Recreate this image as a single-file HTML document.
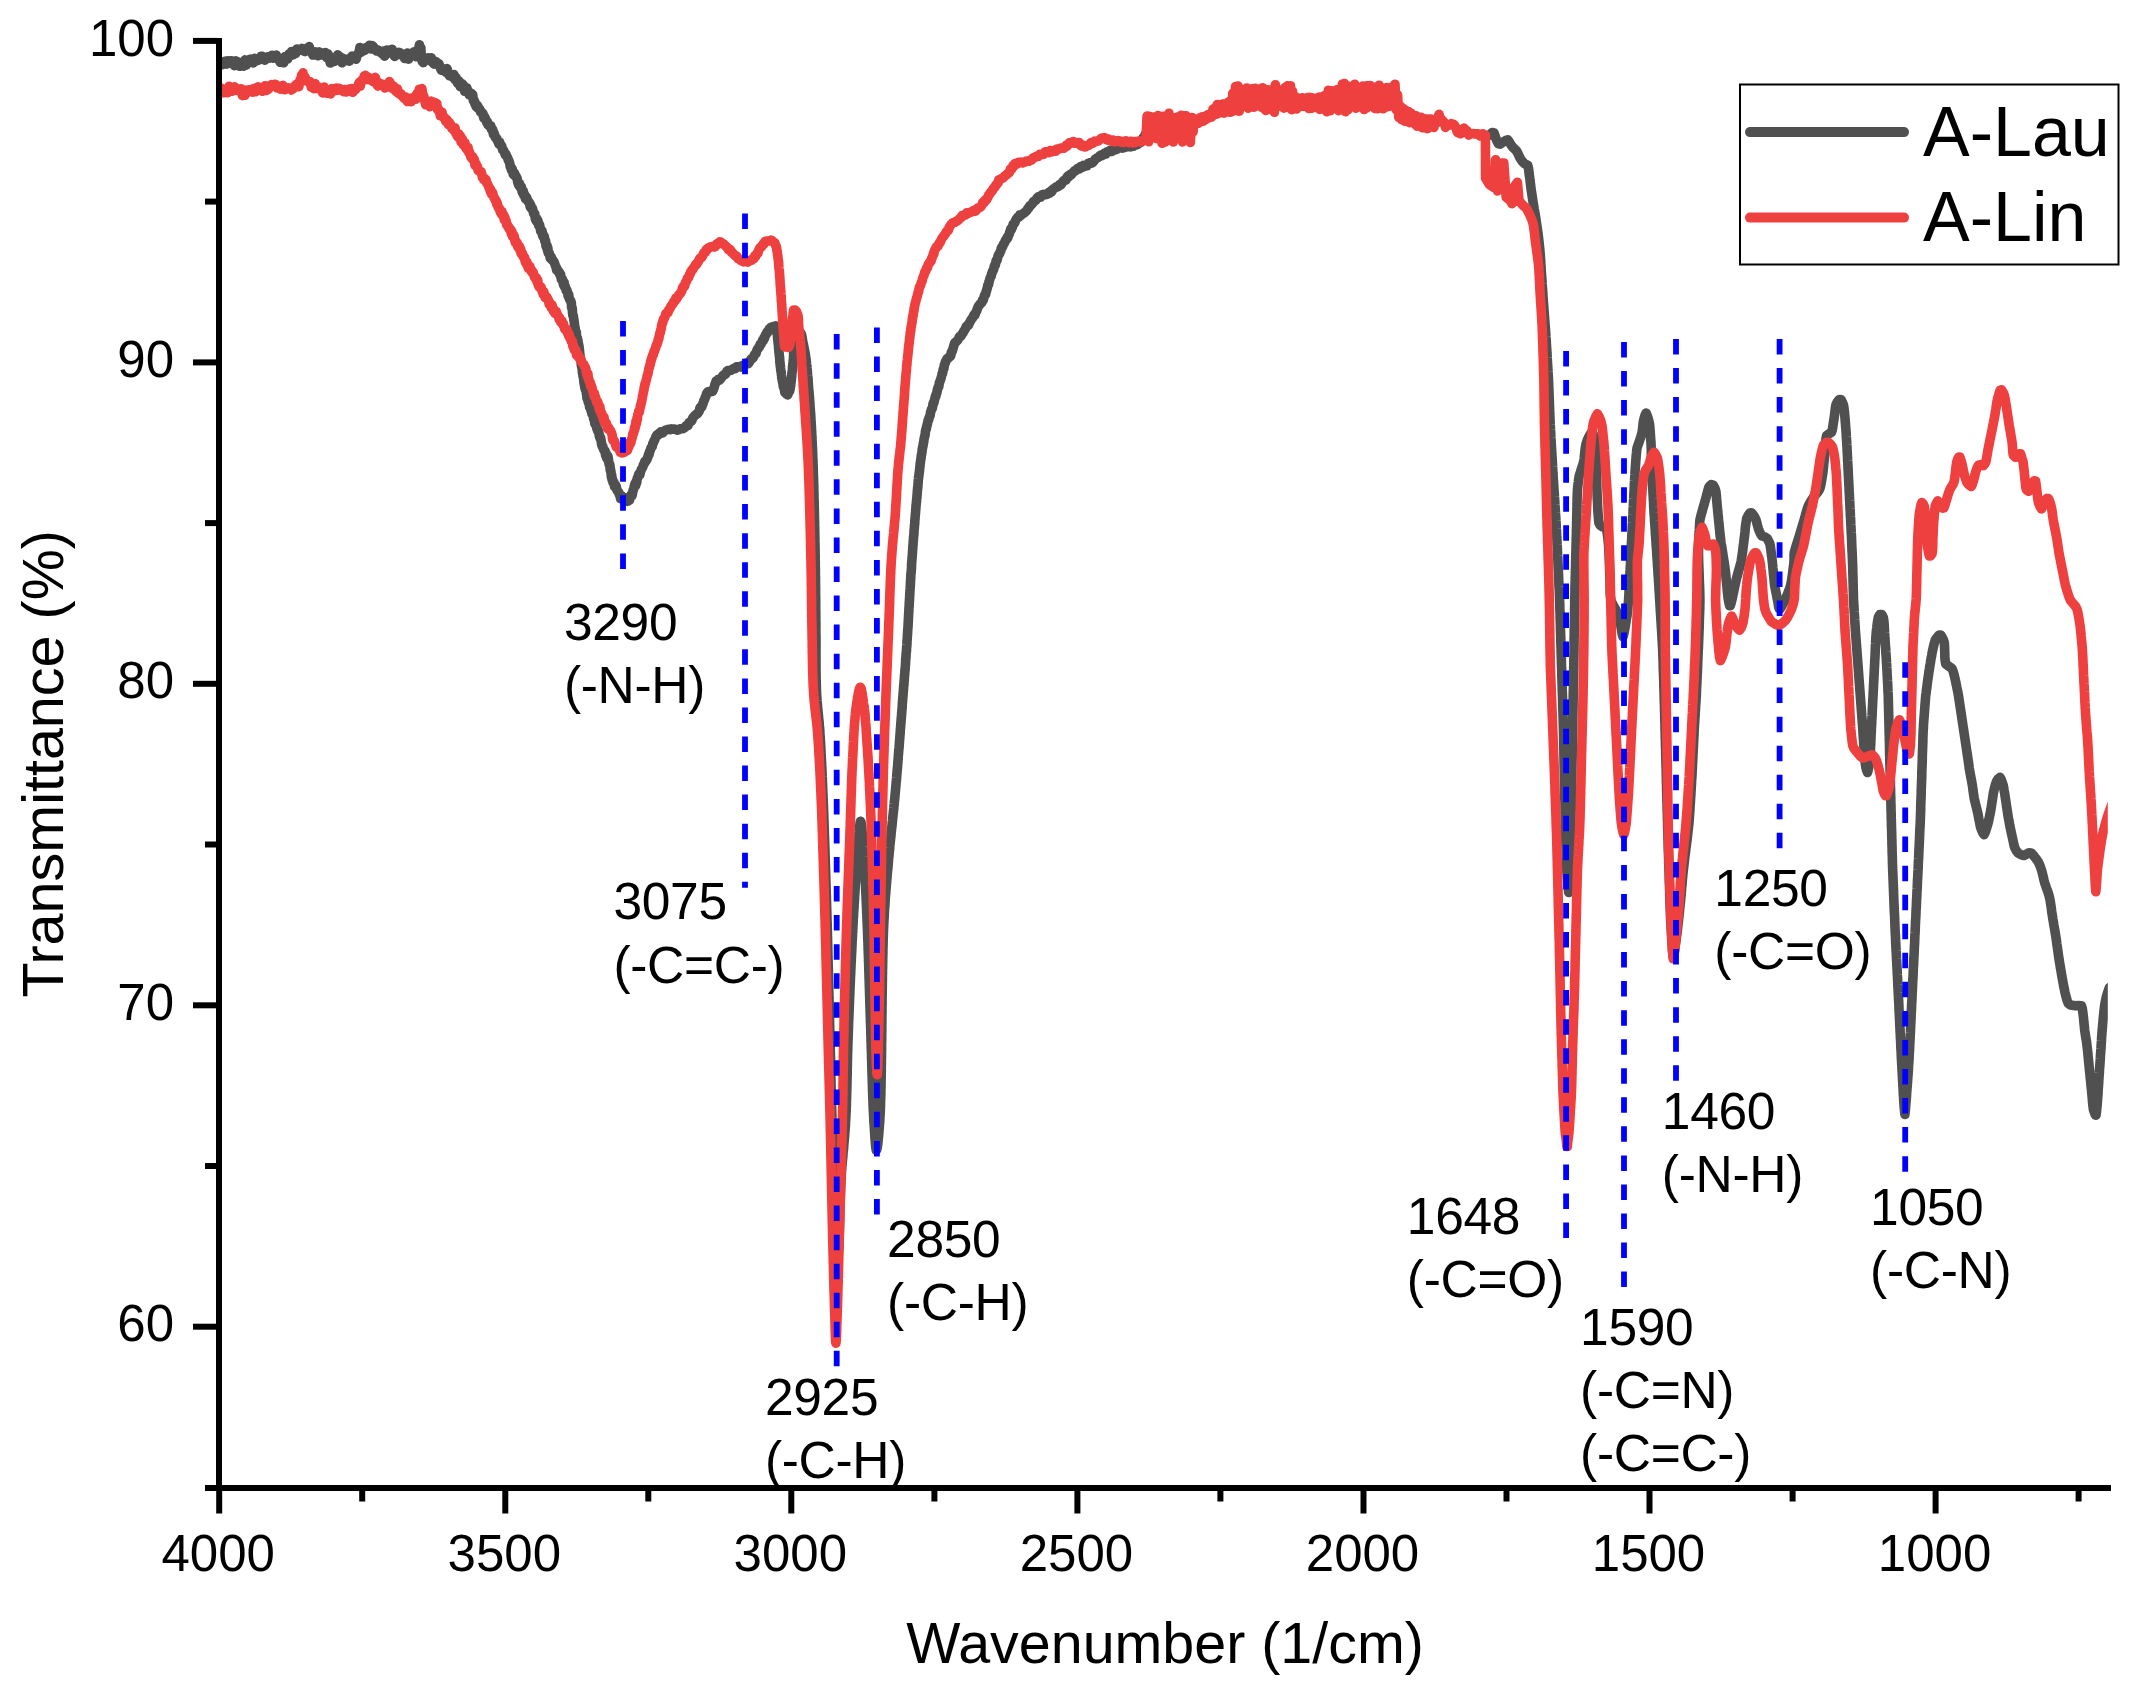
<!DOCTYPE html>
<html lang="en"><head><meta charset="utf-8"><title>FTIR spectra A-Lau / A-Lin</title>
<style>html,body{margin:0;padding:0;background:#fff}svg{display:block}text{font-family:"Liberation Sans",sans-serif;fill:#000}</style></head><body>
<svg width="2134" height="1691" viewBox="0 0 2134 1691">
<rect width="2134" height="1691" fill="#fff"/>
<defs><clipPath id="plot"><rect x="219.0" y="0" width="1888.8" height="1488.0"/></clipPath></defs>
<g clip-path="url(#plot)" fill="none" stroke-linejoin="round" stroke-linecap="round">
<path d="M216.9 63.7L218.2 62.5L219.6 65.6L221.0 61.7L222.3 64.6L223.7 63.4L225.1 61.2L226.4 64.1L227.8 60.8L229.1 63.3L230.5 60.8L231.8 60.9L233.1 63.0L234.5 65.6L235.8 60.9L237.1 61.6L238.5 64.2L239.8 66.3L241.1 63.8L242.4 62.5L243.7 66.2L245.0 59.9L246.4 65.0L247.8 61.0L249.2 59.7L250.6 59.1L251.9 60.0L253.3 62.9L254.6 58.4L255.9 60.7L257.1 60.7L258.3 58.8L259.7 59.7L261.0 56.4L262.3 56.3L263.5 57.2L264.9 60.1L266.2 58.1L267.7 56.9L269.2 58.1L270.6 56.7L272.1 55.2L273.5 58.2L274.8 57.6L276.3 55.1L277.5 58.3L278.8 59.1L280.1 62.3L281.5 61.8L282.6 58.7L283.8 62.8L285.1 56.5L286.4 57.6L287.7 59.0L289.0 54.0L290.2 55.4L291.4 51.6L292.6 54.9L293.6 54.6L294.7 52.4L295.7 53.5L296.8 49.0L298.0 51.0L299.3 49.9L300.7 49.5L302.1 48.4L303.6 50.9L305.1 51.6L306.5 48.6L307.9 50.1L309.2 46.5L310.5 51.4L311.7 51.8L312.9 54.9L314.1 54.7L315.4 51.9L316.6 53.3L317.9 55.7L319.3 51.9L320.9 55.0L322.4 53.1L324.0 52.9L325.4 52.6L326.7 57.6L327.8 53.8L328.9 55.8L329.6 58.4L330.2 63.0L331.1 58.5L332.1 60.7L333.1 60.4L334.3 61.4L335.4 59.8L336.6 59.1L337.7 54.8L338.8 56.1L339.9 56.6L340.9 61.2L342.0 62.8L343.1 58.4L344.4 59.1L345.5 59.6L346.7 59.4L348.1 60.8L349.4 61.1L350.7 58.4L352.0 56.1L353.2 58.1L354.3 57.1L355.3 57.5L356.1 59.1L356.9 56.2L357.6 53.8L358.3 53.3L359.1 52.5L359.9 47.5L360.9 52.3L362.2 50.9L363.5 51.0L365.0 50.1L366.5 47.2L368.0 47.1L369.5 45.2L370.9 48.9L372.0 45.5L373.1 46.2L374.2 48.0L375.3 48.7L376.4 50.9L377.5 49.9L378.6 50.4L379.7 52.0L380.8 52.0L382.0 53.7L383.3 51.1L384.6 56.2L385.9 53.8L387.1 50.1L388.4 50.2L389.6 50.4L390.7 50.4L392.1 49.2L393.4 54.6L394.7 56.4L395.9 53.8L397.4 54.5L398.6 52.3L400.0 52.8L401.5 54.7L402.9 54.5L404.4 58.4L405.9 54.1L407.3 53.1L408.6 59.1L410.0 56.1L411.3 53.3L412.7 55.6L414.0 51.7L415.3 54.5L416.3 56.8L417.2 55.4L418.1 53.0L418.6 48.4L419.1 47.3L419.4 44.7L419.9 48.2L420.2 46.9L420.4 49.2L420.7 47.4L420.9 48.1L421.1 53.7L421.3 56.6L421.6 57.6L421.8 59.1L422.1 60.9L422.5 61.9L422.9 59.8L423.3 62.6L423.8 62.0L424.8 59.6L425.8 58.7L427.0 59.1L428.2 57.7L429.3 59.6L430.5 61.0L431.4 57.9L432.3 61.8L433.2 63.2L434.1 64.1L435.1 61.5L436.0 61.7L437.1 62.8L438.1 63.3L439.1 64.1L440.2 67.6L441.3 70.1L442.5 70.5L443.6 68.8L444.8 70.7L445.9 72.4L447.0 68.5L448.2 73.1L449.3 75.6L450.5 75.7L451.6 76.4L452.7 75.5L453.9 74.5L454.9 79.5L456.0 77.4L457.0 81.5L457.9 83.6L458.7 80.9L459.6 82.0L460.3 86.7L461.1 86.3L461.9 83.7L462.7 84.4L463.6 85.4L464.7 91.3L465.8 91.4L466.9 87.8L468.1 93.0L469.2 94.8L470.2 93.4L470.9 92.9L471.5 94.9L472.1 94.1L472.7 94.7L473.3 100.4L473.8 100.2L474.4 100.9L474.9 104.1L475.5 103.1L476.1 106.4L476.8 107.5L477.5 105.8L478.2 107.1L478.9 108.4L479.7 109.3L480.5 112.0L481.3 111.6L482.1 113.5L482.9 113.3L483.7 118.0L484.5 116.6L485.2 118.3L486.0 120.0L486.8 122.7L487.4 121.6L488.1 125.1L488.8 124.4L489.5 125.7L490.1 126.9L490.8 125.8L491.4 129.0L492.1 129.1L492.7 129.5L493.4 134.4L494.0 132.7L494.7 135.3L495.4 137.7L496.0 138.1L496.7 138.3L497.4 140.4L498.1 141.7L498.9 144.0L499.6 142.0L500.3 145.3L501.1 145.0L501.8 146.3L502.6 149.8L503.3 149.7L504.0 151.2L504.7 153.2L505.4 155.1L506.0 154.2L506.6 156.1L507.2 156.9L507.8 158.2L508.3 160.3L508.8 160.4L509.3 162.1L509.7 163.1L510.2 166.5L510.7 166.6L511.1 168.7L511.6 170.3L512.1 168.5L512.7 171.1L513.2 174.2L513.8 174.9L514.3 172.8L514.8 173.9L515.4 176.5L516.0 176.0L516.6 177.9L517.1 178.3L517.7 182.2L518.3 183.9L519.0 185.6L519.6 183.4L520.2 187.2L520.8 188.1L521.4 186.9L522.0 191.5L522.6 193.0L523.2 190.8L523.8 195.3L524.4 193.9L524.9 195.5L525.5 198.9L526.1 199.4L526.7 197.4L527.3 199.8L527.9 201.4L528.5 201.7L529.1 202.2L529.7 203.9L530.2 207.0L530.8 204.9L531.4 208.6L532.0 209.2L532.5 208.5L533.1 211.1L533.7 213.7L534.2 214.3L534.7 213.5L535.3 218.9L535.8 219.2L536.4 221.3L536.9 218.6L537.5 220.5L538.0 220.7L538.6 225.4L539.1 224.3L539.6 224.9L540.1 227.5L540.6 230.9L541.1 231.7L541.6 230.4L542.1 231.1L542.6 235.8L543.0 235.4L543.5 237.3L544.0 235.8L544.4 236.9L544.8 241.0L545.2 241.1L545.6 240.7L545.9 245.9L546.3 245.8L546.7 247.8L547.1 245.7L547.5 250.5L547.9 248.1L548.3 253.0L548.7 252.3L549.2 253.0L549.7 255.2L550.2 258.1L550.7 256.3L551.2 256.8L551.8 259.8L552.4 259.6L553.0 260.2L553.6 261.5L554.2 262.2L554.8 264.0L555.4 265.7L556.0 266.8L556.6 270.1L557.2 269.1L557.8 271.2L558.4 270.9L559.0 272.9L559.6 272.6L560.1 274.9L560.7 274.9L561.3 279.4L561.8 279.7L562.4 279.2L562.9 281.7L563.5 285.0L564.1 282.4L564.6 286.9L565.2 286.3L565.7 287.8L566.2 290.6L566.8 289.8L567.3 291.6L567.8 293.7L568.2 296.3L568.7 294.6L569.1 298.2L569.5 299.0L569.9 299.8L570.2 300.0L570.5 300.9L570.8 300.8L571.1 302.5L571.4 303.5L571.6 307.9L571.9 307.0L572.1 307.9L572.3 308.9L572.6 313.8L572.8 315.2L573.0 315.7L573.2 315.2L573.4 316.4L573.6 318.0L573.8 320.1L574.0 320.0L574.2 322.6L574.4 323.0L574.6 327.5L574.8 328.7L575.0 328.0L575.2 327.7L575.4 332.1L575.7 330.7L576.0 332.3L576.3 332.1L576.5 335.2L576.8 337.0L577.1 338.4L577.4 338.3L577.6 341.0L577.9 340.0L578.1 342.5L578.4 343.0L578.7 345.8L578.9 345.6L579.1 346.8L579.3 349.3L579.5 350.3L579.7 353.2L579.9 354.2L580.1 356.5L580.3 357.4L580.5 359.0L580.7 361.1L580.9 360.2L581.1 361.2L581.3 365.6L581.5 363.1L581.7 367.1L581.9 368.1L582.1 366.7L582.3 371.6L582.5 373.2L582.7 373.3L582.9 375.1L583.1 376.8L583.3 375.1L583.5 378.2L583.7 379.4L583.9 382.3L584.2 383.5L584.4 385.0L584.6 385.2L584.8 387.9L585.1 388.3L585.3 389.6L585.5 388.8L585.8 389.2L586.1 390.9L586.3 393.2L586.6 393.2L586.9 397.9L587.3 398.0L587.6 399.6L588.0 400.9L588.4 402.4L588.8 402.8L589.1 401.8L589.5 406.7L589.9 407.7L590.3 407.8L590.7 409.2L591.1 411.0L591.5 409.5L591.9 413.9L592.3 412.9L592.8 413.4L593.2 415.5L593.6 418.9L594.0 417.8L594.5 421.5L594.9 423.9L595.3 422.9L595.8 423.7L596.2 425.4L596.6 427.6L597.0 429.2L597.4 429.8L597.8 431.2L598.2 429.9L598.6 431.5L599.0 433.3L599.4 436.8L599.7 436.1L600.1 438.6L600.5 437.4L600.8 438.9L601.2 441.2L601.6 444.3L602.0 445.6L602.4 446.8L602.8 446.2L603.2 448.3L603.7 449.5L604.3 450.9L605.0 450.6L605.6 455.4L606.2 453.4L606.8 458.2L607.4 459.3L608.0 456.5L608.5 459.9L608.9 462.8L609.2 464.8L609.5 463.8L609.7 464.3L610.0 465.5L610.2 470.3L610.4 468.4L610.6 471.5L610.9 470.9L611.1 474.0L611.4 477.4L611.7 474.9L612.0 479.3L612.5 479.3L613.0 482.5L613.5 483.0L614.0 482.2L614.5 486.6L615.1 485.9L615.6 485.1L616.2 486.2L616.8 489.6L617.4 490.8L618.0 491.5L618.6 492.1L619.2 494.3L619.9 495.3L620.6 498.7L621.5 495.7L622.8 499.8L624.3 500.7L625.9 497.7L627.4 501.4L628.6 500.1L629.5 500.3L630.3 496.4L630.9 495.5L631.5 494.1L632.1 495.5L632.7 492.4L633.2 490.1L633.7 489.0L634.2 486.9L634.7 484.5L635.2 483.3L635.7 485.3L636.2 481.4L636.7 483.0L637.2 478.5L637.7 477.2L638.2 477.0L638.7 474.2L639.2 473.7L639.8 475.0L640.4 472.3L640.9 470.8L641.5 469.0L642.1 468.3L642.8 467.0L643.4 464.9L644.1 464.1L644.8 461.5L645.5 461.8L646.2 460.1L646.9 459.5L647.5 458.1L648.1 456.0L648.6 454.1L649.1 454.6L649.6 451.5L650.1 450.9L650.6 449.3L651.1 447.8L651.6 447.4L652.2 446.5L652.8 443.5L653.4 443.0L654.0 440.8L654.6 440.1L655.3 438.4L655.9 436.6L656.6 435.4L657.3 434.4L658.2 435.0L659.2 433.3L660.4 432.1L661.6 433.1L662.9 432.8L664.2 431.2L665.6 430.1L667.1 429.8L668.5 429.3L670.0 429.6L671.4 428.9L672.8 429.1L674.3 429.0L675.7 429.6L677.1 430.2L678.5 429.8L680.0 428.9L681.5 428.8L682.9 428.7L684.2 427.9L685.3 427.1L686.2 425.6L687.1 425.1L688.0 425.5L688.9 422.6L689.9 422.3L690.8 421.4L691.8 420.7L692.7 418.1L693.6 417.0L694.6 415.8L695.6 415.0L696.5 414.0L697.5 413.9L698.4 412.4L699.1 411.3L699.8 408.3L700.5 407.2L701.2 407.5L701.9 406.7L702.5 404.5L703.1 403.5L703.7 400.9L704.1 400.3L704.5 400.0L704.9 398.3L705.4 397.0L706.0 396.0L706.7 393.3L707.7 392.1L709.0 391.6L710.3 391.9L711.5 391.6L712.6 391.3L713.3 389.7L713.9 388.1L714.4 386.8L714.8 384.6L715.4 383.4L716.1 381.0L717.1 381.6L718.3 379.4L719.6 380.1L720.8 378.6L722.0 376.9L723.0 375.5L724.0 374.7L725.0 374.5L725.9 373.6L726.9 371.3L727.9 370.5L729.4 370.7L730.8 370.3L732.3 369.4L733.9 368.4L735.2 368.7L736.5 366.8L738.0 366.9L739.4 366.6L740.8 367.1L742.1 365.8L743.4 365.8L744.6 364.4L745.9 363.3L747.1 362.8L748.2 363.7L749.2 362.4L750.3 360.5L751.3 358.8L752.2 358.7L753.1 357.8L754.0 355.8L754.6 354.4L755.3 354.2L756.0 353.6L756.7 350.8L757.4 349.2L758.1 348.6L758.7 347.5L759.4 346.9L760.0 344.7L760.7 344.8L761.3 343.5L762.0 341.9L762.6 340.1L763.3 340.6L763.9 338.1L764.6 338.0L765.2 335.6L765.9 334.3L766.5 334.2L767.1 332.0L767.8 332.3L768.6 330.2L769.4 328.7L770.7 327.5L772.3 326.8L773.7 326.6L774.9 327.1L775.6 325.9L776.0 327.5L776.4 328.4L776.6 331.7L776.9 331.6L777.1 333.1L777.3 334.8L777.5 336.7L777.7 339.0L777.9 340.3L778.0 341.3L778.1 343.2L778.2 344.4L778.4 344.5L778.5 345.5L778.6 348.6L778.7 349.5L778.8 349.3L778.9 352.1L779.1 352.8L779.2 354.1L779.3 355.3L779.4 356.3L779.6 357.3L779.7 359.2L779.8 360.7L779.9 363.4L780.1 362.9L780.2 366.0L780.4 365.7L780.5 367.4L780.7 369.7L780.9 371.1L781.1 371.6L781.2 372.2L781.4 374.5L781.6 375.7L781.8 378.3L782.0 378.0L782.2 379.7L782.5 382.1L782.7 381.5L782.9 383.5L783.2 385.8L783.5 387.2L783.8 387.0L784.1 388.3L784.4 389.6L784.8 392.5L785.3 391.9L786.5 394.2L787.7 394.9L788.4 393.0L789.1 391.5L789.6 391.2L790.1 388.7L790.4 386.7L790.6 386.5L790.8 384.2L791.0 382.7L791.1 380.6L791.3 380.8L791.4 379.6L791.6 377.5L791.7 376.6L791.9 373.3L792.0 372.5L792.1 371.7L792.3 371.5L792.4 370.1L792.5 367.5L792.7 365.9L792.8 364.9L792.9 363.7L793.1 363.3L793.2 360.3L793.3 360.4L793.4 358.9L793.5 357.7L793.6 356.3L793.6 354.5L793.7 352.6L793.8 351.2L793.8 349.9L793.9 349.5L794.0 346.7L794.1 345.6L794.3 345.5L794.4 343.2L794.6 341.3L794.8 339.7L795.0 339.2L795.2 337.1L795.5 337.0L795.8 335.3L796.1 334.3L796.4 331.6L796.8 330.5L797.3 330.1L798.9 331.2L800.5 332.8L801.0 333.4L801.4 334.3L801.8 335.8L802.1 337.5L802.4 339.1L802.6 340.8L802.9 342.5L803.2 343.9L803.5 344.6L803.7 346.5L804.0 347.2L804.2 348.7L804.5 349.8L804.7 351.4L805.0 352.2L805.2 353.6L805.4 355.0L805.6 356.3L805.9 358.5L806.1 359.8L806.2 360.6L806.4 361.9L806.5 363.6L806.6 364.4L806.8 365.4L806.9 367.2L807.0 368.3L807.2 370.0L807.3 370.5L807.4 372.2L807.5 373.9L807.6 375.3L807.8 376.8L807.9 377.3L808.0 379.0L808.1 380.2L808.2 381.7L808.3 383.9L808.4 384.9L808.5 386.6L808.6 387.4L808.7 389.3L808.8 390.2L809.0 391.4L809.1 393.2L809.2 394.7L809.3 395.2L809.4 397.0L809.5 398.3L809.6 399.2L809.7 400.6L809.8 401.7L809.9 403.0L810.0 404.4L810.0 406.0L810.1 407.4L810.2 408.2L810.3 409.3L810.4 411.0L810.5 412.7L810.6 413.5L810.7 415.0L810.8 416.2L810.9 418.2L810.9 419.3L811.0 420.3L811.1 421.7L811.2 423.5L811.3 424.8L811.3 426.1L811.4 426.8L811.5 428.1L811.5 429.8L811.6 430.7L811.7 431.8L811.7 433.1L811.8 435.0L811.8 435.6L811.9 437.1L812.0 438.1L812.0 439.4L812.1 441.2L812.2 442.6L812.2 443.2L812.3 444.4L812.3 446.2L812.4 447.0L812.5 448.1L812.5 450.3L812.6 451.2L812.6 453.0L812.7 453.9L812.7 455.8L812.8 456.8L812.8 457.9L812.9 459.1L813.0 461.1L813.0 462.7L813.1 464.4L813.1 465.1L813.2 467.1L813.2 468.4L813.3 470.0L813.3 470.8L813.3 472.0L813.4 473.4L813.4 474.9L813.4 475.3L813.5 476.8L813.5 478.3L813.6 479.7L813.6 480.1L813.6 481.3L813.7 483.3L813.7 484.6L813.7 485.3L813.8 486.2L813.8 488.3L813.8 489.1L813.9 490.9L813.9 491.9L813.9 493.4L814.0 494.0L814.0 496.0L814.0 496.7L814.0 498.3L814.1 500.0L814.1 501.4L814.1 502.1L814.2 503.5L814.2 505.0L814.2 506.5L814.3 507.7L814.3 508.8L814.3 510.3L814.4 512.2L814.4 513.7L814.4 514.3L814.4 516.2L814.5 517.8L814.5 518.4L814.5 520.6L814.6 521.3L814.6 523.1L814.6 524.5L814.6 525.9L814.7 527.0L814.7 528.5L814.7 530.0L814.7 531.2L814.8 532.8L814.8 534.0L814.8 535.4L814.8 536.3L814.9 538.2L814.9 539.5L814.9 540.5L814.9 542.4L815.0 543.8L815.0 544.8L815.0 545.8L815.0 547.4L815.0 548.3L815.1 549.6L815.1 551.2L815.1 552.2L815.1 553.8L815.2 555.1L815.2 555.9L815.2 557.7L815.2 558.4L815.2 560.2L815.3 561.7L815.3 562.8L815.3 563.8L815.3 565.6L815.3 566.9L815.4 568.9L815.4 569.4L815.4 571.5L815.4 573.0L815.4 574.1L815.4 575.6L815.5 576.3L815.5 578.4L815.5 579.3L815.5 581.1L815.5 582.4L815.5 582.9L815.5 584.9L815.6 586.3L815.6 586.8L815.6 588.4L815.6 590.1L815.6 590.8L815.6 592.8L815.6 593.5L815.6 595.4L815.6 596.0L815.7 597.6L815.7 599.3L815.7 599.9L815.7 601.3L815.7 602.8L815.7 603.9L815.7 604.9L815.7 606.4L815.7 607.6L815.7 609.7L815.8 610.7L815.8 612.2L815.8 612.8L815.8 614.7L815.8 615.4L815.8 617.1L815.8 618.5L815.8 619.5L815.8 621.3L815.9 622.3L815.9 623.7L815.9 625.3L815.9 625.8L815.9 628.0L815.9 629.0L815.9 630.1L815.9 631.9L815.9 632.7L815.9 634.8L816.0 635.7L816.0 636.9L816.0 638.6L816.0 639.7L816.0 640.8L816.0 642.7L816.0 643.4L816.0 645.6L816.0 646.4L816.0 648.1L816.0 649.9L816.0 650.9L816.0 652.3L816.0 653.3L816.0 654.4L816.0 655.8L816.0 657.3L816.0 659.1L816.0 660.3L816.0 661.8L816.0 663.5L816.0 664.1L816.0 665.6L816.0 667.3L816.0 668.0L816.0 669.4L816.0 671.0L816.0 672.1L816.1 673.7L816.1 674.9L816.1 676.5L816.1 677.8L816.1 678.7L816.2 680.4L816.2 681.5L816.2 682.4L816.3 684.5L816.3 685.0L816.3 686.2L816.4 687.3L816.4 689.1L816.5 690.5L816.5 691.6L816.6 692.4L816.6 693.7L816.7 694.9L816.8 696.9L816.9 698.3L817.0 699.4L817.1 701.1L817.2 702.2L817.3 704.0L817.4 705.1L817.5 705.9L817.6 707.8L817.7 708.2L817.9 710.0L818.0 711.1L818.1 712.2L818.2 713.3L818.4 715.2L818.5 715.7L818.6 717.5L818.7 719.2L818.9 719.6L819.0 721.0L819.1 722.7L819.2 723.9L819.3 725.4L819.4 726.9L819.6 727.6L819.7 729.1L819.8 730.5L819.9 731.7L819.9 733.8L820.0 734.9L820.1 736.0L820.2 736.5L820.3 738.6L820.3 739.7L820.4 740.7L820.5 742.3L820.6 743.2L820.6 744.3L820.7 745.4L820.8 746.9L820.8 748.0L820.9 749.6L821.0 751.3L821.0 752.6L821.1 754.0L821.2 755.2L821.2 756.1L821.3 757.7L821.4 758.9L821.4 760.6L821.5 761.7L821.6 762.8L821.6 764.6L821.7 766.2L821.8 766.9L821.8 768.9L821.9 769.4L822.0 771.0L822.0 772.3L822.1 774.2L822.1 775.8L822.2 777.0L822.3 777.9L822.3 779.9L822.4 780.7L822.4 782.0L822.5 784.0L822.6 785.1L822.6 786.5L822.7 787.9L822.7 789.5L822.8 790.4L822.8 792.1L822.9 793.3L823.0 794.7L823.0 795.6L823.1 797.2L823.1 798.3L823.2 799.4L823.2 800.6L823.3 802.3L823.3 803.1L823.4 805.2L823.4 805.8L823.5 807.0L823.5 808.4L823.6 810.5L823.6 811.2L823.7 812.4L823.7 813.6L823.8 814.9L823.8 816.9L823.9 818.2L823.9 819.6L823.9 820.9L824.0 821.6L824.0 823.4L824.1 824.5L824.1 826.3L824.2 827.7L824.2 829.1L824.3 829.6L824.3 831.7L824.3 833.1L824.4 834.5L824.4 835.0L824.5 836.4L824.5 837.6L824.6 838.9L824.6 841.1L824.7 842.4L824.7 843.5L824.7 845.0L824.8 846.2L824.8 847.2L824.9 848.3L824.9 849.6L825.0 851.6L825.0 852.4L825.0 853.9L825.1 855.3L825.1 856.2L825.2 857.8L825.2 859.1L825.3 860.9L825.3 861.9L825.3 863.1L825.4 865.1L825.4 866.0L825.5 867.6L825.5 868.7L825.5 869.5L825.6 871.2L825.6 872.5L825.7 874.2L825.7 875.1L825.8 876.8L825.8 877.9L825.8 878.9L825.9 880.9L825.9 881.4L826.0 883.5L826.0 884.2L826.0 885.3L826.1 886.9L826.1 888.7L826.2 890.3L826.2 890.6L826.2 892.4L826.3 893.8L826.3 895.4L826.4 896.1L826.4 897.7L826.4 898.9L826.5 900.7L826.5 901.5L826.6 903.5L826.6 904.2L826.6 905.4L826.7 907.2L826.7 908.3L826.7 909.3L826.8 911.1L826.8 911.9L826.9 913.9L826.9 915.2L826.9 916.6L827.0 917.7L827.0 918.8L827.0 920.2L827.1 921.5L827.1 923.3L827.2 923.8L827.2 926.0L827.2 926.4L827.3 927.9L827.3 929.3L827.3 931.3L827.4 932.2L827.4 933.4L827.4 935.2L827.5 935.9L827.5 937.4L827.5 938.8L827.6 940.4L827.6 941.7L827.6 942.9L827.7 944.0L827.7 945.3L827.7 946.4L827.8 948.4L827.8 949.6L827.8 951.0L827.9 951.7L827.9 953.3L827.9 955.0L828.0 956.1L828.0 957.0L828.0 958.6L828.1 960.4L828.1 961.1L828.1 962.3L828.2 963.8L828.2 965.5L828.2 967.0L828.3 967.6L828.3 968.9L828.3 970.3L828.4 971.7L828.4 973.3L828.4 974.2L828.4 975.7L828.5 976.9L828.5 979.0L828.5 980.1L828.6 980.8L828.6 983.0L828.6 983.4L828.7 985.0L828.7 987.0L828.7 988.1L828.8 989.4L828.8 990.4L828.8 991.5L828.9 993.3L828.9 994.0L828.9 995.5L829.0 997.0L829.0 998.0L829.0 999.6L829.1 1001.4L829.1 1002.6L829.1 1003.7L829.2 1005.2L829.2 1006.4L829.2 1007.4L829.3 1009.2L829.3 1010.3L829.3 1011.9L829.4 1013.4L829.4 1014.3L829.4 1015.8L829.5 1017.3L829.5 1018.3L829.5 1019.4L829.6 1021.2L829.6 1022.7L829.6 1023.9L829.7 1025.2L829.7 1026.7L829.7 1027.8L829.8 1029.1L829.8 1030.3L829.8 1031.4L829.9 1033.1L829.9 1033.9L829.9 1035.5L830.0 1037.2L830.0 1038.5L830.0 1039.7L830.1 1040.7L830.1 1042.1L830.1 1043.5L830.2 1045.0L830.2 1046.1L830.2 1047.7L830.3 1049.2L830.3 1049.8L830.3 1051.6L830.4 1053.0L830.4 1054.0L830.4 1055.4L830.5 1057.2L830.5 1057.6L830.5 1059.4L830.6 1060.3L830.6 1062.3L830.6 1063.8L830.6 1064.7L830.7 1065.6L830.7 1067.4L830.7 1068.7L830.8 1070.2L830.8 1071.3L830.8 1072.8L830.8 1074.3L830.9 1075.3L830.9 1076.5L830.9 1078.4L830.9 1079.0L831.0 1080.8L831.0 1081.8L831.0 1083.5L831.0 1084.2L831.1 1086.4L831.1 1087.0L831.1 1088.1L831.1 1089.6L831.2 1091.0L831.2 1092.0L831.2 1093.7L831.3 1095.0L831.3 1096.6L831.3 1097.6L831.4 1098.8L831.4 1100.1L831.4 1101.9L831.5 1103.4L831.5 1104.3L831.5 1105.3L831.6 1107.2L831.6 1108.1L831.7 1109.2L831.7 1110.4L831.8 1112.4L831.8 1113.7L831.9 1114.9L831.9 1116.0L832.0 1117.4L832.1 1118.4L832.1 1120.4L832.2 1121.1L832.3 1122.7L832.3 1124.2L832.4 1125.5L832.5 1126.5L832.6 1127.6L832.7 1129.2L832.7 1130.0L832.8 1132.1L832.9 1132.9L833.0 1134.7L833.1 1135.4L833.2 1136.8L833.3 1137.9L833.4 1139.4L833.5 1140.4L833.6 1141.6L833.7 1143.6L833.9 1144.4L834.0 1145.7L834.1 1147.0L834.2 1148.5L834.3 1149.7L834.4 1151.2L834.5 1152.5L834.6 1153.5L834.7 1155.4L834.8 1156.6L834.9 1157.1L835.0 1159.2L835.2 1160.5L835.3 1161.7L835.4 1162.4L835.5 1164.4L835.6 1165.5L835.7 1166.2L835.8 1167.5L835.8 1169.7L835.9 1170.8L836.0 1171.7L836.1 1172.9L836.2 1174.3L836.3 1175.7L836.4 1177.6L836.4 1178.5L836.5 1179.7L836.6 1181.7L836.6 1182.9L836.7 1183.7L836.7 1185.9L836.8 1187.1L836.8 1188.8L836.9 1190.2L837.0 1192.0L837.0 1193.5L837.0 1195.2L837.1 1196.3L837.1 1198.4L837.2 1200.0L837.2 1201.9L837.3 1203.4L837.3 1205.6L837.3 1207.0L837.4 1208.5L837.4 1210.2L837.4 1211.9L837.5 1214.0L837.5 1215.3L837.5 1217.4L837.6 1218.8L837.6 1220.9L837.6 1222.6L837.7 1224.3L837.7 1226.2L837.7 1227.0L837.7 1229.4L837.8 1230.6L837.8 1232.2L837.8 1233.7L837.9 1235.3L837.9 1236.3L837.9 1237.6L837.9 1239.5L838.0 1239.8L838.0 1241.5L838.0 1242.6L838.1 1243.1L838.1 1244.6L838.1 1245.6L838.2 1246.7L838.2 1246.8L838.2 1248.2L838.3 1248.3L838.3 1248.8L838.3 1249.6L838.4 1249.1L838.4 1250.0L838.5 1250.1L838.5 1249.8L838.5 1250.3L838.6 1249.7L838.6 1249.5L838.7 1249.2L838.7 1249.1L838.7 1248.0L838.8 1247.6L838.8 1246.9L838.9 1246.3L838.9 1245.7L838.9 1244.3L839.0 1243.9L839.0 1242.4L839.1 1241.4L839.1 1240.0L839.1 1239.0L839.2 1238.2L839.2 1236.5L839.2 1235.3L839.3 1233.4L839.3 1231.9L839.4 1230.4L839.4 1229.2L839.4 1227.6L839.5 1226.2L839.5 1223.8L839.6 1222.8L839.6 1221.3L839.7 1219.2L839.7 1217.0L839.7 1215.5L839.8 1213.5L839.8 1211.9L839.9 1210.9L839.9 1208.8L840.0 1207.1L840.0 1205.5L840.1 1203.8L840.1 1201.8L840.2 1200.1L840.2 1198.4L840.3 1196.8L840.4 1195.0L840.4 1193.4L840.5 1191.3L840.5 1190.2L840.6 1188.4L840.7 1187.2L840.7 1185.1L840.8 1183.7L840.9 1182.2L840.9 1181.6L841.0 1180.4L841.1 1178.8L841.2 1177.2L841.2 1176.3L841.3 1174.9L841.4 1173.4L841.5 1171.8L841.6 1170.5L841.7 1169.3L841.8 1167.9L841.9 1166.7L842.0 1165.6L842.1 1164.6L842.2 1162.5L842.3 1161.7L842.5 1159.9L842.6 1158.7L842.7 1158.1L842.8 1156.6L842.9 1155.7L843.0 1154.0L843.1 1152.3L843.2 1151.4L843.4 1150.3L843.5 1149.4L843.6 1148.2L843.7 1146.4L843.8 1145.0L843.9 1143.4L844.0 1142.7L844.2 1141.0L844.3 1139.6L844.4 1138.2L844.5 1136.9L844.6 1136.3L844.7 1134.4L844.8 1133.9L844.9 1131.7L845.0 1131.2L845.1 1129.1L845.2 1127.7L845.3 1127.0L845.4 1125.2L845.5 1124.3L845.5 1122.4L845.6 1120.9L845.7 1120.2L845.8 1118.9L845.8 1117.8L845.9 1116.5L845.9 1114.6L846.0 1113.9L846.1 1112.7L846.1 1111.2L846.2 1110.4L846.2 1108.5L846.3 1107.9L846.3 1106.4L846.4 1104.4L846.4 1103.1L846.4 1102.4L846.5 1101.3L846.5 1099.2L846.6 1098.1L846.6 1097.2L846.6 1095.3L846.7 1094.7L846.7 1093.0L846.7 1091.2L846.8 1090.2L846.8 1089.1L846.9 1087.6L846.9 1086.5L846.9 1084.6L846.9 1083.9L847.0 1082.2L847.0 1081.1L847.0 1079.7L847.1 1078.2L847.1 1076.8L847.1 1075.9L847.2 1074.7L847.2 1073.2L847.2 1071.6L847.2 1070.0L847.3 1068.4L847.3 1068.0L847.3 1066.4L847.4 1065.1L847.4 1063.3L847.4 1062.3L847.4 1061.3L847.5 1059.8L847.5 1058.3L847.5 1056.7L847.6 1055.5L847.6 1054.6L847.6 1052.8L847.7 1051.8L847.7 1050.4L847.7 1049.4L847.8 1048.0L847.8 1046.2L847.9 1044.7L847.9 1043.7L847.9 1042.6L848.0 1041.5L848.0 1040.4L848.1 1039.1L848.1 1036.9L848.2 1036.3L848.2 1034.9L848.3 1033.6L848.3 1032.0L848.4 1030.3L848.4 1029.5L848.5 1028.1L848.5 1026.7L848.5 1025.6L848.6 1023.7L848.6 1022.1L848.7 1021.2L848.7 1020.1L848.8 1018.2L848.9 1017.4L848.9 1016.3L849.0 1014.2L849.0 1013.3L849.1 1012.1L849.1 1010.5L849.2 1009.0L849.2 1007.7L849.3 1006.9L849.3 1005.6L849.4 1004.0L849.4 1002.3L849.5 1001.7L849.5 1000.4L849.6 998.5L849.6 997.6L849.7 996.6L849.7 995.3L849.8 993.6L849.9 992.3L849.9 991.1L850.0 989.4L850.0 988.1L850.1 986.7L850.1 985.9L850.2 984.3L850.3 983.2L850.3 981.7L850.4 980.5L850.4 978.8L850.5 977.4L850.5 977.0L850.6 975.1L850.7 973.5L850.7 972.7L850.8 971.6L850.8 969.7L850.9 968.8L851.0 967.2L851.0 966.1L851.1 964.3L851.1 963.0L851.2 962.6L851.3 961.1L851.3 959.4L851.4 958.2L851.4 956.6L851.5 955.7L851.6 954.1L851.6 953.3L851.7 951.7L851.8 950.5L851.8 949.3L851.9 947.2L852.0 945.7L852.0 944.5L852.1 943.2L852.1 941.8L852.2 940.4L852.3 939.6L852.3 938.6L852.4 936.9L852.5 936.0L852.5 934.7L852.6 932.5L852.7 931.8L852.7 930.2L852.8 928.7L852.9 928.2L852.9 926.2L853.0 925.2L853.1 924.0L853.1 923.1L853.2 921.5L853.3 920.0L853.3 918.7L853.4 917.2L853.5 916.8L853.6 915.5L853.6 913.5L853.7 912.1L853.8 911.1L853.8 910.0L853.9 909.3L854.0 908.1L854.1 906.6L854.1 904.4L854.2 903.8L854.3 902.3L854.4 900.9L854.5 899.8L854.6 897.5L854.6 896.3L854.7 895.5L854.8 894.3L854.9 892.7L855.0 891.0L855.1 890.0L855.1 888.8L855.2 886.8L855.3 885.7L855.4 884.3L855.5 882.9L855.6 881.9L855.7 880.3L855.7 879.0L855.8 877.7L855.9 876.9L856.0 875.0L856.1 874.4L856.2 872.6L856.3 871.1L856.4 870.8L856.5 868.8L856.5 868.3L856.6 867.0L856.7 865.7L856.8 863.8L856.9 862.8L857.0 861.3L857.1 860.9L857.2 859.6L857.3 858.1L857.4 856.5L857.5 854.9L857.6 853.8L857.7 851.9L857.8 850.3L858.0 848.2L858.1 846.5L858.2 844.6L858.3 843.5L858.4 841.7L858.6 839.5L858.7 838.6L858.8 836.3L858.9 834.8L859.0 833.0L859.2 831.6L859.3 830.7L859.4 828.8L859.5 827.4L859.6 826.5L859.8 825.3L859.9 824.9L860.0 823.2L860.1 823.4L860.2 821.9L860.4 822.3L860.5 821.8L860.6 821.3L860.7 821.7L860.8 821.7L861.0 822.1L861.1 822.6L861.2 823.4L861.3 824.9L861.4 825.8L861.6 826.8L861.7 827.1L861.8 828.6L861.9 830.5L862.1 831.1L862.2 833.2L862.3 834.4L862.4 836.6L862.5 837.3L862.7 839.8L862.8 841.1L862.9 842.6L863.0 844.2L863.1 846.8L863.2 848.2L863.4 849.6L863.5 851.5L863.6 853.7L863.7 854.6L863.8 856.6L863.9 857.7L864.0 858.8L864.1 860.5L864.1 861.6L864.2 862.2L864.3 863.2L864.4 864.4L864.4 866.1L864.5 867.2L864.6 868.1L864.6 869.2L864.7 870.9L864.8 872.2L864.9 873.5L864.9 874.5L865.0 875.3L865.1 876.4L865.1 878.4L865.2 879.3L865.3 880.9L865.3 881.5L865.4 883.5L865.5 884.3L865.5 886.1L865.6 887.5L865.6 888.4L865.7 889.2L865.8 891.4L865.8 892.3L865.9 894.1L866.0 894.8L866.0 896.1L866.1 898.1L866.1 898.9L866.2 900.1L866.3 901.7L866.3 903.3L866.4 904.1L866.4 906.0L866.5 907.3L866.6 908.7L866.6 909.7L866.7 911.7L866.7 913.2L866.8 914.7L866.9 915.5L866.9 917.3L867.0 918.4L867.0 920.2L867.1 920.9L867.2 923.2L867.2 924.7L867.3 925.4L867.3 926.6L867.4 927.8L867.4 929.0L867.5 929.7L867.5 931.9L867.6 932.4L867.6 933.5L867.6 934.7L867.7 936.1L867.7 937.9L867.8 938.3L867.8 939.7L867.9 941.5L867.9 942.3L868.0 943.4L868.0 945.2L868.1 946.5L868.1 947.7L868.1 949.2L868.2 949.9L868.2 951.9L868.3 953.1L868.3 953.7L868.4 955.1L868.4 956.8L868.5 958.1L868.5 959.2L868.5 960.4L868.6 962.0L868.6 963.0L868.7 964.8L868.7 966.4L868.8 967.0L868.8 968.8L868.8 970.3L868.9 971.1L868.9 973.1L869.0 974.5L869.0 975.3L869.0 976.7L869.1 978.5L869.1 979.5L869.2 980.7L869.2 982.6L869.3 983.8L869.3 984.7L869.3 986.0L869.4 987.4L869.4 988.9L869.5 990.8L869.5 991.9L869.6 993.4L869.6 994.6L869.6 996.0L869.7 996.6L869.7 998.4L869.8 1000.2L869.8 1001.5L869.8 1002.2L869.9 1003.7L869.9 1005.2L870.0 1006.3L870.0 1007.8L870.1 1008.7L870.1 1010.4L870.1 1011.8L870.2 1012.6L870.2 1014.0L870.3 1016.2L870.3 1017.3L870.4 1018.8L870.4 1019.8L870.4 1021.3L870.5 1022.7L870.5 1024.0L870.6 1024.4L870.6 1026.4L870.7 1027.3L870.7 1029.1L870.7 1030.0L870.8 1031.6L870.8 1033.4L870.9 1034.5L870.9 1035.5L871.0 1037.1L871.0 1038.4L871.0 1040.3L871.1 1041.1L871.1 1042.5L871.2 1044.2L871.2 1045.1L871.2 1047.0L871.3 1048.8L871.3 1049.8L871.4 1050.9L871.4 1052.6L871.5 1054.1L871.5 1055.1L871.5 1056.5L871.6 1057.9L871.6 1059.5L871.7 1061.1L871.7 1062.4L871.7 1063.7L871.8 1065.0L871.8 1066.9L871.9 1068.6L871.9 1069.8L871.9 1071.1L872.0 1072.6L872.0 1073.6L872.1 1075.5L872.1 1076.6L872.2 1078.1L872.2 1079.5L872.2 1080.8L872.3 1082.0L872.3 1083.3L872.4 1084.6L872.4 1086.2L872.5 1087.4L872.5 1088.9L872.5 1089.7L872.6 1091.3L872.6 1093.1L872.7 1093.8L872.7 1095.4L872.8 1096.6L872.8 1097.6L872.9 1099.6L872.9 1100.1L873.0 1101.8L873.0 1102.4L873.0 1103.5L873.1 1105.5L873.1 1106.2L873.2 1107.0L873.2 1108.5L873.3 1109.6L873.4 1111.0L873.4 1111.5L873.5 1112.7L873.5 1114.5L873.6 1115.3L873.6 1115.7L873.7 1116.9L873.7 1117.9L873.8 1119.2L873.8 1120.1L873.9 1122.0L874.0 1123.7L874.2 1125.2L874.3 1127.2L874.4 1129.0L874.5 1130.8L874.6 1132.3L874.7 1134.3L874.8 1135.9L874.9 1137.8L875.0 1138.6L875.2 1140.9L875.3 1141.5L875.4 1143.7L875.5 1144.7L875.6 1145.8L875.7 1147.3L875.9 1147.9L876.0 1148.5L876.1 1149.5L876.2 1150.0L876.4 1150.0L876.5 1149.9L876.6 1149.9L876.8 1149.6L876.9 1149.5L877.0 1148.5L877.2 1147.9L877.3 1147.2L877.5 1146.0L877.6 1144.9L877.8 1144.1L877.9 1142.9L878.1 1141.1L878.2 1139.6L878.4 1137.7L878.6 1136.2L878.7 1134.4L878.8 1133.0L879.0 1131.3L879.1 1128.9L879.3 1127.9L879.4 1125.4L879.5 1124.1L879.7 1122.2L879.8 1120.4L879.8 1118.9L879.9 1118.4L879.9 1118.1L880.0 1116.4L880.0 1115.6L880.1 1115.2L880.1 1114.3L880.2 1113.9L880.2 1112.8L880.2 1111.7L880.3 1111.2L880.3 1109.8L880.4 1108.8L880.4 1108.0L880.4 1106.7L880.5 1105.7L880.5 1104.9L880.5 1103.6L880.6 1103.1L880.6 1101.8L880.6 1100.5L880.7 1099.0L880.7 1098.2L880.7 1097.1L880.8 1096.1L880.8 1094.9L880.8 1094.1L880.9 1093.0L880.9 1091.3L880.9 1090.0L880.9 1089.0L881.0 1088.1L881.0 1086.2L881.0 1085.1L881.0 1084.2L881.1 1082.2L881.1 1081.1L881.1 1080.4L881.1 1079.0L881.2 1077.3L881.2 1075.6L881.2 1075.0L881.2 1073.5L881.3 1072.2L881.3 1071.0L881.3 1069.5L881.3 1067.7L881.3 1066.0L881.4 1064.7L881.4 1063.6L881.4 1062.1L881.4 1060.4L881.4 1058.9L881.5 1057.9L881.5 1056.5L881.5 1054.7L881.5 1053.9L881.5 1052.1L881.6 1050.0L881.6 1048.9L881.6 1047.8L881.6 1045.8L881.6 1044.7L881.6 1042.5L881.7 1041.3L881.7 1040.4L881.7 1038.6L881.7 1037.2L881.7 1035.2L881.7 1033.9L881.8 1032.5L881.8 1030.7L881.8 1029.5L881.8 1027.9L881.8 1026.8L881.8 1024.8L881.9 1023.1L881.9 1021.3L881.9 1019.8L881.9 1018.9L881.9 1016.7L881.9 1015.1L882.0 1013.7L882.0 1012.5L882.0 1011.3L882.0 1009.5L882.0 1008.2L882.0 1005.9L882.1 1004.3L882.1 1003.5L882.1 1001.6L882.1 1000.4L882.1 998.5L882.1 996.8L882.2 995.4L882.2 993.7L882.2 993.0L882.2 991.2L882.2 989.5L882.3 988.1L882.3 986.5L882.3 984.7L882.3 984.1L882.3 982.3L882.4 981.2L882.4 979.2L882.4 977.9L882.4 976.1L882.4 974.4L882.5 973.9L882.5 972.4L882.5 970.4L882.5 969.6L882.6 968.1L882.6 966.2L882.6 965.1L882.6 964.0L882.7 962.2L882.7 961.3L882.7 959.2L882.7 958.0L882.8 957.0L882.8 955.2L882.8 954.0L882.9 953.2L882.9 951.5L882.9 950.5L882.9 948.7L883.0 947.4L883.0 946.3L883.0 944.9L883.1 944.5L883.1 942.6L883.1 941.6L883.2 940.0L883.2 939.2L883.2 937.9L883.3 936.8L883.3 935.3L883.4 934.3L883.4 933.8L883.4 932.3L883.5 931.1L883.5 930.0L883.6 929.0L883.6 927.9L883.6 926.7L883.7 926.4L883.7 925.0L883.8 923.9L883.9 922.8L883.9 920.6L884.0 919.2L884.1 918.2L884.2 916.0L884.3 914.8L884.3 913.7L884.4 912.2L884.5 910.1L884.6 908.9L884.7 907.8L884.8 906.1L884.9 905.3L885.0 903.2L885.0 902.6L885.1 900.9L885.2 899.3L885.3 898.2L885.4 896.6L885.5 895.9L885.6 894.2L885.7 893.6L885.8 892.1L885.9 890.6L886.0 889.3L886.1 888.4L886.2 886.8L886.3 886.3L886.4 884.3L886.5 883.5L886.6 882.4L886.7 880.9L886.8 880.2L886.9 878.7L887.0 877.8L887.1 876.5L887.2 875.0L887.3 873.9L887.4 872.4L887.5 871.3L887.6 870.8L887.7 869.1L887.9 868.2L888.0 866.4L888.1 865.6L888.2 864.2L888.3 863.1L888.4 861.6L888.5 860.1L888.6 859.1L888.7 857.7L888.9 856.3L889.0 855.6L889.1 853.9L889.2 852.7L889.3 852.0L889.4 850.5L889.6 849.4L889.7 848.1L889.8 846.0L889.9 844.9L890.1 843.4L890.2 842.8L890.3 841.5L890.5 839.9L890.6 838.7L890.7 837.6L890.9 836.4L891.0 834.7L891.1 834.0L891.2 832.2L891.4 831.2L891.5 829.5L891.7 828.2L891.8 827.7L891.9 826.2L892.1 824.9L892.2 823.0L892.3 821.7L892.5 820.5L892.6 819.3L892.7 818.1L892.9 816.9L893.0 815.2L893.1 814.2L893.3 813.3L893.4 811.5L893.5 810.8L893.7 809.3L893.8 808.1L893.9 806.3L894.1 805.2L894.2 804.1L894.3 802.4L894.5 800.8L894.6 800.3L894.7 798.9L894.9 797.0L895.0 795.4L895.1 794.9L895.2 793.3L895.4 791.3L895.5 790.3L895.6 788.9L895.7 788.3L895.8 786.5L895.9 785.9L896.0 784.5L896.1 782.5L896.3 781.9L896.4 780.3L896.5 779.3L896.6 778.1L896.7 776.2L896.8 774.7L896.9 774.3L897.0 772.4L897.1 771.6L897.2 770.1L897.3 768.8L897.5 767.5L897.6 766.0L897.7 764.5L897.8 762.8L897.9 762.1L898.0 760.4L898.1 759.2L898.2 758.3L898.3 756.1L898.4 755.4L898.5 753.3L898.6 752.6L898.7 751.4L898.8 749.5L899.0 748.4L899.1 747.5L899.2 745.8L899.3 744.4L899.4 742.7L899.5 741.2L899.6 740.1L899.7 738.9L899.8 737.3L899.9 736.1L900.0 734.6L900.1 734.0L900.2 732.6L900.3 730.4L900.4 729.0L900.5 728.3L900.6 726.8L900.7 726.6L900.8 724.0L900.9 722.6L901.0 722.6L901.1 719.6L901.2 719.3L901.3 717.5L901.4 717.3L901.5 715.4L901.6 714.6L901.7 712.0L901.8 711.9L901.9 710.5L902.0 708.9L902.1 708.2L902.2 707.0L902.3 704.1L902.4 703.1L902.5 701.9L902.6 700.3L902.7 698.6L902.8 697.8L902.9 696.3L903.0 696.1L903.1 694.3L903.2 692.2L903.3 691.4L903.4 690.4L903.5 688.9L903.6 687.2L903.7 685.7L903.8 684.3L903.9 685.2L904.0 683.4L904.1 680.7L904.2 680.8L904.3 680.1L904.4 677.9L904.5 675.7L904.6 675.2L904.7 673.9L904.8 672.1L904.9 671.6L905.0 669.1L905.1 669.9L905.2 668.0L905.3 666.7L905.4 666.1L905.5 664.2L905.6 662.0L905.7 660.7L905.7 659.2L905.8 657.7L905.9 658.0L906.0 656.9L906.1 654.4L906.2 652.8L906.3 652.5L906.4 651.6L906.5 650.5L906.6 647.5L906.7 647.5L906.8 646.2L906.9 644.7L907.0 642.4L907.0 640.8L907.1 641.0L907.2 638.6L907.3 637.5L907.4 636.6L907.4 635.0L907.5 634.7L907.6 632.2L907.7 630.5L907.8 630.3L907.8 629.2L907.9 628.3L908.0 626.8L908.1 626.0L908.1 624.8L908.2 622.5L908.3 621.2L908.4 619.1L908.4 618.2L908.5 617.5L908.6 615.1L908.6 615.1L908.7 612.6L908.8 611.9L908.9 611.8L908.9 608.5L909.0 607.1L909.1 606.7L909.2 604.8L909.2 604.7L909.3 601.7L909.4 602.3L909.4 601.0L909.5 599.5L909.6 597.4L909.7 595.7L909.7 595.2L909.8 593.6L909.9 592.0L910.0 590.5L910.0 589.4L910.1 588.6L910.2 587.6L910.3 586.4L910.4 583.4L910.4 582.4L910.5 581.4L910.6 580.3L910.7 578.5L910.8 576.8L910.8 575.2L910.9 574.4L911.0 573.3L911.1 573.1L911.2 571.6L911.3 570.2L911.4 569.1L911.5 567.7L911.5 565.6L911.6 564.7L911.7 561.7L911.8 561.7L911.9 560.2L912.0 558.3L912.1 557.6L912.2 557.1L912.3 554.7L912.4 553.8L912.5 551.7L912.6 550.4L912.7 550.2L912.8 547.0L912.9 545.9L913.0 545.6L913.1 543.7L913.2 541.5L913.3 541.4L913.4 539.3L913.5 538.3L913.6 536.5L913.8 535.3L913.9 534.0L914.0 532.2L914.1 530.1L914.2 528.8L914.3 528.9L914.4 526.7L914.5 524.3L914.7 524.5L914.8 521.7L914.9 519.9L915.0 519.4L915.1 517.4L915.2 516.5L915.3 515.2L915.5 513.0L915.6 512.4L915.7 509.9L915.8 509.4L915.9 508.2L916.0 505.6L916.2 505.0L916.3 502.9L916.4 502.3L916.5 501.9L916.6 499.8L916.7 498.8L916.9 497.6L917.0 494.9L917.1 495.5L917.2 493.6L917.3 491.0L917.4 491.3L917.5 489.1L917.7 487.4L917.8 487.9L917.9 485.8L918.0 485.1L918.1 482.5L918.2 482.8L918.3 480.1L918.4 479.4L918.5 478.6L918.6 476.7L918.8 476.9L918.9 475.1L919.0 474.3L919.1 474.2L919.2 472.6L919.3 472.7L919.4 471.2L919.5 470.9L919.7 468.5L919.8 467.6L920.0 466.0L920.2 463.0L920.4 462.9L920.6 460.7L920.7 460.3L920.9 458.9L921.1 458.0L921.3 455.3L921.4 454.6L921.6 454.3L921.8 453.5L922.0 451.8L922.2 449.1L922.4 449.1L922.7 446.6L922.9 446.3L923.1 445.5L923.4 442.7L923.6 443.1L923.8 441.2L924.1 438.9L924.4 437.3L924.6 436.5L924.9 436.0L925.2 434.1L925.4 431.7L925.7 430.1L926.0 429.0L926.3 429.2L926.6 426.6L926.9 426.1L927.2 424.3L927.4 424.0L927.8 421.9L928.2 419.9L928.6 420.2L929.0 418.1L929.4 417.1L929.8 416.0L930.2 415.1L930.6 411.7L931.0 411.2L931.4 409.5L931.8 408.9L932.2 408.4L932.6 406.9L933.0 403.9L933.4 402.9L933.8 403.0L934.2 401.3L934.6 399.4L935.0 398.2L935.4 396.2L935.8 396.4L936.2 394.1L936.6 393.8L937.0 391.9L937.4 389.4L937.8 388.6L938.2 387.0L938.6 387.2L939.0 385.2L939.4 382.6L939.8 381.6L940.2 380.7L940.6 379.6L941.0 378.5L941.4 376.7L941.8 375.3L942.2 373.3L942.6 373.2L942.9 371.3L943.2 369.2L943.6 368.8L943.9 368.6L944.3 365.2L944.6 364.1L945.0 364.0L945.4 362.0L945.8 360.9L946.3 360.5L947.2 358.5L948.3 358.1L949.3 356.9L950.3 356.5L950.8 355.6L951.3 352.3L951.7 352.2L952.1 351.3L952.6 350.1L953.0 348.5L953.5 346.8L953.9 345.4L954.5 343.6L955.1 342.3L955.9 342.1L956.7 341.1L957.7 340.1L958.6 338.5L959.6 336.6L960.5 336.5L961.4 335.3L962.3 333.6L963.1 332.7L963.9 330.9L964.7 330.1L965.5 328.6L966.2 326.6L967.0 326.0L967.8 324.8L968.6 325.0L969.5 322.7L970.3 321.3L971.1 319.8L971.9 318.6L972.7 317.7L973.5 316.0L974.2 314.5L974.9 315.2L975.5 313.1L976.1 311.9L976.7 310.9L977.2 309.1L977.8 307.6L978.4 306.2L979.0 305.6L979.7 304.4L980.4 304.2L981.1 302.8L981.8 302.6L982.5 300.1L983.2 300.2L983.8 298.2L984.3 296.0L984.8 295.0L985.2 294.6L985.7 294.2L986.1 291.5L986.5 291.0L986.9 288.9L987.3 288.5L987.7 285.4L988.2 284.9L988.6 284.5L989.0 281.8L989.5 280.5L989.9 278.7L990.3 277.6L990.8 276.6L991.2 276.2L991.6 273.8L992.1 272.9L992.5 271.2L992.9 270.8L993.4 270.1L993.9 268.3L994.3 266.0L994.8 265.9L995.3 265.1L995.7 263.0L996.2 260.6L996.7 260.9L997.2 259.8L997.7 257.4L998.2 255.7L998.7 254.5L999.2 254.0L999.7 253.5L1000.2 251.7L1000.8 251.0L1001.3 248.2L1001.8 247.3L1002.4 247.0L1003.0 245.6L1003.6 243.9L1004.3 243.4L1005.0 241.5L1005.7 239.8L1006.4 239.5L1007.1 237.6L1007.8 237.6L1008.3 235.8L1008.8 235.0L1009.3 233.9L1009.8 231.9L1010.3 231.1L1010.8 228.8L1011.4 229.5L1011.9 227.5L1012.5 227.2L1013.3 223.9L1014.0 223.8L1014.8 222.8L1015.5 220.7L1016.4 218.9L1017.2 217.9L1018.1 216.8L1018.9 217.2L1019.9 214.7L1021.0 215.5L1022.1 214.0L1023.2 213.5L1024.3 212.9L1025.3 211.9L1026.3 211.1L1027.2 209.9L1028.1 208.1L1029.0 207.8L1029.9 205.5L1030.8 205.4L1031.7 204.4L1032.7 203.2L1033.7 201.1L1034.8 200.9L1035.8 200.3L1036.9 198.2L1038.1 196.9L1039.3 196.8L1040.6 197.1L1042.0 194.9L1043.4 194.2L1044.7 194.7L1046.1 194.6L1047.2 194.2L1048.4 192.7L1049.5 193.4L1050.7 191.1L1051.8 191.5L1052.9 189.3L1054.1 188.4L1055.2 187.8L1056.4 186.8L1057.5 186.9L1058.7 186.1L1059.8 184.3L1060.9 185.0L1062.1 182.7L1063.1 181.3L1064.1 180.4L1065.1 180.6L1066.0 180.0L1067.0 177.3L1068.0 176.0L1069.0 176.6L1070.0 174.5L1071.1 175.1L1072.3 173.1L1073.4 172.4L1074.5 170.8L1075.7 170.9L1076.8 169.3L1078.0 168.3L1079.3 168.9L1080.6 166.6L1082.0 167.5L1083.3 165.6L1084.7 166.4L1086.0 165.3L1087.2 165.7L1088.3 163.3L1089.5 163.7L1090.6 162.7L1091.7 163.1L1092.9 162.4L1094.0 161.0L1095.1 159.3L1096.3 158.5L1097.4 157.7L1098.5 157.3L1099.7 156.0L1100.8 155.2L1102.0 155.7L1103.3 154.7L1104.6 153.2L1105.9 154.0L1107.2 151.7L1108.6 151.8L1110.0 150.3L1111.3 151.4L1112.6 150.9L1114.0 149.1L1115.4 149.7L1116.8 149.4L1118.2 147.8L1119.5 147.5L1120.9 147.6L1122.3 148.2L1123.6 146.5L1125.0 147.4L1126.4 147.0L1127.8 146.5L1129.1 146.5L1130.5 146.8L1132.0 144.9L1133.5 146.0L1134.9 144.4L1136.3 144.9L1137.6 144.5L1138.7 142.4L1140.0 143.0L1141.1 142.3L1142.0 139.7L1143.0 138.0L1143.7 137.1L1144.4 137.9L1145.1 134.6L1145.7 135.3L1146.3 133.2L1147.0 132.0" stroke="#505050" stroke-width="9.6"/>
<path d="M1489.4 135.1L1492.2 132.6L1494.0 132.8L1494.9 135.4L1495.8 138.2L1497.0 141.1L1498.3 143.7L1500.1 144.1L1502.6 142.3L1505.2 140.8L1507.8 139.8L1509.4 142.1L1511.0 144.9L1512.7 147.2L1514.7 149.1L1516.6 151.0L1518.0 153.6L1519.2 156.4L1520.6 159.0L1522.5 161.6L1524.6 163.8L1527.8 165.4L1528.4 167.8L1528.8 170.6L1529.1 173.5L1529.5 176.4L1529.9 179.1L1530.2 182.0L1530.6 184.9L1530.9 187.8L1531.3 190.4L1531.7 193.0L1532.1 195.7L1532.5 198.4L1532.9 201.1L1533.3 203.7L1533.8 206.4L1534.2 209.0L1534.7 211.7L1535.1 214.4L1535.6 217.0L1536.0 219.7L1536.4 222.4L1536.8 225.0L1537.2 227.7L1537.6 230.4L1537.9 233.0L1538.3 235.7L1538.6 238.3L1538.9 240.9L1539.2 243.5L1539.5 246.2L1539.7 248.9L1540.0 251.6L1540.2 254.2L1540.4 256.8L1540.6 259.4L1540.7 262.1L1540.9 264.8L1541.1 267.5L1541.2 270.2L1541.4 272.9L1541.6 275.6L1541.8 278.2L1542.0 280.9L1542.1 283.5L1542.3 286.1L1542.5 288.8L1542.7 291.4L1542.8 294.1L1543.0 296.8L1543.2 299.5L1543.4 302.1L1543.6 304.7L1543.8 307.4L1544.0 310.0L1544.2 312.7L1544.4 315.4L1544.6 318.1L1544.8 320.8L1545.0 323.5L1545.2 326.1L1545.4 328.7L1545.6 331.4L1545.8 334.1L1545.9 336.8L1546.1 339.4L1546.3 342.1L1546.4 344.7L1546.6 347.4L1546.8 350.0L1546.9 352.7L1547.1 355.4L1547.2 358.0L1547.4 360.7L1547.5 363.4L1547.7 366.0L1547.9 368.7L1548.0 371.5L1548.2 374.3L1548.3 377.1L1548.5 379.8L1548.6 382.3L1548.7 384.8L1548.8 387.3L1548.9 389.9L1549.0 392.5L1549.1 395.1L1549.2 397.7L1549.3 400.4L1549.4 403.1L1549.5 405.7L1549.6 408.4L1549.7 411.1L1549.8 413.8L1549.9 416.5L1550.0 419.2L1550.1 421.8L1550.2 424.5L1550.4 427.1L1550.5 429.8L1550.7 432.4L1550.8 435.1L1550.9 437.8L1551.1 440.4L1551.2 443.1L1551.4 445.7L1551.5 448.4L1551.7 451.1L1551.8 453.7L1552.0 456.4L1552.2 459.1L1552.3 461.7L1552.5 464.4L1552.6 467.0L1552.8 469.7L1552.9 472.4L1553.1 475.0L1553.2 477.7L1553.4 480.4L1553.6 483.0L1553.7 485.7L1553.9 488.3L1554.1 491.0L1554.3 493.7L1554.4 496.3L1554.6 499.0L1554.8 501.6L1554.9 504.3L1555.1 507.0L1555.3 509.6L1555.4 512.3L1555.6 514.9L1555.8 517.6L1555.9 520.3L1556.1 522.9L1556.2 525.6L1556.3 528.3L1556.5 531.0L1556.6 533.7L1556.7 536.4L1556.9 539.1L1557.0 541.8L1557.1 544.5L1557.3 547.2L1557.4 549.9L1557.5 552.6L1557.6 555.3L1557.8 557.9L1557.9 560.5L1558.0 563.1L1558.1 565.7L1558.2 568.2L1558.4 570.9L1558.5 573.6L1558.6 576.3L1558.7 578.9L1558.8 581.4L1558.9 584.0L1559.0 586.5L1559.2 589.1L1559.3 591.7L1559.4 594.4L1559.5 597.2L1559.6 600.0L1559.7 602.4L1559.8 604.8L1559.8 607.3L1559.9 609.8L1560.0 612.3L1560.1 614.8L1560.1 617.4L1560.2 620.0L1560.3 622.6L1560.4 625.2L1560.4 627.9L1560.5 630.5L1560.6 633.2L1560.7 635.9L1560.8 638.6L1560.8 641.3L1560.9 643.9L1561.0 646.6L1561.1 649.3L1561.1 652.0L1561.2 654.6L1561.3 657.3L1561.4 659.9L1561.4 662.6L1561.5 665.2L1561.6 667.8L1561.7 670.4L1561.8 673.0L1561.8 675.6L1561.9 678.2L1562.0 680.8L1562.1 683.4L1562.2 686.0L1562.2 688.6L1562.3 691.3L1562.4 693.9L1562.5 696.5L1562.6 699.1L1562.6 701.7L1562.7 704.3L1562.8 706.9L1562.9 709.5L1563.0 712.1L1563.0 714.7L1563.1 717.3L1563.2 719.9L1563.3 722.5L1563.3 725.1L1563.4 727.8L1563.5 730.4L1563.5 733.0L1563.6 735.6L1563.6 738.2L1563.7 740.9L1563.7 743.5L1563.8 746.1L1563.8 748.8L1563.9 751.4L1563.9 754.1L1564.0 756.7L1564.0 759.3L1564.1 762.0L1564.1 764.6L1564.2 767.2L1564.2 769.8L1564.3 772.4L1564.3 775.0L1564.4 777.6L1564.4 780.2L1564.5 782.7L1564.5 785.3L1564.6 787.8L1564.6 790.4L1564.7 793.0L1564.8 795.8L1564.8 798.5L1564.9 801.2L1565.0 804.0L1565.0 806.7L1565.1 809.4L1565.1 812.1L1565.2 814.8L1565.3 817.5L1565.3 820.1L1565.4 822.8L1565.4 825.4L1565.5 828.0L1565.6 830.6L1565.6 833.2L1565.7 835.7L1565.8 838.3L1565.8 840.9L1565.9 843.7L1566.0 846.6L1566.1 849.3L1566.2 852.1L1566.2 854.8L1566.3 857.5L1566.4 860.2L1566.5 862.8L1566.6 865.3L1566.7 867.7L1566.8 870.0L1567.0 873.1L1567.2 875.8L1567.5 878.6L1567.7 881.4L1568.0 884.5L1568.2 887.7L1568.5 890.5L1568.7 892.4L1569.0 890.5L1569.2 887.7L1569.5 884.5L1569.7 881.4L1569.8 878.6L1569.9 875.8L1569.9 873.1L1569.9 870.0L1570.0 867.7L1570.0 865.3L1570.1 862.8L1570.1 860.2L1570.2 857.5L1570.3 854.8L1570.3 852.1L1570.4 849.3L1570.4 846.6L1570.5 843.7L1570.6 840.9L1570.6 838.3L1570.7 835.7L1570.7 833.2L1570.8 830.6L1570.8 828.0L1570.9 825.4L1570.9 822.8L1571.0 820.1L1571.0 817.5L1571.1 814.8L1571.1 812.1L1571.2 809.4L1571.2 806.7L1571.3 804.0L1571.4 801.2L1571.4 798.5L1571.5 795.8L1571.5 793.0L1571.6 790.4L1571.6 787.8L1571.7 785.3L1571.7 782.7L1571.7 780.2L1571.8 777.6L1571.8 775.0L1571.9 772.4L1571.9 769.8L1572.0 767.2L1572.0 764.6L1572.1 762.0L1572.1 759.3L1572.2 756.7L1572.2 754.1L1572.2 751.4L1572.3 748.8L1572.3 746.1L1572.4 743.5L1572.4 740.9L1572.5 738.2L1572.5 735.6L1572.6 733.0L1572.6 730.4L1572.7 727.8L1572.7 725.1L1572.8 722.5L1572.8 719.9L1572.8 717.3L1572.9 714.7L1572.9 712.1L1573.0 709.5L1573.0 706.9L1573.1 704.3L1573.1 701.7L1573.2 699.1L1573.2 696.5L1573.3 693.9L1573.3 691.3L1573.4 688.6L1573.4 686.0L1573.4 683.4L1573.5 680.8L1573.5 678.2L1573.6 675.6L1573.6 673.0L1573.7 670.4L1573.7 667.8L1573.8 665.2L1573.8 662.6L1573.8 660.0L1573.9 657.3L1573.9 654.7L1574.0 652.1L1574.0 649.4L1574.0 646.8L1574.1 644.2L1574.1 641.5L1574.1 638.9L1574.2 636.2L1574.2 633.6L1574.3 631.0L1574.3 628.3L1574.3 625.7L1574.4 623.1L1574.4 620.5L1574.5 617.9L1574.5 615.3L1574.5 612.7L1574.6 610.1L1574.6 607.6L1574.7 605.0L1574.7 602.5L1574.7 600.0L1574.8 597.2L1574.9 594.5L1574.9 591.8L1575.0 589.0L1575.0 586.3L1575.1 583.6L1575.2 581.0L1575.2 578.3L1575.3 575.6L1575.4 573.0L1575.4 570.3L1575.5 567.7L1575.6 565.1L1575.6 562.5L1575.7 559.9L1575.8 557.4L1575.8 554.8L1575.9 552.2L1576.0 549.4L1576.0 546.7L1576.1 544.0L1576.2 541.4L1576.2 538.7L1576.3 536.1L1576.4 533.5L1576.4 530.9L1576.5 528.2L1576.6 525.6L1576.6 523.0L1576.7 520.3L1576.7 517.6L1576.8 514.9L1576.9 512.1L1576.9 509.3L1577.0 506.6L1577.0 503.8L1577.1 501.1L1577.1 498.5L1577.2 495.9L1577.3 493.3L1577.4 490.9L1577.6 488.1L1577.9 485.2L1578.3 482.3L1578.6 479.6L1579.0 476.9L1579.8 474.2L1580.6 471.6L1581.4 468.9L1582.3 466.3L1583.1 463.7L1583.8 460.9L1584.2 458.4L1584.4 455.8L1584.7 453.1L1585.0 450.4L1585.3 447.8L1585.8 445.2L1586.5 442.5L1587.4 439.9L1588.6 437.2L1590.2 434.3L1591.8 432.2L1593.2 434.2L1594.4 437.1L1595.2 439.8L1595.4 442.3L1595.6 444.9L1595.7 447.7L1595.9 450.5L1596.0 453.4L1596.1 456.3L1596.2 459.0L1596.3 461.6L1596.3 464.2L1596.4 466.8L1596.4 469.5L1596.5 472.3L1596.6 475.0L1596.6 477.7L1596.7 480.4L1596.8 483.1L1596.8 485.8L1596.9 488.4L1597.0 491.1L1597.1 493.8L1597.2 496.6L1597.3 499.4L1597.5 502.1L1597.6 504.8L1597.7 507.4L1597.8 510.0L1598.0 512.4L1598.2 515.1L1598.4 517.9L1598.6 520.5L1598.9 522.9L1600.1 525.1L1602.2 526.7L1604.8 527.2L1606.4 528.7L1606.9 531.0L1607.3 533.7L1607.7 536.5L1608.0 539.5L1608.3 542.6L1608.6 545.6L1608.7 548.1L1608.9 550.7L1609.0 553.3L1609.1 556.0L1609.2 558.7L1609.3 561.4L1609.4 564.2L1609.5 566.9L1609.6 569.6L1609.7 572.3L1609.8 574.9L1609.9 577.5L1610.0 580.3L1610.0 583.0L1610.0 585.7L1610.1 588.4L1610.1 591.0L1610.2 593.7L1610.4 596.2L1610.7 598.8L1611.3 601.3L1612.5 603.8L1613.8 606.2L1615.2 608.6L1616.5 611.0L1617.8 613.5L1619.0 616.0L1619.6 618.6L1620.1 621.5L1620.7 624.5L1621.1 627.5L1621.6 630.4L1622.0 633.0L1622.5 635.1L1623.0 636.7L1623.5 635.1L1624.0 633.0L1624.5 630.4L1625.0 627.6L1625.5 624.6L1626.0 621.6L1626.5 618.6L1627.0 616.0L1627.3 613.3L1627.6 610.7L1627.8 608.1L1628.1 605.5L1628.3 602.8L1628.6 600.0L1628.7 597.5L1628.9 595.0L1629.0 592.4L1629.1 589.8L1629.3 587.1L1629.4 584.4L1629.5 581.7L1629.7 579.0L1629.8 576.3L1629.9 573.6L1630.1 570.9L1630.2 568.2L1630.4 565.6L1630.5 562.9L1630.6 560.3L1630.8 557.6L1630.9 554.9L1631.0 552.3L1631.1 549.6L1631.3 546.9L1631.4 544.3L1631.5 541.6L1631.7 538.9L1631.8 536.3L1631.9 533.6L1632.1 530.9L1632.2 528.3L1632.3 525.6L1632.5 523.0L1632.6 520.3L1632.7 517.6L1632.9 515.0L1633.0 512.3L1633.1 509.7L1633.3 507.0L1633.4 504.3L1633.5 501.7L1633.7 499.0L1633.8 496.3L1633.9 493.6L1634.1 490.9L1634.2 488.2L1634.3 485.6L1634.4 482.9L1634.6 480.3L1634.7 477.6L1634.9 475.0L1635.0 472.3L1635.2 469.5L1635.4 466.7L1635.6 463.9L1635.8 461.1L1636.0 458.3L1636.2 455.6L1636.5 453.0L1636.7 450.5L1637.0 448.2L1637.9 445.3L1638.8 442.8L1639.7 440.2L1640.6 437.6L1641.4 434.9L1642.1 432.2L1642.5 429.4L1642.8 426.5L1643.1 423.6L1643.5 420.8L1644.2 418.0L1645.1 415.1L1646.1 413.0L1647.0 415.0L1648.0 417.9L1648.9 421.1L1649.5 423.9L1649.8 426.5L1650.0 429.2L1650.2 431.9L1650.4 434.7L1650.6 437.5L1650.8 440.4L1651.0 443.1L1651.1 445.7L1651.2 448.3L1651.3 451.0L1651.3 453.7L1651.4 456.4L1651.5 459.0L1651.6 461.7L1651.7 464.4L1651.8 467.1L1651.9 469.7L1652.0 472.4L1652.1 475.1L1652.3 477.7L1652.4 480.4L1652.5 483.0L1652.6 485.7L1652.8 488.4L1652.9 491.0L1653.0 493.7L1653.2 496.3L1653.3 499.0L1653.5 501.7L1653.6 504.3L1653.7 507.0L1653.9 509.7L1654.0 512.3L1654.2 515.0L1654.4 517.6L1654.5 520.3L1654.7 523.0L1654.9 525.6L1655.1 528.3L1655.3 530.9L1655.4 533.6L1655.6 536.3L1655.8 538.9L1656.0 541.6L1656.1 544.2L1656.3 546.8L1656.5 549.4L1656.7 552.0L1656.8 554.7L1657.0 557.4L1657.2 560.2L1657.4 562.8L1657.5 565.3L1657.7 567.9L1657.9 570.5L1658.0 573.1L1658.2 575.7L1658.4 578.4L1658.5 581.1L1658.7 583.7L1658.9 586.4L1659.0 589.1L1659.2 591.9L1659.4 594.6L1659.5 597.3L1659.7 600.0L1659.9 602.6L1660.0 605.2L1660.2 607.9L1660.3 610.5L1660.5 613.1L1660.7 615.8L1660.8 618.5L1661.0 621.1L1661.2 623.8L1661.3 626.5L1661.5 629.2L1661.7 631.9L1661.8 634.5L1662.0 637.2L1662.1 639.9L1662.3 642.6L1662.4 645.2L1662.6 647.9L1662.7 650.6L1662.8 653.2L1662.9 655.9L1663.0 658.6L1663.1 661.2L1663.2 663.9L1663.2 666.5L1663.3 669.2L1663.4 671.9L1663.5 674.5L1663.6 677.2L1663.7 679.8L1663.8 682.5L1663.8 685.2L1663.9 687.8L1664.0 690.5L1664.1 693.2L1664.2 695.8L1664.2 698.5L1664.3 701.1L1664.4 703.8L1664.5 706.5L1664.5 709.1L1664.6 711.8L1664.7 714.4L1664.7 717.1L1664.8 719.8L1664.9 722.4L1665.0 725.1L1665.0 727.8L1665.1 730.4L1665.2 733.1L1665.2 735.7L1665.3 738.4L1665.4 741.1L1665.4 743.7L1665.5 746.4L1665.6 749.0L1665.7 751.7L1665.7 754.4L1665.8 757.0L1665.9 759.7L1665.9 762.4L1666.0 765.0L1666.1 767.7L1666.2 770.3L1666.2 773.0L1666.3 775.7L1666.4 778.3L1666.4 781.0L1666.5 783.6L1666.6 786.3L1666.6 789.0L1666.7 791.6L1666.8 794.3L1666.9 797.0L1666.9 799.7L1667.0 802.4L1667.1 805.1L1667.1 807.8L1667.2 810.5L1667.3 813.2L1667.4 815.9L1667.4 818.6L1667.5 821.3L1667.6 824.0L1667.6 826.6L1667.7 829.3L1667.8 831.9L1667.9 834.5L1667.9 837.0L1668.0 839.5L1668.1 842.3L1668.2 845.0L1668.2 847.7L1668.3 850.3L1668.4 852.9L1668.5 855.4L1668.6 858.0L1668.7 860.6L1668.7 863.2L1668.8 865.9L1668.9 868.7L1669.0 871.3L1669.1 873.9L1669.2 876.4L1669.2 879.0L1669.3 881.7L1669.4 884.4L1669.5 887.0L1669.6 889.7L1669.7 892.4L1669.7 895.1L1669.8 897.9L1669.9 900.6L1670.0 903.3L1670.1 906.0L1670.2 908.7L1670.3 911.3L1670.4 914.0L1670.5 916.6L1670.6 919.3L1670.8 922.1L1671.0 925.0L1671.1 928.0L1671.3 931.0L1671.5 934.1L1671.6 937.1L1671.8 940.0L1672.0 942.9L1672.2 945.6L1672.3 948.2L1672.5 950.6L1672.7 952.8L1672.9 954.7L1673.2 956.3L1673.5 956.3L1673.8 954.5L1674.2 952.3L1674.7 949.8L1675.1 947.0L1675.5 944.1L1675.9 941.1L1676.3 938.1L1676.7 935.2L1677.1 932.6L1677.4 930.0L1677.7 927.4L1678.0 924.8L1678.3 922.1L1678.6 919.4L1678.9 916.7L1679.2 914.0L1679.5 911.3L1679.7 908.6L1680.0 905.9L1680.3 903.3L1680.6 900.6L1680.8 898.0L1681.1 895.3L1681.3 892.7L1681.5 890.1L1681.7 887.5L1682.0 884.8L1682.2 882.2L1682.4 879.5L1682.7 876.8L1682.9 874.1L1683.2 871.4L1683.5 868.7L1683.8 866.2L1684.1 863.6L1684.4 861.0L1684.7 858.4L1685.0 855.7L1685.4 853.1L1685.7 850.4L1686.0 847.8L1686.4 845.1L1686.7 842.4L1687.1 839.7L1687.4 837.0L1687.7 834.3L1688.0 831.6L1688.3 828.9L1688.6 826.2L1688.9 823.6L1689.1 820.9L1689.3 818.3L1689.5 815.6L1689.7 813.0L1689.9 810.3L1690.0 807.6L1690.2 805.0L1690.4 802.3L1690.5 799.6L1690.7 797.0L1690.9 794.3L1691.0 791.6L1691.2 789.0L1691.3 786.3L1691.5 783.7L1691.6 781.0L1691.8 778.3L1692.0 775.7L1692.1 773.0L1692.2 770.3L1692.4 767.6L1692.5 764.9L1692.6 762.2L1692.8 759.5L1692.9 756.8L1693.0 754.1L1693.2 751.4L1693.3 748.7L1693.4 746.0L1693.6 743.4L1693.7 740.7L1693.8 738.1L1694.0 735.5L1694.1 732.9L1694.2 730.3L1694.3 727.8L1694.5 725.0L1694.7 722.2L1694.8 719.5L1695.0 716.9L1695.2 714.2L1695.3 711.6L1695.5 709.0L1695.6 706.3L1695.8 703.7L1696.0 701.1L1696.1 698.5L1696.3 695.8L1696.4 693.2L1696.5 690.5L1696.6 687.8L1696.8 685.2L1696.9 682.5L1697.0 679.8L1697.1 677.2L1697.2 674.5L1697.4 671.9L1697.5 669.2L1697.6 666.5L1697.7 663.9L1697.8 661.2L1697.9 658.6L1698.0 655.9L1698.1 653.2L1698.2 650.6L1698.4 647.9L1698.5 645.2L1698.6 642.6L1698.7 639.9L1698.8 637.3L1698.9 634.6L1699.0 631.9L1699.1 629.3L1699.2 626.7L1699.3 624.0L1699.3 621.4L1699.4 618.8L1699.5 616.2L1699.6 613.5L1699.7 610.9L1699.8 608.2L1699.8 605.5L1699.9 602.8L1699.9 600.0L1699.9 597.5L1699.8 594.9L1699.8 592.2L1699.7 589.6L1699.6 586.9L1699.5 584.3L1699.4 581.6L1699.3 578.9L1699.2 576.1L1699.1 573.4L1699.0 570.7L1698.9 568.0L1698.8 565.3L1698.7 562.7L1698.6 560.0L1698.6 557.4L1698.5 554.8L1698.5 552.2L1698.6 549.4L1698.7 546.5L1698.8 543.7L1698.8 540.9L1698.9 538.1L1699.0 535.4L1699.1 532.7L1699.3 530.0L1699.4 527.4L1699.6 524.9L1699.7 522.4L1699.9 520.0L1700.6 517.0L1701.3 514.2L1702.1 511.6L1702.8 508.9L1703.6 506.1L1704.4 503.3L1705.2 500.5L1706.0 497.7L1706.8 494.8L1707.5 491.8L1708.3 489.0L1709.2 486.5L1711.3 484.6L1713.2 485.1L1714.9 488.1L1715.8 490.9L1716.1 493.4L1716.4 496.0L1716.6 498.8L1716.8 501.6L1717.1 504.3L1717.3 507.0L1717.6 509.7L1717.8 512.3L1718.1 515.0L1718.4 517.6L1718.6 520.3L1718.9 523.0L1719.2 525.6L1719.4 528.3L1719.7 530.9L1719.9 533.6L1720.2 536.3L1720.6 538.9L1720.9 541.6L1721.3 544.3L1721.8 546.9L1722.2 549.6L1722.6 552.2L1723.0 554.9L1723.4 557.5L1723.8 560.1L1724.2 562.7L1724.6 565.4L1725.0 568.1L1725.3 570.8L1725.6 573.4L1725.9 576.1L1726.1 578.8L1726.4 581.7L1726.7 584.5L1727.0 587.3L1727.2 590.1L1727.5 592.8L1727.8 595.4L1728.1 597.8L1728.4 600.0L1729.0 603.1L1729.6 605.6L1730.3 605.6L1731.1 603.0L1731.9 600.0L1732.4 597.7L1732.9 595.2L1733.5 592.6L1734.0 589.9L1734.6 587.2L1735.2 584.4L1735.8 581.7L1736.3 579.1L1737.0 576.6L1737.7 574.1L1738.4 571.6L1739.1 569.1L1739.8 566.7L1740.5 564.1L1741.1 561.6L1741.5 559.0L1741.9 556.3L1742.3 553.7L1742.7 551.0L1743.0 548.3L1743.3 545.6L1743.7 542.9L1744.0 540.2L1744.3 537.6L1744.7 534.8L1745.0 531.9L1745.2 529.0L1745.5 526.2L1745.9 523.5L1746.3 520.9L1746.7 518.4L1748.2 515.4L1749.9 512.9L1751.5 512.7L1753.2 514.8L1754.8 517.2L1756.0 519.8L1756.8 522.6L1757.5 525.5L1758.3 528.3L1759.3 531.0L1760.5 533.7L1761.9 536.0L1765.1 537.0L1767.4 538.7L1768.7 541.2L1769.9 544.0L1770.3 546.4L1770.7 549.0L1771.1 551.7L1771.4 554.5L1771.8 557.3L1772.1 560.1L1772.4 562.8L1772.7 565.5L1772.9 568.2L1773.2 570.9L1773.4 573.6L1773.7 576.3L1774.0 579.0L1774.2 581.7L1774.5 584.3L1774.9 586.9L1775.4 589.6L1776.0 592.3L1776.5 594.9L1777.0 597.5L1777.5 600.0L1778.1 603.1L1778.5 606.2L1779.1 608.7L1780.1 608.9L1781.4 606.8L1782.9 604.2L1784.4 601.4L1785.6 598.8L1786.7 596.3L1787.7 593.7L1788.7 591.0L1789.7 588.3L1790.6 585.5L1791.1 582.9L1791.6 580.2L1792.0 577.4L1792.4 574.6L1792.8 571.7L1793.1 568.9L1793.5 566.2L1793.8 563.6L1794.0 561.1L1794.1 558.2L1794.0 555.2L1794.3 552.4L1795.0 549.8L1795.8 547.2L1796.6 544.4L1797.5 541.7L1798.4 538.9L1799.2 536.3L1800.0 533.6L1800.8 530.9L1801.6 528.3L1802.4 525.6L1803.2 523.0L1804.0 520.3L1804.8 517.6L1805.5 514.8L1806.3 512.1L1807.1 509.4L1807.9 506.9L1809.0 504.4L1810.4 502.1L1811.7 499.9L1813.2 497.7L1815.0 495.4L1816.9 493.2L1818.7 490.9L1819.9 488.5L1820.6 486.0L1821.1 483.4L1821.6 480.7L1822.0 477.9L1822.5 475.1L1822.9 472.5L1823.2 469.8L1823.5 467.2L1823.7 464.4L1824.0 461.7L1824.3 459.0L1824.5 456.3L1824.8 453.6L1825.0 451.0L1825.3 448.4L1825.5 445.6L1825.7 442.8L1825.9 440.1L1826.2 437.6L1826.7 435.4L1829.1 433.8L1831.5 432.2L1832.3 429.7L1832.8 426.9L1833.2 423.9L1833.7 420.9L1834.1 418.1L1834.5 415.4L1834.8 412.6L1835.2 409.8L1835.5 407.1L1836.0 404.6L1837.3 402.0L1839.3 399.5L1841.0 399.5L1842.3 402.1L1843.5 405.1L1843.9 407.5L1844.2 410.0L1844.5 412.6L1844.7 415.3L1845.0 418.1L1845.2 420.7L1845.4 423.2L1845.6 425.8L1845.8 428.4L1846.0 431.0L1846.2 433.6L1846.3 436.3L1846.5 439.0L1846.7 441.8L1846.8 444.3L1847.0 446.9L1847.1 449.6L1847.2 452.2L1847.4 454.9L1847.5 457.6L1847.6 460.3L1847.8 463.0L1847.9 465.7L1848.0 468.4L1848.2 471.1L1848.3 473.7L1848.4 476.4L1848.6 479.0L1848.7 481.7L1848.8 484.4L1849.0 487.0L1849.1 489.7L1849.2 492.4L1849.4 495.0L1849.5 497.7L1849.6 500.3L1849.8 503.0L1849.9 505.7L1850.0 508.3L1850.2 511.0L1850.3 513.6L1850.4 516.3L1850.6 519.0L1850.7 521.6L1850.8 524.3L1851.0 527.0L1851.1 529.6L1851.2 532.3L1851.4 534.9L1851.5 537.6L1851.6 540.3L1851.7 542.9L1851.8 545.6L1851.9 548.3L1852.0 550.9L1852.2 553.6L1852.3 556.3L1852.4 558.9L1852.5 561.6L1852.6 564.2L1852.7 566.9L1852.8 569.5L1852.8 572.2L1852.9 574.9L1853.0 577.5L1853.0 580.2L1853.1 582.8L1853.2 585.5L1853.2 588.1L1853.3 590.7L1853.4 593.4L1853.4 596.0L1853.5 598.7L1853.6 601.4L1853.8 604.0L1853.9 606.7L1854.1 609.3L1854.2 612.0L1854.4 614.6L1854.6 617.3L1854.7 620.0L1854.9 622.6L1855.1 625.3L1855.2 627.9L1855.4 630.6L1855.6 633.3L1855.8 635.9L1856.0 638.6L1856.2 641.3L1856.4 643.9L1856.6 646.6L1856.8 649.2L1857.0 651.9L1857.2 654.6L1857.4 657.2L1857.6 659.9L1857.8 662.5L1858.0 665.2L1858.2 667.9L1858.4 670.5L1858.6 673.2L1858.8 675.9L1859.0 678.5L1859.2 681.2L1859.4 683.8L1859.6 686.5L1859.8 689.2L1860.0 691.8L1860.2 694.5L1860.4 697.1L1860.6 699.8L1860.8 702.5L1861.0 705.2L1861.2 707.9L1861.4 710.6L1861.6 713.3L1861.8 715.9L1862.0 718.6L1862.2 721.3L1862.4 723.9L1862.6 726.5L1862.8 729.1L1862.9 731.9L1863.1 734.6L1863.3 737.3L1863.5 740.0L1863.6 742.6L1863.8 745.3L1864.0 747.9L1864.2 750.4L1864.4 753.1L1864.6 755.9L1864.9 758.7L1865.1 761.4L1865.4 764.1L1865.7 766.5L1866.4 769.6L1867.5 772.5L1868.0 770.5L1868.6 767.8L1869.1 764.6L1869.6 761.3L1869.9 758.5L1870.1 756.0L1870.3 753.5L1870.4 750.9L1870.5 748.2L1870.7 745.5L1870.8 742.8L1870.9 740.1L1871.0 737.3L1871.1 734.5L1871.3 731.8L1871.4 729.1L1871.5 726.4L1871.7 723.8L1871.8 721.1L1871.9 718.4L1872.1 715.8L1872.2 713.1L1872.3 710.5L1872.4 707.8L1872.6 705.1L1872.7 702.5L1872.8 699.8L1873.0 697.1L1873.1 694.5L1873.2 691.8L1873.4 689.2L1873.5 686.5L1873.6 683.8L1873.8 681.2L1873.9 678.5L1874.0 675.9L1874.2 673.2L1874.3 670.5L1874.4 667.9L1874.6 665.2L1874.7 662.5L1874.8 659.8L1875.0 657.1L1875.1 654.4L1875.2 651.7L1875.3 648.9L1875.4 646.2L1875.6 643.5L1875.7 640.8L1875.8 638.2L1876.0 635.7L1876.2 633.2L1876.4 630.5L1876.8 627.6L1877.1 624.7L1877.5 622.0L1877.9 619.4L1878.4 617.0L1879.8 614.5L1881.9 614.6L1883.4 617.6L1883.7 619.8L1884.0 622.2L1884.2 624.8L1884.3 627.4L1884.5 630.2L1884.6 633.0L1884.8 635.8L1884.9 638.6L1885.1 641.2L1885.3 643.9L1885.5 646.5L1885.7 649.1L1885.8 651.8L1886.0 654.4L1886.2 657.1L1886.4 659.8L1886.5 662.5L1886.7 665.2L1886.8 667.8L1887.0 670.4L1887.1 673.0L1887.2 675.7L1887.4 678.4L1887.5 681.0L1887.7 683.7L1887.8 686.4L1887.9 689.1L1888.0 691.8L1888.2 694.5L1888.3 697.1L1888.3 699.8L1888.4 702.5L1888.5 705.1L1888.5 707.8L1888.6 710.5L1888.7 713.1L1888.7 715.8L1888.8 718.4L1888.9 721.1L1888.9 723.8L1889.0 726.4L1889.1 729.1L1889.1 731.7L1889.2 734.4L1889.3 737.1L1889.3 739.7L1889.4 742.4L1889.5 745.1L1889.5 747.7L1889.6 750.4L1889.6 753.0L1889.7 755.7L1889.8 758.4L1889.8 761.0L1889.9 763.7L1890.0 766.3L1890.0 769.0L1890.1 771.7L1890.2 774.3L1890.2 777.0L1890.3 779.7L1890.4 782.3L1890.4 785.0L1890.5 787.6L1890.6 790.3L1890.6 793.0L1890.7 795.6L1890.8 798.2L1890.8 800.9L1890.9 803.5L1891.0 806.1L1891.0 808.7L1891.1 811.4L1891.2 814.0L1891.2 816.7L1891.3 819.4L1891.4 822.2L1891.4 824.8L1891.5 827.4L1891.6 829.9L1891.7 832.5L1891.7 835.1L1891.8 837.7L1891.9 840.4L1891.9 843.0L1892.0 845.6L1892.1 848.3L1892.1 851.0L1892.2 853.7L1892.3 856.4L1892.4 859.1L1892.4 861.8L1892.5 864.5L1892.6 867.3L1892.7 870.0L1892.8 872.6L1892.9 875.1L1893.0 877.6L1893.1 880.2L1893.2 882.8L1893.3 885.3L1893.4 887.9L1893.5 890.5L1893.6 893.2L1893.7 895.8L1893.8 898.4L1893.9 901.0L1894.0 903.7L1894.1 906.3L1894.2 909.0L1894.3 911.6L1894.5 914.3L1894.6 916.9L1894.7 919.5L1894.8 922.2L1894.9 924.8L1895.0 927.4L1895.1 930.1L1895.2 932.7L1895.4 935.3L1895.5 937.9L1895.6 940.5L1895.7 943.1L1895.9 945.8L1896.0 948.4L1896.1 951.0L1896.3 953.6L1896.4 956.2L1896.5 958.8L1896.7 961.5L1896.8 964.1L1896.9 966.7L1897.1 969.3L1897.2 971.9L1897.3 974.5L1897.5 977.1L1897.6 979.8L1897.7 982.4L1897.8 985.0L1898.0 987.6L1898.1 990.2L1898.2 992.8L1898.4 995.4L1898.5 998.0L1898.6 1000.7L1898.8 1003.3L1898.9 1006.0L1899.0 1008.7L1899.1 1011.3L1899.3 1014.0L1899.4 1016.7L1899.5 1019.4L1899.7 1022.1L1899.8 1024.8L1899.9 1027.4L1900.0 1030.1L1900.2 1032.8L1900.3 1035.4L1900.4 1038.1L1900.6 1040.7L1900.7 1043.4L1900.8 1046.0L1900.9 1048.6L1901.1 1051.1L1901.2 1053.7L1901.3 1056.2L1901.4 1058.7L1901.6 1061.4L1901.7 1064.2L1901.9 1067.0L1902.0 1069.8L1902.2 1072.6L1902.3 1075.4L1902.5 1078.2L1902.6 1080.9L1902.8 1083.6L1902.9 1086.3L1903.1 1088.9L1903.2 1091.4L1903.3 1094.0L1903.5 1096.4L1903.6 1098.8L1903.8 1101.5L1904.0 1104.6L1904.2 1107.7L1904.5 1110.4L1904.7 1112.8L1904.9 1114.5L1905.1 1112.8L1905.4 1110.4L1905.6 1107.7L1905.8 1104.6L1906.1 1101.5L1906.3 1098.8L1906.5 1096.4L1906.6 1094.0L1906.8 1091.4L1907.0 1088.9L1907.2 1086.3L1907.4 1083.6L1907.6 1080.9L1907.8 1078.2L1908.0 1075.4L1908.2 1072.6L1908.4 1069.8L1908.5 1067.0L1908.7 1064.2L1908.9 1061.4L1909.1 1058.8L1909.2 1056.2L1909.3 1053.7L1909.5 1051.1L1909.6 1048.6L1909.7 1046.0L1909.8 1043.4L1910.0 1040.7L1910.1 1038.1L1910.2 1035.4L1910.4 1032.8L1910.5 1030.1L1910.6 1027.4L1910.7 1024.8L1910.9 1022.1L1911.0 1019.4L1911.1 1016.7L1911.2 1014.0L1911.4 1011.3L1911.5 1008.7L1911.6 1006.0L1911.7 1003.3L1911.9 1000.7L1912.0 998.0L1912.1 995.4L1912.2 992.8L1912.4 990.2L1912.5 987.7L1912.6 985.1L1912.7 982.6L1912.8 980.0L1913.0 977.5L1913.1 974.9L1913.2 972.3L1913.3 969.8L1913.4 967.2L1913.6 964.6L1913.7 962.1L1913.8 959.5L1913.9 956.9L1914.1 954.2L1914.2 951.6L1914.3 949.0L1914.4 946.3L1914.6 943.6L1914.7 940.9L1914.8 938.2L1914.9 935.4L1915.1 932.8L1915.2 930.3L1915.3 927.9L1915.4 925.4L1915.5 922.8L1915.6 920.3L1915.8 917.7L1915.9 915.1L1916.0 912.5L1916.1 909.9L1916.3 907.2L1916.4 904.6L1916.5 901.9L1916.6 899.2L1916.8 896.6L1916.9 893.9L1917.0 891.2L1917.2 888.5L1917.3 885.8L1917.4 883.0L1917.5 880.3L1917.7 877.6L1917.8 874.9L1917.9 872.2L1918.1 869.5L1918.2 866.8L1918.3 864.1L1918.4 861.5L1918.6 858.8L1918.7 856.2L1918.8 853.5L1918.9 850.9L1919.0 848.3L1919.2 845.7L1919.3 843.2L1919.4 840.6L1919.5 838.1L1919.6 835.6L1919.7 833.1L1919.8 830.7L1919.9 828.3L1920.1 825.9L1920.2 823.6L1920.3 820.7L1920.4 817.8L1920.5 815.0L1920.6 812.3L1920.7 809.5L1920.7 806.9L1920.8 804.2L1920.9 801.6L1921.0 799.0L1921.1 796.4L1921.2 793.8L1921.2 791.3L1921.3 788.7L1921.4 786.1L1921.5 783.5L1921.6 780.9L1921.7 778.3L1921.8 775.7L1921.8 773.0L1921.9 770.3L1922.0 767.6L1922.1 764.9L1922.2 762.2L1922.3 759.5L1922.3 756.8L1922.4 754.1L1922.5 751.4L1922.6 748.7L1922.7 746.0L1922.8 743.4L1922.9 740.7L1922.9 738.1L1923.0 735.5L1923.1 732.9L1923.2 730.3L1923.4 727.8L1923.5 725.0L1923.7 722.2L1923.9 719.5L1924.1 716.8L1924.3 714.1L1924.5 711.4L1924.7 708.8L1924.9 706.2L1925.1 703.6L1925.3 701.0L1925.5 698.4L1925.7 695.8L1926.1 693.1L1926.4 690.3L1926.8 687.7L1927.1 685.0L1927.5 682.3L1927.8 679.7L1928.2 677.1L1928.6 674.5L1928.9 671.9L1929.4 669.0L1929.8 666.2L1930.3 663.5L1930.7 660.7L1931.2 658.0L1931.7 655.3L1932.1 652.7L1932.7 650.0L1933.3 647.3L1933.9 644.8L1934.6 642.3L1935.3 639.9L1937.2 637.3L1939.2 635.0L1940.8 635.1L1942.2 637.4L1943.5 640.1L1944.3 642.7L1944.5 645.2L1944.6 647.9L1944.7 650.7L1944.8 653.6L1944.8 656.4L1945.0 659.1L1945.3 661.6L1945.7 663.9L1947.8 665.6L1950.0 667.0L1952.1 668.7L1953.1 671.2L1953.9 674.0L1954.6 676.9L1955.3 679.8L1955.8 682.4L1956.4 685.1L1956.9 687.7L1957.5 690.4L1958.0 693.1L1958.5 695.8L1958.9 698.5L1959.3 701.1L1959.7 703.8L1960.1 706.5L1960.5 709.1L1960.9 711.8L1961.3 714.4L1961.7 717.1L1962.1 719.8L1962.5 722.4L1962.9 725.1L1963.3 727.8L1963.7 730.4L1964.1 733.1L1964.5 735.7L1964.9 738.4L1965.3 741.1L1965.7 743.7L1966.1 746.4L1966.5 749.1L1966.9 751.8L1967.3 754.5L1967.7 757.1L1968.1 759.7L1968.5 762.5L1968.9 765.3L1969.2 768.1L1969.7 770.9L1970.2 773.7L1970.7 776.5L1971.3 779.3L1971.8 782.2L1972.3 784.9L1972.7 787.6L1973.0 790.3L1973.4 793.0L1973.8 795.7L1974.2 798.3L1974.8 800.9L1975.4 803.5L1976.0 806.0L1976.7 808.5L1977.3 811.1L1977.9 813.7L1978.4 816.4L1978.9 819.2L1979.5 821.9L1980.0 824.6L1980.5 827.2L1981.5 829.9L1982.7 832.7L1984.0 834.7L1984.9 833.0L1985.8 830.6L1986.7 827.8L1987.6 824.9L1988.3 822.3L1988.9 819.7L1989.4 817.0L1990.0 814.3L1990.5 811.6L1991.0 808.9L1991.4 806.3L1991.8 803.6L1992.2 800.9L1992.6 798.2L1993.0 795.5L1993.4 792.9L1994.0 790.2L1994.7 787.2L1995.5 784.3L1996.4 781.7L1997.9 779.1L2000.0 777.3L2001.1 779.3L2002.2 782.2L2003.2 785.2L2003.7 787.7L2004.1 790.3L2004.6 792.9L2005.0 795.6L2005.4 798.3L2005.8 800.9L2006.2 803.6L2006.6 806.3L2007.0 809.0L2007.4 811.6L2007.8 814.3L2008.2 817.0L2008.8 819.9L2009.3 822.8L2009.8 825.6L2010.4 828.4L2011.0 831.2L2011.6 834.0L2012.2 836.8L2012.8 839.5L2013.4 842.4L2014.0 845.2L2014.8 847.9L2016.1 850.4L2018.1 852.9L2020.7 854.6L2024.0 855.5L2026.5 854.2L2029.1 852.7L2031.5 853.2L2033.5 855.5L2035.1 857.5L2036.8 859.7L2038.3 861.9L2039.5 864.5L2040.5 867.2L2041.5 870.0L2042.2 872.5L2042.8 875.0L2043.4 877.6L2044.0 880.2L2044.7 882.8L2045.6 885.3L2046.4 887.9L2047.4 890.5L2048.3 893.1L2049.1 895.8L2049.7 898.4L2050.2 900.9L2050.6 903.5L2051.0 906.1L2051.4 908.7L2051.7 911.4L2052.1 914.0L2052.5 916.6L2052.9 919.3L2053.4 922.0L2053.8 924.8L2054.3 927.5L2054.8 930.2L2055.2 932.9L2055.7 935.7L2056.1 938.4L2056.5 941.0L2056.8 943.6L2057.2 946.3L2057.6 948.9L2058.0 951.6L2058.3 954.2L2058.7 956.8L2059.1 959.4L2059.5 962.2L2060.0 965.0L2060.4 967.7L2060.9 970.5L2061.4 973.2L2061.8 975.9L2062.3 978.6L2062.8 981.3L2063.3 984.0L2063.8 986.8L2064.4 989.4L2064.9 992.0L2065.5 994.6L2066.3 997.5L2067.1 1000.4L2068.1 1003.0L2069.8 1004.7L2072.4 1005.3L2075.1 1005.7L2078.4 1005.6L2081.4 1005.7L2082.2 1008.0L2082.6 1010.8L2083.0 1013.7L2083.3 1016.2L2083.6 1018.8L2083.8 1021.5L2084.1 1024.3L2084.4 1027.0L2084.6 1029.7L2085.0 1032.4L2085.4 1035.0L2085.8 1037.7L2086.3 1040.3L2086.7 1043.0L2087.0 1045.7L2087.3 1048.3L2087.6 1051.0L2087.9 1053.6L2088.1 1056.3L2088.4 1059.0L2088.6 1061.6L2088.9 1064.3L2089.2 1067.0L2089.4 1069.6L2089.7 1072.3L2090.0 1074.9L2090.2 1077.6L2090.5 1080.3L2090.8 1082.9L2091.0 1085.6L2091.3 1088.2L2091.6 1090.9L2091.8 1093.6L2092.1 1096.3L2092.3 1099.0L2092.5 1101.8L2092.8 1104.5L2093.1 1107.1L2093.4 1109.5L2094.4 1112.5L2095.4 1115.1L2096.0 1115.2L2096.3 1113.1L2096.6 1110.4L2096.9 1107.5L2097.2 1104.5L2097.4 1101.6L2097.6 1099.0L2097.8 1096.4L2098.0 1093.8L2098.1 1091.1L2098.3 1088.4L2098.5 1085.7L2098.7 1083.0L2098.8 1080.3L2099.0 1077.6L2099.2 1074.9L2099.4 1072.3L2099.5 1069.6L2099.7 1067.0L2099.9 1064.3L2100.1 1061.6L2100.3 1059.0L2100.4 1056.3L2100.6 1053.6L2100.8 1051.0L2101.0 1048.3L2101.1 1045.7L2101.3 1043.0L2101.5 1040.3L2101.6 1037.7L2101.8 1035.0L2102.0 1032.4L2102.2 1029.7L2102.5 1027.0L2102.7 1024.3L2103.0 1021.5L2103.2 1018.7L2103.5 1016.0L2103.8 1013.3L2104.0 1010.7L2104.3 1008.2L2104.6 1005.7L2105.1 1002.8L2105.7 1000.1L2106.2 997.5L2106.9 994.9L2107.7 992.4L2108.6 989.9L2109.4 987.4" stroke="#505050" stroke-width="9.6"/>
<path d="M216.9 88.7L218.2 89.0L219.6 92.2L221.0 88.0L222.3 89.4L223.7 92.9L225.1 91.4L226.4 92.2L227.8 92.7L229.1 86.3L230.5 87.6L231.8 91.3L233.2 90.8L234.5 86.8L235.8 90.3L237.2 88.9L238.5 90.7L239.8 89.0L241.1 88.9L242.4 95.6L243.7 91.4L245.0 95.2L246.4 90.1L247.7 92.4L249.0 89.8L250.3 91.4L251.7 89.3L253.0 92.2L254.3 88.2L255.6 91.7L257.0 89.7L258.3 86.8L259.6 88.1L261.0 88.7L262.3 91.2L263.7 87.1L265.0 85.8L266.4 90.5L267.7 89.7L269.0 88.5L270.3 85.3L271.5 84.6L273.0 85.3L274.5 84.3L275.9 84.5L277.3 88.0L278.7 87.7L280.1 89.0L281.5 87.8L282.9 85.4L284.4 89.7L285.8 89.2L287.3 88.2L288.7 87.8L290.1 88.4L291.4 89.9L292.8 88.9L294.3 87.5L295.6 85.0L296.9 84.0L298.0 83.9L298.9 86.6L299.6 81.3L300.3 79.7L301.0 78.3L301.6 75.2L302.3 79.8L303.0 72.9L303.7 77.2L304.5 80.2L305.2 77.1L306.0 81.0L306.9 80.8L307.9 81.1L309.0 81.6L310.1 81.7L311.3 87.2L312.6 87.4L313.9 88.8L315.3 83.7L316.6 88.5L317.9 86.6L319.1 89.2L320.3 89.1L321.6 88.1L322.8 93.0L324.1 87.0L325.3 92.3L326.6 93.3L327.8 91.1L329.2 91.6L330.6 93.9L332.1 88.5L333.5 90.6L334.9 90.8L336.3 88.1L337.7 90.1L339.2 88.2L340.6 89.4L342.0 90.5L343.4 91.4L344.9 89.6L346.3 91.9L347.7 91.3L349.0 89.1L350.3 91.3L351.6 88.6L352.9 92.3L354.2 88.8L355.4 89.8L356.5 87.7L357.6 86.6L358.6 83.9L359.4 82.2L360.2 86.1L360.9 82.1L361.6 80.7L362.4 79.6L363.2 80.5L364.2 76.1L365.5 75.3L366.9 79.5L368.4 77.3L370.0 78.8L371.5 80.5L372.9 81.4L374.2 81.9L375.3 77.3L376.2 80.6L377.1 84.9L377.9 86.1L378.8 82.7L379.7 83.9L380.8 85.1L382.1 84.2L383.5 85.6L385.0 88.0L386.5 85.4L388.0 84.4L389.4 81.6L390.7 83.7L391.8 88.2L392.8 86.9L393.7 86.3L394.6 87.5L395.4 90.8L396.4 91.7L397.4 88.7L398.3 93.2L399.2 92.3L400.1 94.5L401.1 93.9L402.1 96.1L403.1 97.1L404.1 98.4L405.2 96.8L406.2 98.7L407.3 101.5L408.5 98.1L409.8 98.6L411.2 101.7L412.6 98.1L413.9 97.6L415.2 96.1L416.3 99.1L417.2 93.3L418.1 95.5L418.8 95.3L419.3 89.2L419.9 89.4L420.5 91.3L421.0 90.5L421.5 89.6L421.9 88.5L422.4 92.6L422.9 93.7L423.4 97.7L424.0 96.8L424.5 99.2L425.1 102.4L425.8 104.8L426.4 102.7L427.2 103.5L428.4 104.9L429.7 106.7L431.1 101.1L432.5 105.7L433.8 104.0L434.6 102.3L435.4 105.1L436.1 104.0L436.8 103.5L437.4 109.5L438.1 108.4L438.8 110.8L439.6 112.0L440.4 115.9L441.2 115.9L442.0 112.1L442.9 116.8L443.8 116.9L444.8 117.9L445.7 121.3L446.7 119.5L447.6 120.9L448.5 124.6L449.4 122.7L450.3 124.1L451.1 125.3L451.9 128.4L452.7 128.5L453.5 130.0L454.2 128.9L455.0 127.7L455.7 133.0L456.5 133.4L457.2 135.9L458.0 137.1L458.8 133.9L459.5 135.8L460.3 136.0L461.0 142.0L461.8 138.4L462.6 139.5L463.4 145.0L464.2 144.9L465.0 142.7L465.8 148.0L466.6 149.3L467.3 149.0L468.1 147.3L468.8 152.6L469.5 152.0L470.2 154.0L470.9 157.1L471.5 157.5L472.1 158.9L472.7 156.7L473.3 158.7L473.8 160.7L474.4 159.5L474.9 165.2L475.5 163.1L476.2 164.2L476.8 165.7L477.5 166.6L478.1 170.5L478.8 170.2L479.5 171.2L480.2 171.9L480.9 171.4L481.7 173.7L482.4 177.5L483.2 178.4L483.9 179.8L484.6 178.3L485.3 179.3L486.1 179.8L486.8 183.3L487.4 183.6L488.0 185.2L488.6 186.4L489.1 188.0L489.7 188.2L490.3 191.4L490.9 189.8L491.5 194.2L492.1 193.8L492.6 192.6L493.2 195.0L493.8 197.2L494.4 197.8L494.9 199.7L495.5 199.8L496.1 200.8L496.7 204.3L497.3 203.2L497.9 206.3L498.4 207.9L499.0 208.1L499.6 208.6L500.2 212.0L500.8 210.9L501.4 214.1L501.9 211.5L502.5 214.4L503.1 216.5L503.7 214.9L504.3 219.8L504.9 217.4L505.5 221.0L506.0 220.2L506.6 224.8L507.2 224.3L507.8 226.6L508.4 226.3L509.0 228.3L509.5 229.5L510.1 228.9L510.7 229.7L511.3 233.8L511.9 231.7L512.5 236.5L513.1 234.4L513.6 235.0L514.2 236.2L514.8 240.5L515.4 242.5L516.0 241.2L516.6 243.4L517.1 242.8L517.7 246.9L518.3 247.1L518.9 245.8L519.5 246.6L520.0 250.7L520.6 248.9L521.2 253.7L521.8 252.4L522.4 253.3L522.9 256.1L523.5 256.0L524.1 258.3L524.7 257.6L525.3 262.2L525.9 260.7L526.5 264.2L527.1 262.2L527.8 266.3L528.4 268.3L529.1 266.7L529.8 266.2L530.4 268.9L531.1 271.2L531.8 270.4L532.4 272.9L533.1 272.0L533.8 274.8L534.4 277.1L535.1 276.9L535.8 279.1L536.4 277.7L537.1 282.1L537.7 280.0L538.3 284.9L538.9 286.4L539.5 287.3L540.1 286.6L540.8 286.7L541.4 288.1L542.0 291.1L542.6 291.1L543.2 294.3L543.8 291.6L544.5 294.6L545.1 297.5L545.7 297.4L546.4 298.2L547.0 297.3L547.7 298.7L548.5 300.4L549.2 304.4L549.9 305.3L550.6 303.5L551.3 307.8L552.0 304.8L552.8 308.5L553.5 311.3L554.2 309.5L554.9 313.4L555.6 313.2L556.3 311.5L557.0 314.0L557.7 315.7L558.4 315.9L559.2 319.4L559.9 318.0L560.6 322.0L561.3 321.0L562.0 321.1L562.7 324.6L563.4 323.6L564.0 326.9L564.7 329.1L565.3 329.3L565.9 329.8L566.6 329.1L567.2 332.5L567.9 331.8L568.5 335.5L569.1 334.3L569.6 337.5L570.2 337.6L570.7 338.9L571.3 341.4L571.8 340.3L572.4 341.6L572.9 346.5L573.4 345.0L573.9 348.7L574.4 350.1L574.9 349.6L575.4 349.4L575.9 350.5L576.6 355.4L577.2 353.1L577.9 356.0L578.6 357.4L579.3 356.6L580.1 359.4L580.9 359.2L581.6 362.1L582.3 363.1L583.0 363.7L583.7 364.1L584.3 366.3L584.9 366.7L585.4 367.7L586.0 369.5L586.5 373.7L587.0 373.3L587.4 376.5L587.9 373.8L588.4 379.3L588.8 378.6L589.2 381.3L589.6 381.6L590.0 383.4L590.3 382.6L590.7 386.4L591.1 384.9L591.5 386.7L591.9 387.0L592.4 390.0L592.9 391.9L593.4 392.1L594.0 396.2L594.5 393.8L595.0 397.4L595.6 397.1L596.1 400.1L596.7 402.3L597.2 403.2L597.7 401.6L598.2 403.7L598.8 406.7L599.3 409.8L599.8 406.7L600.3 410.7L600.9 412.4L601.4 414.2L601.9 413.4L602.4 416.9L602.9 416.6L603.5 420.1L604.0 417.3L604.5 422.9L605.0 421.7L605.6 423.0L606.1 422.7L606.8 424.7L607.4 428.2L608.1 429.0L608.8 427.8L609.5 429.8L610.2 430.0L610.9 431.5L611.5 432.9L612.1 434.7L612.6 439.1L613.2 440.6L613.8 441.0L614.4 440.9L615.0 442.3L615.6 444.8L616.3 446.8L617.1 447.4L617.9 448.2L618.7 447.4L619.5 450.4L620.3 452.2L621.8 452.9L623.3 449.9L624.3 452.4L625.4 449.9L626.5 447.9L627.4 450.4L628.1 447.9L628.8 447.0L629.3 442.8L629.9 444.5L630.4 443.5L631.0 441.9L631.4 439.9L631.8 439.1L632.2 437.6L632.6 435.3L633.0 433.3L633.4 433.7L633.7 432.2L634.1 431.2L634.5 427.2L634.9 429.0L635.2 425.8L635.6 426.4L635.9 421.3L636.3 423.9L636.7 421.8L637.0 418.0L637.4 419.4L637.7 415.3L638.1 413.8L638.4 413.7L638.7 411.4L639.1 411.3L639.4 411.9L639.7 409.5L640.1 407.8L640.4 405.8L640.7 405.4L641.0 404.1L641.3 402.6L641.6 401.9L641.9 400.3L642.2 398.1L642.4 396.1L642.7 396.0L642.9 395.1L643.2 392.8L643.4 392.0L643.7 391.2L644.0 389.8L644.3 386.8L644.6 386.6L644.9 384.3L645.2 383.2L645.5 383.5L645.9 381.3L646.2 380.4L646.5 378.8L646.9 377.2L647.2 375.6L647.5 374.6L647.8 374.4L648.2 372.6L648.5 370.6L648.8 368.8L649.1 367.9L649.4 367.5L649.7 365.6L650.1 364.8L650.4 363.9L650.7 361.1L651.1 361.2L651.5 358.3L651.9 358.7L652.4 356.0L652.8 354.9L653.2 355.1L653.7 352.5L654.2 350.8L654.6 351.0L655.1 349.1L655.5 348.4L656.0 346.1L656.4 345.1L656.9 344.8L657.4 342.5L657.8 342.2L658.3 339.1L658.8 339.0L659.1 336.3L659.4 335.9L659.8 333.4L660.1 332.3L660.4 332.6L660.7 330.1L661.1 329.4L661.4 326.7L661.7 325.4L662.1 323.5L662.4 323.1L662.8 322.5L663.1 320.4L663.5 319.0L664.0 319.1L664.6 317.7L665.2 315.9L665.9 313.5L666.6 313.7L667.3 312.2L668.1 312.3L668.7 309.9L669.4 309.4L670.1 308.2L670.8 306.4L671.5 305.6L672.1 304.8L672.8 304.2L673.5 302.2L674.3 300.8L675.1 301.1L675.9 298.0L676.7 298.7L677.5 297.3L678.3 295.9L679.0 294.6L679.7 294.2L680.4 293.4L681.1 291.9L681.8 290.8L682.5 288.0L683.1 287.4L683.7 285.9L684.3 286.5L684.9 285.2L685.5 282.3L686.1 282.1L686.7 280.8L687.3 278.5L687.9 278.0L688.5 277.6L689.1 276.1L689.7 274.1L690.3 273.9L690.8 271.6L691.4 271.0L692.1 269.6L692.7 269.7L693.5 267.8L694.3 267.1L695.1 265.8L695.9 264.1L696.7 264.3L697.5 262.7L698.3 261.6L699.1 259.7L699.9 258.3L700.7 258.2L701.5 257.7L702.3 256.5L703.1 254.4L703.8 252.8L704.6 252.5L705.4 252.2L706.2 249.6L707.1 250.0L708.2 248.0L709.4 247.7L710.6 246.7L711.9 246.7L713.1 246.3L714.3 247.0L715.5 246.4L716.7 244.0L717.8 243.3L718.8 243.8L719.8 241.7L721.0 242.2L722.2 243.3L723.4 243.7L724.6 245.0L725.9 246.2L727.1 247.2L728.2 249.5L729.4 249.0L730.4 249.8L731.4 252.3L732.3 252.2L733.3 254.1L734.2 254.6L735.2 255.9L736.1 255.9L737.0 256.6L738.0 258.8L739.0 259.0L740.4 260.1L741.8 261.0L743.4 261.8L744.9 261.0L746.3 261.2L747.7 262.2L749.2 261.1L750.5 260.1L751.8 260.2L752.9 258.5L753.9 258.6L754.8 255.8L755.7 256.3L756.6 254.4L757.3 252.9L758.0 253.0L758.6 250.3L759.3 249.1L760.0 247.5L760.6 247.4L761.4 246.9L762.3 245.6L763.2 243.9L764.2 243.8L765.1 241.4L766.2 241.1L767.7 241.0L769.4 241.0L770.9 240.2L772.4 240.9L773.8 242.2L774.9 242.9L775.5 245.1L775.9 245.9L776.3 246.3L776.6 247.9L776.8 250.3L777.1 250.8L777.3 252.0L777.5 254.7L777.7 255.2L777.9 256.4L778.0 258.0L778.2 259.8L778.3 259.4L778.4 261.2L778.6 261.9L778.7 264.1L778.8 265.7L778.9 267.8L779.0 268.6L779.2 269.6L779.3 270.5L779.4 272.1L779.5 272.7L779.6 275.3L779.7 276.4L779.8 277.9L779.9 277.7L780.0 280.1L780.1 281.7L780.1 282.4L780.2 284.7L780.3 286.0L780.4 287.0L780.5 288.5L780.6 289.4L780.7 291.3L780.8 290.9L780.9 293.5L781.0 294.8L781.1 295.9L781.2 296.5L781.2 297.4L781.3 299.9L781.4 301.8L781.5 301.9L781.6 303.1L781.7 304.5L781.8 305.5L781.9 308.2L782.0 310.2L782.0 311.1L782.1 311.5L782.2 313.6L782.3 313.6L782.4 316.6L782.5 316.9L782.5 317.6L782.6 320.4L782.7 320.7L782.8 322.4L782.9 323.4L783.0 325.6L783.0 327.2L783.1 329.1L783.2 328.7L783.3 331.7L783.4 331.4L783.5 332.9L783.6 334.9L783.7 335.4L783.9 337.1L784.0 339.3L784.0 340.3L784.1 343.2L784.3 343.3L784.5 346.0L784.8 346.9L785.3 347.0L786.9 346.4L788.5 347.5L789.0 345.2L789.5 345.2L789.8 343.7L790.1 341.4L790.3 341.1L790.5 339.6L790.7 337.6L790.9 335.5L791.1 334.5L791.2 333.4L791.4 331.2L791.5 331.2L791.6 330.1L791.7 328.2L791.8 327.1L791.9 324.2L792.0 324.3L792.1 320.9L792.2 320.5L792.4 318.5L792.5 318.1L792.7 316.9L792.9 315.2L793.1 313.0L793.3 311.3L793.7 310.0L794.1 310.0L795.1 310.1L796.3 311.1L797.3 313.9L797.6 314.3L797.9 315.2L798.1 315.8L798.3 318.2L798.4 318.5L798.5 320.0L798.5 322.1L798.6 323.9L798.7 326.0L798.8 326.9L798.9 328.7L799.0 330.0L799.2 330.8L799.3 332.1L799.4 331.9L799.6 333.5L799.7 334.4L799.8 337.6L800.0 338.6L800.1 339.6L800.2 340.6L800.4 342.1L800.5 343.4L800.6 345.1L800.7 346.7L800.8 347.2L800.9 348.3L801.0 349.7L801.1 351.2L801.1 353.1L801.2 354.3L801.3 355.4L801.4 356.4L801.5 357.7L801.6 359.2L801.7 361.2L801.7 362.2L801.8 364.1L801.9 365.4L802.0 366.6L802.1 367.7L802.2 369.3L802.3 370.0L802.4 371.3L802.4 373.1L802.5 374.3L802.6 375.4L802.7 376.7L802.8 377.8L802.9 380.1L803.0 381.2L803.1 382.8L803.2 384.1L803.2 384.9L803.3 386.5L803.4 387.5L803.5 389.3L803.6 390.6L803.7 391.3L803.8 392.5L803.9 394.0L804.0 395.7L804.0 396.8L804.1 397.8L804.2 399.9L804.3 401.2L804.4 402.2L804.5 403.2L804.6 405.3L804.7 406.3L804.8 407.2L804.8 408.8L804.9 410.4L805.0 412.0L805.1 412.9L805.2 414.4L805.3 415.3L805.4 416.7L805.5 418.6L805.6 419.4L805.6 420.5L805.7 422.3L805.8 423.1L805.9 424.5L806.0 426.0L806.1 427.5L806.2 428.8L806.3 430.2L806.4 431.3L806.4 432.2L806.5 434.2L806.6 434.9L806.7 436.7L806.8 438.0L806.9 439.7L807.0 441.0L807.0 441.7L807.1 443.4L807.2 444.6L807.2 445.6L807.3 446.5L807.4 448.4L807.5 449.3L807.5 450.0L807.6 451.4L807.7 453.4L807.7 453.9L807.8 455.4L807.9 457.1L807.9 458.4L808.0 459.6L808.1 461.1L808.1 461.8L808.2 463.3L808.3 465.7L808.3 467.1L808.4 467.9L808.5 469.6L808.5 470.8L808.6 472.4L808.6 472.7L808.6 474.2L808.7 475.5L808.7 476.3L808.7 477.7L808.8 478.2L808.8 479.2L808.9 480.2L808.9 482.1L808.9 482.6L809.0 484.7L809.0 485.7L809.1 486.4L809.1 488.2L809.1 488.9L809.2 490.5L809.2 491.4L809.3 493.3L809.3 494.8L809.3 496.1L809.4 496.5L809.4 498.7L809.4 499.8L809.5 501.4L809.5 502.4L809.6 503.9L809.6 505.3L809.6 506.9L809.7 507.6L809.7 508.9L809.8 510.8L809.8 512.0L809.8 513.5L809.9 514.5L809.9 516.7L809.9 517.4L810.0 519.6L810.0 521.0L810.1 522.1L810.1 523.2L810.1 525.2L810.2 526.1L810.2 527.8L810.2 528.9L810.3 531.2L810.3 532.1L810.3 533.4L810.4 534.5L810.4 536.5L810.4 538.1L810.5 539.4L810.5 540.1L810.5 541.7L810.6 543.0L810.6 544.8L810.6 545.6L810.6 547.4L810.7 549.1L810.7 550.2L810.7 550.7L810.8 552.1L810.8 553.4L810.8 555.3L810.8 556.4L810.9 557.6L810.9 558.7L810.9 559.9L811.0 561.5L811.0 563.0L811.0 564.7L811.0 565.9L811.1 567.3L811.1 568.8L811.1 570.1L811.1 571.4L811.2 572.1L811.2 574.1L811.2 575.6L811.2 576.5L811.2 578.3L811.3 579.0L811.3 581.1L811.3 581.9L811.3 583.5L811.3 584.3L811.3 585.7L811.4 587.1L811.4 588.4L811.4 589.4L811.4 591.1L811.4 592.9L811.4 593.9L811.5 595.5L811.5 596.6L811.5 598.0L811.5 599.4L811.5 600.5L811.5 601.3L811.6 602.6L811.6 604.0L811.6 604.9L811.6 606.4L811.6 608.4L811.6 609.7L811.7 610.4L811.7 612.1L811.7 613.4L811.7 614.8L811.7 616.0L811.8 617.1L811.8 617.9L811.8 620.0L811.8 620.8L811.8 622.4L811.9 623.5L811.9 624.9L811.9 626.7L811.9 627.2L812.0 628.9L812.0 630.4L812.0 631.6L812.0 633.4L812.1 634.2L812.1 636.1L812.1 637.2L812.1 638.8L812.1 639.3L812.2 640.8L812.2 642.3L812.2 644.3L812.2 644.8L812.2 646.4L812.3 648.2L812.3 649.9L812.3 650.4L812.3 652.1L812.3 653.7L812.4 655.1L812.4 656.5L812.4 657.9L812.4 658.8L812.5 660.2L812.5 661.3L812.5 663.3L812.5 664.2L812.6 665.6L812.6 667.6L812.6 668.7L812.7 669.9L812.7 671.3L812.7 672.6L812.8 674.0L812.8 674.9L812.9 676.0L812.9 677.3L812.9 678.5L813.0 680.2L813.0 681.2L813.1 682.4L813.1 684.0L813.2 685.8L813.2 686.7L813.3 687.5L813.4 689.2L813.4 689.8L813.5 690.9L813.6 692.3L813.7 693.8L813.8 695.6L813.9 696.7L814.0 698.4L814.1 699.2L814.2 701.4L814.4 702.1L814.5 703.9L814.6 704.4L814.8 706.5L814.9 707.2L815.1 709.0L815.2 710.3L815.3 711.4L815.5 712.2L815.6 713.2L815.8 714.6L815.9 716.6L816.1 717.1L816.2 718.9L816.4 720.1L816.5 721.4L816.7 722.3L816.8 723.5L816.9 724.8L817.1 727.0L817.2 727.8L817.3 729.5L817.4 730.8L817.5 731.9L817.6 732.9L817.7 734.1L817.8 736.2L817.9 736.7L818.0 738.7L818.1 739.4L818.2 741.0L818.3 741.7L818.3 743.6L818.4 744.3L818.5 745.7L818.6 747.2L818.7 748.0L818.7 749.5L818.8 751.3L818.9 752.1L819.0 753.6L819.0 755.3L819.1 756.1L819.2 757.4L819.3 758.7L819.3 760.2L819.4 761.6L819.5 763.2L819.6 764.4L819.6 766.1L819.7 766.7L819.8 768.7L819.8 770.2L819.9 771.0L820.0 772.1L820.0 773.9L820.1 775.0L820.2 776.7L820.2 778.3L820.3 779.1L820.4 780.5L820.4 782.2L820.5 783.3L820.5 784.7L820.6 786.3L820.7 787.3L820.7 788.6L820.8 790.3L820.9 791.8L820.9 793.5L821.0 794.4L821.0 795.2L821.1 796.7L821.1 798.5L821.2 799.6L821.3 801.2L821.3 802.6L821.4 803.9L821.4 804.4L821.5 806.6L821.5 807.5L821.6 808.5L821.6 809.7L821.7 811.8L821.7 812.4L821.8 813.6L821.8 815.1L821.8 817.1L821.9 818.0L821.9 819.6L822.0 820.3L822.0 822.0L822.1 823.2L822.1 824.4L822.2 826.2L822.2 827.2L822.2 828.3L822.3 830.5L822.3 831.3L822.4 832.4L822.4 833.5L822.5 835.5L822.5 836.7L822.5 837.6L822.6 839.3L822.6 840.9L822.7 842.1L822.7 843.1L822.8 844.7L822.8 846.2L822.8 847.5L822.9 848.4L822.9 850.3L823.0 851.8L823.0 852.9L823.1 854.4L823.1 855.2L823.1 857.1L823.2 857.7L823.2 859.1L823.3 860.8L823.3 862.4L823.3 862.9L823.4 864.4L823.4 865.5L823.5 867.2L823.5 868.2L823.6 869.6L823.6 871.5L823.6 872.7L823.7 874.3L823.7 875.1L823.8 876.7L823.8 877.4L823.9 879.7L823.9 880.3L823.9 881.8L824.0 883.2L824.0 885.0L824.1 885.8L824.1 887.6L824.1 888.6L824.2 889.5L824.2 891.5L824.3 892.2L824.3 894.3L824.3 895.1L824.4 896.1L824.4 898.2L824.4 898.9L824.5 900.3L824.5 901.6L824.6 903.2L824.6 903.9L824.6 905.6L824.7 906.7L824.7 908.7L824.8 909.2L824.8 911.1L824.8 912.1L824.9 913.6L824.9 915.0L824.9 916.5L825.0 917.3L825.0 918.7L825.1 919.9L825.1 922.0L825.1 922.6L825.2 923.9L825.2 925.6L825.2 927.0L825.3 928.6L825.3 929.1L825.3 930.6L825.4 931.9L825.4 933.6L825.4 934.8L825.5 936.1L825.5 937.9L825.6 939.0L825.6 940.5L825.6 941.9L825.7 942.6L825.7 944.5L825.7 945.3L825.8 946.3L825.8 948.5L825.8 949.0L825.9 950.2L825.9 951.8L825.9 953.2L825.9 955.2L826.0 956.4L826.0 957.3L826.0 958.7L826.1 960.3L826.1 961.6L826.1 962.8L826.2 964.0L826.2 964.9L826.2 966.4L826.3 968.1L826.3 969.4L826.3 970.9L826.4 972.3L826.4 973.7L826.4 974.3L826.5 975.5L826.5 977.6L826.5 978.6L826.6 979.5L826.6 981.4L826.6 982.3L826.7 983.6L826.7 985.0L826.7 986.5L826.8 988.0L826.8 988.7L826.8 990.7L826.9 991.9L826.9 993.1L826.9 994.6L827.0 996.1L827.0 996.6L827.0 998.4L827.1 999.9L827.1 1001.3L827.1 1002.6L827.2 1003.4L827.2 1005.5L827.2 1006.7L827.3 1007.5L827.3 1009.0L827.3 1010.8L827.3 1011.4L827.4 1012.9L827.4 1014.8L827.4 1016.1L827.5 1016.8L827.5 1018.6L827.5 1019.5L827.6 1021.2L827.6 1022.6L827.6 1023.3L827.7 1024.7L827.7 1026.0L827.7 1027.4L827.8 1028.5L827.8 1029.9L827.8 1031.5L827.9 1032.9L827.9 1033.9L827.9 1035.7L828.0 1037.4L828.0 1038.3L828.0 1039.4L828.1 1041.1L828.1 1042.2L828.1 1043.2L828.2 1044.8L828.2 1045.7L828.2 1047.7L828.3 1048.5L828.3 1050.0L828.3 1051.9L828.4 1053.0L828.4 1054.4L828.4 1055.5L828.5 1056.8L828.5 1058.2L828.5 1059.8L828.6 1060.3L828.6 1062.2L828.6 1063.1L828.7 1064.3L828.7 1066.2L828.7 1067.2L828.8 1068.7L828.8 1070.0L828.9 1071.0L828.9 1071.9L828.9 1073.0L829.0 1074.8L829.0 1076.2L829.0 1077.0L829.1 1078.1L829.1 1079.3L829.1 1080.7L829.2 1082.5L829.2 1083.0L829.2 1084.5L829.3 1085.8L829.3 1087.5L829.3 1089.1L829.4 1089.4L829.4 1090.8L829.4 1092.9L829.5 1094.2L829.5 1094.7L829.5 1096.1L829.6 1097.6L829.6 1098.8L829.6 1100.2L829.7 1101.6L829.7 1102.7L829.7 1103.8L829.8 1105.2L829.8 1106.7L829.8 1108.0L829.9 1109.9L829.9 1111.4L830.0 1112.4L830.0 1114.4L830.0 1115.7L830.1 1116.8L830.1 1118.4L830.1 1119.6L830.2 1121.5L830.2 1122.3L830.2 1122.9L830.2 1124.2L830.3 1125.9L830.3 1126.8L830.3 1128.3L830.3 1129.0L830.4 1130.8L830.4 1132.0L830.4 1132.6L830.5 1134.3L830.5 1135.2L830.5 1136.9L830.5 1138.3L830.6 1139.6L830.6 1140.3L830.6 1141.4L830.7 1143.3L830.7 1144.5L830.7 1145.4L830.7 1146.7L830.8 1148.4L830.8 1149.3L830.8 1151.1L830.8 1152.1L830.9 1153.4L830.9 1155.0L830.9 1156.4L831.0 1157.9L831.0 1158.6L831.0 1160.7L831.0 1161.5L831.1 1163.0L831.1 1164.7L831.1 1166.1L831.2 1167.4L831.2 1169.1L831.2 1169.7L831.2 1171.2L831.3 1172.9L831.3 1173.9L831.3 1175.2L831.4 1176.7L831.4 1178.6L831.4 1180.0L831.4 1181.3L831.5 1182.9L831.5 1184.1L831.5 1185.0L831.6 1186.4L831.6 1188.2L831.6 1188.9L831.6 1190.9L831.7 1191.7L831.7 1193.0L831.7 1194.9L831.8 1195.9L831.8 1198.0L831.8 1199.3L831.8 1200.3L831.9 1201.4L831.9 1202.6L831.9 1204.4L832.0 1205.7L832.0 1206.9L832.0 1208.6L832.0 1209.7L832.1 1211.3L832.1 1211.9L832.1 1213.2L832.2 1214.8L832.2 1216.2L832.2 1217.3L832.2 1219.0L832.3 1219.8L832.3 1221.2L832.3 1222.6L832.4 1224.1L832.4 1225.4L832.4 1226.2L832.4 1227.5L832.5 1229.2L832.5 1230.4L832.5 1231.5L832.6 1232.4L832.6 1234.2L832.6 1235.8L832.7 1236.9L832.7 1238.1L832.7 1240.4L832.8 1241.8L832.8 1242.4L832.8 1244.2L832.9 1245.8L832.9 1246.9L832.9 1248.1L833.0 1250.2L833.0 1251.6L833.0 1252.7L833.1 1253.8L833.1 1255.5L833.2 1256.6L833.2 1258.9L833.2 1259.4L833.3 1261.0L833.3 1262.9L833.3 1263.7L833.4 1265.0L833.4 1266.4L833.4 1267.9L833.5 1269.6L833.5 1271.3L833.5 1272.0L833.6 1273.3L833.6 1275.3L833.6 1276.3L833.7 1277.5L833.7 1278.7L833.7 1280.1L833.8 1282.1L833.8 1282.6L833.8 1284.0L833.9 1285.8L833.9 1287.2L833.9 1288.5L834.0 1289.3L834.0 1291.1L834.1 1291.9L834.1 1292.9L834.1 1294.3L834.2 1295.7L834.2 1296.9L834.2 1297.5L834.3 1298.7L834.3 1300.7L834.3 1300.9L834.4 1302.8L834.4 1303.4L834.4 1304.4L834.5 1305.5L834.5 1306.8L834.5 1308.4L834.6 1308.6L834.6 1310.4L834.7 1311.4L834.7 1313.0L834.8 1315.3L834.8 1316.6L834.9 1318.2L834.9 1320.2L835.0 1322.4L835.0 1324.2L835.1 1325.7L835.1 1326.8L835.2 1329.2L835.2 1330.7L835.3 1332.6L835.3 1334.1L835.4 1334.9L835.4 1336.8L835.5 1338.0L835.5 1338.5L835.6 1339.7L835.6 1340.5L835.7 1341.3L835.7 1341.9L835.8 1342.0L835.8 1342.4L835.9 1343.2L836.0 1342.6L836.0 1342.6L836.1 1342.4L836.1 1341.7L836.2 1340.4L836.2 1340.2L836.3 1339.1L836.3 1338.1L836.4 1336.7L836.5 1335.3L836.5 1334.0L836.6 1331.9L836.6 1330.8L836.7 1328.9L836.7 1327.6L836.8 1325.2L836.8 1323.9L836.9 1321.9L837.0 1320.6L837.0 1318.4L837.1 1317.1L837.1 1315.4L837.2 1313.7L837.2 1311.3L837.3 1310.4L837.3 1309.2L837.4 1308.1L837.4 1307.0L837.4 1305.3L837.5 1305.1L837.5 1303.6L837.6 1302.4L837.6 1301.2L837.6 1300.5L837.7 1299.3L837.7 1298.2L837.7 1296.4L837.8 1295.3L837.8 1294.0L837.8 1292.7L837.9 1291.7L837.9 1290.1L837.9 1289.7L838.0 1287.8L838.0 1286.4L838.0 1285.1L838.1 1284.5L838.1 1282.7L838.2 1281.6L838.2 1280.3L838.2 1279.3L838.3 1278.2L838.3 1276.2L838.3 1275.2L838.4 1274.1L838.4 1272.3L838.4 1271.3L838.5 1269.8L838.5 1268.0L838.5 1267.2L838.6 1265.5L838.6 1263.7L838.7 1262.7L838.7 1261.6L838.7 1259.9L838.8 1258.4L838.8 1256.9L838.8 1256.0L838.9 1254.4L838.9 1252.5L838.9 1251.2L839.0 1249.8L839.0 1249.0L839.1 1247.3L839.1 1245.3L839.1 1244.7L839.2 1242.3L839.2 1241.5L839.2 1239.9L839.3 1238.7L839.3 1237.0L839.3 1235.3L839.4 1234.3L839.4 1233.2L839.5 1231.7L839.5 1229.9L839.5 1228.5L839.6 1227.8L839.6 1226.7L839.6 1224.8L839.7 1224.3L839.7 1223.2L839.7 1221.4L839.8 1220.1L839.8 1219.1L839.8 1218.1L839.9 1216.1L839.9 1214.9L839.9 1213.7L840.0 1212.8L840.0 1211.0L840.0 1210.1L840.1 1208.7L840.1 1207.6L840.2 1205.8L840.2 1205.3L840.2 1204.0L840.3 1202.3L840.3 1201.2L840.3 1199.3L840.4 1198.7L840.4 1197.0L840.4 1195.9L840.5 1194.7L840.5 1192.9L840.6 1192.1L840.6 1190.1L840.6 1188.5L840.7 1187.7L840.7 1186.7L840.7 1185.4L840.8 1184.1L840.8 1182.3L840.8 1181.4L840.9 1179.7L840.9 1177.9L841.0 1177.1L841.0 1175.9L841.0 1174.2L841.1 1173.0L841.1 1171.3L841.1 1170.0L841.2 1168.8L841.2 1167.5L841.2 1166.1L841.3 1164.4L841.3 1163.0L841.4 1162.0L841.4 1161.0L841.4 1159.7L841.5 1157.8L841.5 1156.5L841.5 1155.4L841.6 1153.7L841.6 1152.8L841.6 1151.8L841.7 1149.7L841.7 1148.8L841.7 1147.6L841.8 1146.3L841.8 1144.9L841.8 1143.6L841.9 1141.8L841.9 1141.0L841.9 1139.8L842.0 1137.6L842.0 1137.2L842.0 1135.4L842.1 1133.7L842.1 1132.4L842.1 1131.8L842.2 1130.4L842.2 1128.5L842.2 1127.6L842.2 1126.5L842.3 1125.5L842.3 1123.6L842.3 1122.7L842.4 1120.9L842.4 1119.6L842.4 1118.3L842.4 1117.2L842.5 1116.0L842.5 1114.4L842.5 1112.9L842.5 1111.6L842.6 1110.2L842.6 1108.9L842.6 1107.7L842.7 1106.6L842.7 1105.0L842.7 1103.9L842.7 1102.6L842.7 1101.8L842.8 1100.0L842.8 1099.1L842.8 1097.4L842.8 1095.8L842.9 1094.9L842.9 1093.1L842.9 1091.8L842.9 1090.4L842.9 1089.8L843.0 1088.7L843.0 1086.9L843.0 1085.5L843.0 1084.3L843.0 1082.9L843.1 1082.0L843.1 1080.4L843.1 1078.8L843.1 1078.3L843.1 1076.7L843.2 1074.8L843.2 1074.4L843.2 1073.0L843.2 1071.3L843.2 1070.3L843.3 1069.3L843.3 1067.5L843.3 1066.2L843.3 1064.8L843.3 1063.8L843.4 1062.6L843.4 1061.4L843.4 1060.3L843.4 1058.2L843.4 1057.1L843.4 1056.3L843.5 1055.0L843.5 1053.5L843.5 1052.3L843.5 1050.7L843.6 1050.0L843.6 1048.3L843.6 1046.9L843.6 1045.4L843.6 1044.0L843.7 1043.5L843.7 1042.1L843.7 1040.0L843.7 1039.0L843.8 1037.9L843.8 1036.6L843.8 1035.2L843.8 1034.4L843.9 1032.6L843.9 1031.5L843.9 1030.5L843.9 1029.0L844.0 1027.5L844.0 1026.0L844.0 1024.8L844.0 1023.7L844.1 1022.6L844.1 1020.7L844.1 1019.5L844.2 1018.3L844.2 1016.9L844.2 1016.2L844.2 1014.5L844.3 1012.9L844.3 1011.7L844.3 1010.8L844.4 1008.9L844.4 1008.1L844.4 1006.1L844.5 1004.9L844.5 1003.5L844.5 1002.9L844.6 1000.9L844.6 999.7L844.6 998.2L844.7 997.1L844.7 996.2L844.7 994.9L844.7 993.7L844.8 992.5L844.8 990.7L844.8 989.8L844.9 987.6L844.9 987.1L845.0 985.3L845.0 983.7L845.0 983.0L845.1 981.7L845.1 979.9L845.1 978.3L845.2 977.8L845.2 976.3L845.2 974.9L845.3 973.9L845.3 971.6L845.3 970.3L845.4 969.1L845.4 967.7L845.4 967.0L845.5 965.6L845.5 963.8L845.6 962.5L845.6 961.2L845.6 960.3L845.7 959.1L845.7 958.1L845.7 956.2L845.8 955.5L845.8 953.6L845.8 952.3L845.9 950.8L845.9 949.5L846.0 948.9L846.0 947.7L846.0 946.1L846.1 944.3L846.1 943.0L846.1 941.7L846.2 940.6L846.2 939.7L846.3 937.7L846.3 936.9L846.3 935.8L846.4 933.9L846.4 933.0L846.5 932.1L846.5 930.6L846.5 929.2L846.6 928.4L846.6 926.8L846.6 925.3L846.7 924.1L846.7 923.3L846.8 921.9L846.8 920.5L846.9 918.8L846.9 917.1L847.0 915.7L847.0 914.6L847.0 913.6L847.1 911.5L847.1 911.0L847.2 909.6L847.2 908.0L847.3 906.2L847.3 905.6L847.4 903.9L847.4 902.8L847.5 901.4L847.5 900.3L847.5 898.6L847.6 897.9L847.6 896.5L847.7 895.2L847.7 893.6L847.8 892.0L847.8 890.7L847.9 889.3L847.9 888.6L848.0 887.2L848.0 885.9L848.1 884.6L848.1 883.5L848.2 881.9L848.2 880.2L848.3 879.4L848.3 877.6L848.4 876.6L848.4 874.9L848.5 874.3L848.5 872.6L848.6 871.1L848.6 870.5L848.7 868.4L848.7 867.9L848.8 866.4L848.8 864.5L848.9 863.9L848.9 862.4L848.9 861.4L849.0 859.8L849.0 858.3L849.1 857.5L849.1 855.4L849.2 854.8L849.2 852.8L849.3 851.7L849.3 850.2L849.4 849.7L849.4 847.9L849.5 846.9L849.5 845.1L849.6 844.3L849.6 842.9L849.7 841.1L849.7 840.1L849.8 839.0L849.8 837.2L849.9 836.3L849.9 834.6L849.9 833.4L850.0 832.6L850.0 831.2L850.1 829.9L850.1 828.0L850.2 826.8L850.2 825.7L850.3 824.3L850.3 822.6L850.3 821.7L850.4 819.8L850.4 819.0L850.5 817.2L850.5 815.4L850.6 814.7L850.6 812.7L850.7 811.9L850.7 809.9L850.7 809.5L850.8 807.6L850.8 806.5L850.9 804.5L850.9 803.6L851.0 802.0L851.0 800.5L851.0 799.7L851.1 797.6L851.1 796.7L851.2 795.0L851.2 794.4L851.3 793.1L851.3 790.9L851.4 790.0L851.4 788.6L851.5 787.6L851.5 786.3L851.5 784.6L851.6 783.8L851.6 781.8L851.7 780.4L851.7 779.8L851.8 777.8L851.8 776.6L851.9 775.7L851.9 774.2L852.0 772.8L852.0 772.3L852.1 770.6L852.1 769.7L852.2 767.9L852.3 767.4L852.3 765.5L852.4 764.9L852.4 763.5L852.5 762.6L852.5 761.3L852.6 760.0L852.6 758.7L852.7 757.6L852.8 755.7L852.9 753.9L852.9 753.2L853.0 751.7L853.1 750.1L853.2 748.7L853.2 746.8L853.3 745.6L853.4 744.5L853.4 743.2L853.5 741.8L853.6 739.6L853.6 738.7L853.7 737.2L853.8 735.7L853.9 734.1L853.9 732.7L854.0 731.7L854.1 730.4L854.2 728.9L854.3 727.7L854.3 726.6L854.4 725.5L854.5 724.1L854.6 722.4L854.7 721.9L854.8 720.1L854.9 719.5L855.0 718.4L855.1 716.3L855.2 715.6L855.3 714.9L855.4 713.2L855.6 712.2L855.7 710.9L855.8 709.6L856.0 708.7L856.2 707.0L856.4 705.4L856.7 703.9L856.9 702.0L857.2 700.6L857.5 698.6L857.7 696.5L858.0 695.4L858.3 693.6L858.6 692.0L858.9 691.1L859.2 689.8L859.5 688.6L859.7 688.2L860.0 687.4L860.3 688.0L860.5 687.4L860.8 688.6L861.1 688.4L861.4 689.3L861.6 691.1L861.9 692.1L862.2 693.9L862.4 695.1L862.7 697.5L863.0 699.1L863.2 700.8L863.4 702.8L863.7 704.6L863.9 705.9L864.1 707.0L864.2 707.4L864.3 708.5L864.5 710.1L864.6 711.8L864.7 712.3L864.9 713.8L865.0 714.4L865.1 716.1L865.2 717.9L865.3 718.8L865.4 720.4L865.5 720.9L865.6 722.4L865.8 723.7L865.9 725.7L866.0 726.4L866.1 728.6L866.2 729.3L866.2 731.3L866.3 732.4L866.4 733.6L866.5 735.7L866.6 736.6L866.7 738.3L866.8 739.1L866.9 741.3L867.0 743.0L867.1 743.6L867.2 745.7L867.3 746.4L867.4 747.4L867.5 748.8L867.5 750.4L867.6 751.9L867.7 753.1L867.8 754.4L867.8 755.3L867.9 756.6L868.0 757.4L868.1 759.2L868.1 760.4L868.2 761.5L868.3 763.3L868.4 764.0L868.4 765.2L868.5 766.6L868.6 767.9L868.7 769.7L868.7 771.3L868.8 772.0L868.9 773.7L869.0 775.2L869.0 776.5L869.1 777.7L869.2 779.2L869.2 780.1L869.3 781.5L869.4 783.2L869.4 784.4L869.5 786.3L869.6 787.1L869.6 789.1L869.7 789.8L869.8 791.0L869.8 792.8L869.9 794.0L870.0 795.3L870.0 797.1L870.1 797.8L870.1 799.6L870.2 801.1L870.3 802.0L870.3 803.3L870.4 805.0L870.4 806.0L870.5 806.8L870.5 807.9L870.6 809.3L870.6 810.9L870.7 812.0L870.8 813.9L870.8 815.0L870.9 816.2L870.9 817.8L871.0 819.5L871.0 820.1L871.1 821.3L871.1 822.7L871.1 824.0L871.2 825.9L871.2 827.0L871.3 828.0L871.3 829.0L871.4 830.1L871.4 831.5L871.4 833.4L871.5 834.5L871.5 835.3L871.6 837.0L871.6 837.7L871.6 839.4L871.7 840.6L871.7 841.6L871.8 843.5L871.8 844.8L871.8 845.9L871.9 846.9L871.9 848.7L871.9 849.8L872.0 851.3L872.0 852.1L872.1 854.3L872.1 854.7L872.1 856.3L872.2 857.9L872.2 858.9L872.3 860.1L872.3 861.9L872.3 863.5L872.4 864.1L872.4 865.3L872.4 867.0L872.5 867.8L872.5 869.3L872.5 870.8L872.6 871.9L872.6 872.9L872.7 874.1L872.7 875.9L872.7 877.7L872.8 878.9L872.8 879.4L872.8 881.2L872.9 882.5L872.9 883.5L872.9 885.3L873.0 886.5L873.0 888.1L873.0 889.0L873.1 891.0L873.1 892.2L873.1 893.2L873.2 894.2L873.2 895.9L873.2 896.9L873.3 898.8L873.3 900.2L873.3 901.4L873.4 903.2L873.4 903.6L873.4 905.6L873.5 907.1L873.5 907.7L873.5 909.3L873.6 910.4L873.6 912.3L873.6 913.8L873.6 914.7L873.7 916.4L873.7 917.4L873.7 919.1L873.8 920.0L873.8 922.1L873.8 922.8L873.8 923.7L873.9 925.2L873.9 927.1L873.9 928.6L873.9 929.7L874.0 930.5L874.0 932.6L874.0 933.7L874.0 934.4L874.1 936.0L874.1 937.7L874.1 938.3L874.1 939.7L874.1 941.3L874.2 943.2L874.2 944.6L874.2 945.2L874.2 947.2L874.2 948.4L874.3 949.8L874.3 950.8L874.3 952.5L874.3 953.5L874.3 955.1L874.3 956.1L874.4 957.0L874.4 958.7L874.4 960.0L874.4 961.2L874.4 962.5L874.4 964.0L874.5 965.4L874.5 966.3L874.5 967.7L874.5 969.3L874.5 970.6L874.6 971.8L874.6 973.4L874.6 974.3L874.6 975.9L874.6 977.0L874.6 978.8L874.7 980.1L874.7 981.5L874.7 982.5L874.7 983.6L874.7 985.6L874.8 986.5L874.8 987.7L874.8 988.9L874.8 990.4L874.9 992.0L874.9 993.5L874.9 994.5L874.9 996.1L875.0 997.0L875.0 998.6L875.0 999.9L875.0 1001.3L875.0 1002.8L875.1 1004.6L875.1 1006.0L875.1 1007.0L875.1 1008.5L875.2 1010.5L875.2 1011.8L875.2 1013.3L875.2 1014.7L875.3 1016.2L875.3 1017.3L875.3 1018.5L875.3 1020.3L875.4 1021.4L875.4 1023.8L875.4 1024.8L875.4 1026.3L875.5 1028.1L875.5 1029.3L875.5 1030.1L875.5 1031.6L875.6 1032.8L875.6 1034.8L875.6 1036.1L875.6 1037.2L875.7 1038.4L875.7 1039.6L875.7 1041.1L875.8 1042.6L875.8 1044.1L875.8 1045.2L875.8 1046.5L875.9 1047.2L875.9 1048.3L875.9 1049.4L876.0 1051.1L876.0 1051.4L876.0 1052.4L876.1 1053.6L876.1 1055.2L876.1 1056.1L876.2 1056.5L876.2 1058.8L876.3 1060.6L876.4 1061.9L876.4 1063.5L876.5 1065.8L876.6 1067.1L876.6 1068.4L876.7 1070.6L876.8 1071.5L876.9 1072.6L876.9 1073.7L877.0 1074.1L877.1 1074.3L877.2 1074.8L877.2 1074.7L877.2 1074.2L877.3 1074.2L877.3 1074.2L877.4 1073.3L877.4 1073.0L877.5 1072.2L877.5 1071.0L877.5 1069.9L877.6 1069.6L877.6 1068.5L877.7 1067.0L877.7 1065.7L877.8 1065.1L877.8 1063.8L877.9 1061.7L877.9 1060.6L877.9 1059.1L878.0 1057.3L878.0 1055.4L878.1 1054.1L878.1 1052.8L878.2 1051.0L878.2 1049.2L878.2 1047.1L878.3 1045.4L878.3 1043.8L878.4 1042.1L878.4 1040.3L878.5 1039.1L878.5 1036.5L878.5 1035.6L878.6 1033.2L878.6 1032.1L878.7 1029.8L878.7 1028.4L878.7 1026.6L878.8 1024.7L878.8 1023.9L878.8 1022.8L878.9 1021.1L878.9 1020.5L878.9 1019.1L878.9 1018.5L879.0 1016.4L879.0 1015.5L879.0 1014.2L879.0 1013.4L879.1 1012.4L879.1 1011.3L879.1 1009.8L879.1 1008.4L879.2 1007.6L879.2 1005.6L879.2 1004.6L879.2 1003.8L879.3 1002.2L879.3 1001.5L879.3 999.3L879.3 998.4L879.3 996.9L879.4 995.4L879.4 994.2L879.4 992.9L879.4 991.9L879.5 990.6L879.5 989.4L879.5 987.8L879.5 986.9L879.5 985.4L879.6 984.5L879.6 982.4L879.6 981.4L879.6 980.0L879.6 978.5L879.7 977.7L879.7 975.6L879.7 975.0L879.7 973.1L879.7 971.7L879.8 970.6L879.8 969.2L879.8 967.5L879.8 965.9L879.8 965.4L879.9 963.5L879.9 961.8L879.9 961.0L879.9 959.5L879.9 957.9L880.0 956.5L880.0 955.7L880.0 953.8L880.0 952.5L880.0 951.7L880.1 949.7L880.1 948.4L880.1 946.8L880.1 945.9L880.1 944.5L880.2 942.9L880.2 941.5L880.2 940.0L880.2 939.2L880.3 937.5L880.3 936.5L880.3 934.7L880.3 933.7L880.3 931.7L880.4 930.6L880.4 930.0L880.4 928.4L880.4 927.0L880.4 925.5L880.5 924.2L880.5 922.6L880.5 921.3L880.5 920.4L880.6 919.2L880.6 917.4L880.6 916.5L880.6 914.6L880.6 913.8L880.7 912.0L880.7 911.0L880.7 909.5L880.7 908.4L880.7 906.6L880.8 905.6L880.8 904.4L880.8 902.6L880.8 901.4L880.8 900.5L880.9 899.0L880.9 897.7L880.9 896.5L880.9 895.0L881.0 893.3L881.0 892.1L881.0 891.2L881.0 889.5L881.0 888.4L881.1 886.6L881.1 885.4L881.1 884.5L881.1 883.1L881.1 881.5L881.2 879.6L881.2 878.8L881.2 876.9L881.2 876.4L881.2 875.1L881.3 873.5L881.3 871.7L881.3 871.0L881.3 869.0L881.4 868.3L881.4 866.7L881.4 864.8L881.4 864.4L881.4 862.6L881.5 861.7L881.5 860.2L881.5 858.7L881.5 857.8L881.5 855.8L881.6 855.2L881.6 853.3L881.6 851.7L881.6 850.7L881.7 849.2L881.7 847.9L881.7 847.2L881.7 845.4L881.7 844.2L881.8 843.0L881.8 841.7L881.8 841.1L881.8 839.9L881.9 838.6L881.9 837.5L881.9 835.7L881.9 834.8L882.0 833.1L882.0 832.5L882.0 831.2L882.0 829.9L882.0 828.2L882.1 826.9L882.1 826.5L882.1 825.0L882.1 823.6L882.2 822.4L882.2 820.2L882.2 819.3L882.3 817.7L882.3 816.6L882.3 814.9L882.4 813.2L882.4 812.6L882.4 810.6L882.5 809.7L882.5 808.4L882.5 806.5L882.5 805.6L882.6 803.9L882.6 802.4L882.6 801.1L882.7 800.5L882.7 798.6L882.7 797.5L882.8 796.1L882.8 794.4L882.8 793.8L882.9 792.5L882.9 791.3L882.9 789.5L883.0 788.1L883.0 786.9L883.0 786.0L883.1 784.7L883.1 783.1L883.1 782.0L883.2 780.3L883.2 779.8L883.2 778.1L883.3 776.8L883.3 775.8L883.3 774.0L883.4 773.2L883.4 771.6L883.4 770.7L883.5 768.7L883.5 767.6L883.5 766.7L883.6 765.2L883.6 763.8L883.7 762.7L883.7 761.0L883.7 759.9L883.8 758.2L883.8 757.6L883.9 755.8L883.9 755.0L883.9 753.4L884.0 752.2L884.0 750.9L884.1 749.0L884.1 748.4L884.1 746.5L884.2 745.8L884.2 744.4L884.3 743.0L884.3 741.8L884.4 740.1L884.4 739.0L884.5 737.9L884.5 735.8L884.5 734.4L884.6 733.4L884.6 732.2L884.7 730.5L884.7 729.3L884.8 728.6L884.8 726.8L884.9 725.2L884.9 723.9L885.0 723.0L885.0 721.3L885.1 720.2L885.1 719.0L885.2 717.6L885.2 716.3L885.3 715.3L885.3 713.2L885.4 712.7L885.4 710.7L885.4 709.2L885.5 708.6L885.5 707.1L885.6 705.7L885.6 704.1L885.7 703.3L885.7 701.5L885.8 700.6L885.8 698.8L885.9 697.8L885.9 696.6L886.0 695.0L886.0 693.8L886.1 692.0L886.1 691.3L886.2 690.0L886.2 688.1L886.3 687.2L886.3 686.1L886.4 684.1L886.4 683.5L886.5 682.2L886.5 680.1L886.6 679.0L886.7 677.5L886.7 676.3L886.8 674.8L886.8 673.9L886.9 672.3L886.9 671.1L887.0 669.9L887.0 668.5L887.1 667.6L887.1 666.2L887.2 664.2L887.2 663.0L887.3 661.5L887.3 660.5L887.4 658.9L887.5 658.2L887.5 657.0L887.6 655.9L887.6 653.7L887.7 652.3L887.7 651.6L887.8 650.0L887.8 649.2L887.9 647.3L887.9 645.9L888.0 644.3L888.0 643.9L888.1 642.1L888.2 640.7L888.2 639.4L888.3 638.4L888.3 637.2L888.4 635.5L888.4 633.9L888.5 632.8L888.5 631.9L888.6 630.1L888.6 629.0L888.7 627.6L888.7 626.2L888.8 625.0L888.8 623.3L888.9 622.3L888.9 621.3L889.0 619.1L889.0 618.1L889.1 617.2L889.1 616.0L889.2 613.7L889.2 612.9L889.3 611.6L889.3 610.4L889.4 608.7L889.4 607.0L889.5 605.8L889.5 604.8L889.6 603.5L889.6 601.6L889.6 600.7L889.7 599.3L889.7 598.0L889.8 596.0L889.8 595.0L889.9 593.6L889.9 592.5L890.0 590.9L890.0 589.3L890.1 588.5L890.1 586.8L890.2 585.9L890.2 584.1L890.3 583.0L890.3 582.0L890.4 580.0L890.4 579.2L890.5 577.3L890.5 576.8L890.6 574.6L890.7 574.0L890.7 572.4L890.8 570.9L890.8 569.8L890.9 568.7L891.0 567.3L891.0 565.8L891.1 564.9L891.2 563.5L891.2 562.9L891.3 561.1L891.4 559.9L891.5 558.3L891.6 557.7L891.7 555.6L891.8 554.6L891.9 553.4L892.0 551.6L892.1 550.6L892.2 548.8L892.3 547.3L892.4 545.9L892.5 545.0L892.6 544.1L892.8 542.1L892.9 541.1L893.0 540.1L893.1 538.3L893.2 536.9L893.4 536.0L893.5 534.6L893.6 533.9L893.7 532.6L893.8 530.6L894.0 529.7L894.1 528.3L894.2 526.7L894.3 525.8L894.4 525.0L894.5 523.2L894.6 522.2L894.8 521.0L894.9 519.1L895.0 518.7L895.1 516.7L895.2 515.6L895.3 514.7L895.4 512.8L895.5 511.8L895.6 510.2L895.6 509.2L895.7 507.4L895.8 506.2L895.9 504.9L896.0 503.5L896.1 502.1L896.1 500.9L896.2 499.9L896.3 498.1L896.4 497.5L896.4 495.7L896.5 494.2L896.6 492.9L896.7 492.2L896.7 490.0L896.8 489.4L896.9 487.5L896.9 487.0L897.0 485.1L897.1 484.0L897.2 483.0L897.2 481.0L897.3 479.6L897.4 479.0L897.5 477.6L897.6 476.5L897.6 474.8L897.7 473.8L897.8 472.3L897.9 471.3L898.0 470.0L898.1 468.8L898.3 467.1L898.4 465.7L898.5 464.7L898.6 462.8L898.8 462.1L898.9 460.5L899.1 458.9L899.2 457.5L899.3 456.5L899.5 455.2L899.6 454.2L899.8 452.5L899.9 451.3L900.0 450.9L900.2 448.3L900.3 448.5L900.5 447.0L900.6 445.9L900.7 444.5L900.9 441.7L901.0 441.6L901.1 439.8L901.2 437.6L901.3 438.0L901.4 435.9L901.5 434.9L901.6 433.1L901.8 430.7L901.9 431.1L902.0 428.2L902.1 427.1L902.2 426.5L902.2 424.3L902.3 423.5L902.4 422.7L902.5 420.1L902.6 420.0L902.7 417.4L902.8 416.9L902.9 415.9L903.0 414.7L903.1 411.9L903.2 410.9L903.3 411.3L903.4 408.7L903.5 407.4L903.6 406.0L903.7 405.4L903.8 404.1L903.9 402.6L904.0 400.7L904.1 399.8L904.2 398.3L904.3 396.3L904.4 396.6L904.5 395.3L904.5 393.6L904.6 392.7L904.7 390.2L904.8 389.7L904.9 387.1L905.0 386.8L905.1 385.4L905.2 384.6L905.3 383.0L905.4 381.8L905.6 379.1L905.7 379.0L905.8 376.9L905.9 375.3L906.0 374.0L906.1 373.6L906.2 372.4L906.4 371.0L906.5 369.3L906.6 366.8L906.7 365.4L906.9 365.0L907.0 362.8L907.1 361.8L907.3 359.9L907.4 358.6L907.5 358.5L907.7 356.1L907.8 356.1L908.0 353.6L908.1 353.5L908.2 350.9L908.4 349.6L908.5 348.5L908.7 346.4L908.8 346.1L908.9 344.7L909.1 342.7L909.2 343.1L909.4 340.6L909.6 338.4L909.7 339.1L909.9 336.2L910.1 334.9L910.2 333.0L910.4 331.9L910.6 331.9L910.8 330.3L910.9 328.8L911.1 326.9L911.3 325.7L911.5 325.9L911.7 323.3L911.9 323.4L912.1 321.9L912.3 318.9L912.5 319.2L912.7 316.0L912.9 316.2L913.2 315.1L913.4 313.5L913.6 311.8L913.9 311.1L914.1 308.3L914.4 307.9L914.6 306.0L914.9 305.0L915.1 303.3L915.4 303.2L915.7 301.6L916.0 300.8L916.3 299.3L916.6 297.8L917.0 297.1L917.4 295.5L917.8 293.6L918.2 291.7L918.6 291.7L919.0 289.2L919.4 287.3L919.8 286.5L920.2 286.0L920.6 285.2L921.1 283.4L921.5 282.0L922.0 281.3L922.4 279.6L922.9 277.6L923.4 276.3L923.9 275.7L924.4 273.5L924.8 271.8L925.3 271.7L925.9 270.9L926.4 268.4L927.0 268.2L927.6 267.5L928.2 264.6L928.8 263.5L929.5 263.1L930.1 261.5L930.6 261.7L931.2 260.6L931.7 258.1L932.2 257.6L932.8 256.0L933.3 253.7L933.8 254.1L934.3 251.1L934.9 249.7L935.4 249.4L936.1 247.2L936.7 247.1L937.4 245.8L938.1 245.9L938.8 243.6L939.5 243.4L940.2 242.1L941.0 240.5L941.8 238.6L942.6 237.5L943.4 236.7L944.2 235.2L945.0 234.6L945.8 233.1L946.6 231.5L947.5 230.9L948.3 230.4L949.1 227.4L950.0 226.5L950.9 224.6L951.9 223.7L952.9 222.6L954.0 222.4L955.1 222.4L956.3 221.2L957.5 220.9L958.7 219.7L959.8 218.4L961.0 217.6L962.1 215.6L963.2 215.7L964.4 214.7L965.5 214.9L966.7 213.0L967.8 213.5L969.2 212.5L970.5 212.3L971.9 211.7L973.2 210.6L974.5 211.4L975.8 210.8L976.9 209.6L977.9 207.7L978.9 207.8L979.9 207.4L980.9 206.6L981.9 205.0L982.8 202.3L983.8 203.0L984.6 201.5L985.5 199.6L986.3 200.0L987.1 198.6L987.8 197.6L988.6 195.1L989.4 194.6L990.2 193.0L991.0 191.7L991.8 191.6L992.6 190.1L993.4 188.4L994.1 187.6L994.9 187.3L995.7 185.3L996.5 184.9L997.3 183.0L998.1 182.9L998.9 179.8L999.8 179.8L1000.9 178.9L1002.0 178.4L1003.2 178.0L1004.3 176.5L1005.5 175.3L1006.6 174.8L1007.8 173.5L1008.7 172.9L1009.5 172.3L1010.4 169.1L1011.2 168.5L1012.1 168.5L1013.0 165.6L1013.8 166.1L1014.8 163.6L1015.7 164.2L1017.0 164.0L1018.3 162.4L1019.7 162.6L1021.0 162.1L1022.4 163.0L1023.7 162.3L1025.1 162.1L1026.4 161.0L1027.7 161.0L1029.1 161.3L1030.4 160.3L1031.7 160.1L1033.0 157.9L1034.4 157.8L1035.7 156.8L1037.0 156.1L1038.4 156.4L1039.7 154.4L1041.0 154.6L1042.3 154.5L1043.7 154.3L1045.0 151.8L1046.3 151.8L1047.7 151.9L1049.0 152.5L1050.3 150.5L1051.7 151.8L1053.0 150.6L1054.3 150.7L1055.7 151.2L1057.0 149.0L1058.4 149.3L1059.7 148.6L1061.0 148.1L1062.4 148.0L1063.6 148.3L1064.8 147.4L1066.0 145.5L1067.1 146.0L1068.3 144.4L1069.4 142.7L1070.5 143.5L1071.6 143.0L1073.2 141.5L1074.9 143.2L1076.4 143.3L1078.0 142.5L1079.3 142.6L1080.6 145.3L1081.9 146.1L1083.1 145.2L1084.4 146.9L1085.7 146.7L1087.0 145.8L1088.2 145.4L1089.5 144.9L1090.8 142.7L1092.1 143.3L1093.3 143.0L1094.6 141.2L1095.9 141.6L1097.2 141.1L1098.4 140.9L1099.7 139.7L1101.0 138.5L1102.2 138.0L1103.6 138.4L1104.8 137.6L1106.2 139.6L1107.5 140.1L1108.8 139.3L1110.2 140.8L1111.6 141.1L1112.9 140.1L1114.2 141.7L1115.5 141.8L1116.9 140.9L1118.2 140.5L1119.5 141.0L1120.9 142.2L1122.2 141.6L1123.5 142.4L1124.9 141.0L1126.2 140.9L1127.5 141.5L1128.9 142.8L1130.2 141.3L1131.6 141.3L1132.9 142.9L1134.2 141.5L1135.5 142.7L1136.8 141.2L1138.1 141.3L1139.4 141.8L1140.6 141.9L1141.9 140.5L1146.0 138.4L1147.1 116.1L1148.6 141.7L1149.9 116.6L1150.9 137.7L1152.4 120.3L1153.6 137.7L1155.1 116.9L1156.4 138.4L1158.0 115.5L1159.6 138.8L1160.7 119.4L1162.0 143.3L1163.1 116.3L1164.8 142.2L1166.4 117.8L1167.4 140.5L1168.9 113.3L1170.3 137.9L1171.6 117.6L1173.2 141.9L1174.8 117.7L1176.5 136.2L1178.1 116.8L1179.7 135.7L1181.3 115.2L1182.5 141.9L1183.6 115.9L1184.9 138.7L1185.9 115.8L1187.4 136.3L1189.1 120.4L1190.3 142.4L1191.9 117.5L1193.1 131.7L1194.1 119.4L1195.4 123.8L1197.1 119.1L1198.3 123.3L1199.7 117.8L1200.9 121.1L1202.1 116.8L1203.3 121.2L1204.7 116.3L1205.9 119.6L1207.5 114.9L1209.0 117.8L1210.3 113.8L1211.7 117.1L1213.0 109.1L1214.5 114.7L1215.5 107.2L1216.4 114.3L1217.3 104.5L1218.7 113.2L1220.0 105.4L1221.1 112.5L1222.6 104.0L1224.1 113.1L1225.5 103.7L1226.8 111.3L1228.5 102.0L1229.8 112.3L1230.8 100.2L1231.9 111.6L1232.8 93.3L1234.4 107.4L1235.5 86.5L1236.7 110.5L1237.8 86.1L1239.2 111.1L1240.9 88.8L1242.5 105.1L1244.1 90.5L1245.7 105.6L1246.7 88.1L1248.1 108.2L1249.4 92.5L1250.9 104.9L1252.1 88.8L1253.7 107.3L1254.9 88.3L1256.3 104.7L1257.7 89.1L1259.1 105.9L1260.1 90.1L1261.6 107.4L1262.7 87.7L1263.7 108.5L1264.7 91.7L1265.8 110.5L1267.4 89.9L1268.9 109.2L1270.3 90.1L1271.9 107.8L1273.1 89.7L1274.3 112.2L1275.3 84.8L1276.4 105.3L1277.5 92.2L1278.7 104.4L1279.7 91.4L1281.1 106.4L1282.2 89.8L1283.8 108.1L1284.9 87.5L1286.5 107.1L1287.5 85.9L1288.9 105.5L1290.5 85.9L1291.4 109.6L1292.5 91.4L1294.1 108.3L1295.1 96.5L1296.4 109.0L1297.4 97.9L1298.4 106.8L1299.4 99.6L1300.7 106.4L1302.2 97.8L1303.2 106.3L1304.8 98.9L1306.4 106.7L1307.6 97.5L1308.8 108.5L1310.4 97.4L1311.4 108.3L1312.9 98.0L1314.3 106.1L1315.9 99.9L1317.5 108.0L1318.6 97.2L1319.6 109.4L1320.8 97.1L1322.1 109.0L1323.2 98.0L1324.1 107.9L1325.1 95.2L1326.8 111.7L1328.4 90.2L1329.9 110.8L1331.3 90.7L1332.9 108.5L1334.3 90.7L1335.9 107.0L1336.8 89.8L1338.5 110.6L1339.6 89.7L1341.2 105.5L1342.4 84.0L1343.4 107.6L1344.3 83.6L1345.3 111.6L1346.9 85.5L1347.8 109.6L1349.1 87.6L1350.6 105.0L1352.2 88.2L1353.4 105.8L1354.6 84.3L1355.9 108.1L1357.6 89.2L1358.5 106.7L1359.7 89.9L1360.9 104.5L1362.6 86.1L1364.0 109.4L1365.2 86.0L1366.3 108.0L1367.6 85.7L1368.7 106.5L1370.2 85.5L1371.9 104.2L1373.4 87.1L1374.8 108.5L1376.1 88.3L1377.7 108.8L1379.0 85.4L1380.4 105.5L1381.6 88.0L1382.9 108.7L1384.1 88.2L1385.3 107.3L1387.0 87.6L1388.2 106.5L1389.6 89.8L1390.7 103.8L1392.2 87.0L1393.4 105.7L1395.0 84.2L1396.1 109.7L1397.6 95.1L1398.8 117.4L1400.4 106.3L1401.4 119.6L1403.1 108.5L1404.4 121.1L1405.3 110.0L1406.8 121.4L1408.4 111.4L1409.8 122.6L1410.9 113.1L1412.3 122.7L1413.4 116.1L1414.8 124.2L1416.0 115.8L1417.1 126.2L1418.3 117.3L1419.6 126.0L1420.9 117.3L1422.3 127.7L1423.2 120.1L1424.6 127.7L1425.7 118.9L1427.3 128.6L1428.4 119.1L1429.5 127.3L1430.7 119.0L1431.8 127.0L1432.8 121.0L1433.9 127.4L1435.4 119.1L1437.0 122.7L1438.3 116.4L1439.1 114.3L1439.9 119.3L1440.7 118.3L1441.5 120.4L1442.3 120.1L1443.3 121.4L1444.3 122.6L1445.5 127.4L1447.2 124.5L1449.2 125.2L1451.1 123.7L1452.4 124.7L1453.7 124.4L1454.8 125.7L1455.9 127.8L1457.0 131.4L1457.9 132.7L1459.1 131.0L1460.6 133.8L1462.2 130.8L1463.9 128.1L1465.4 129.7L1467.0 130.8L1468.7 135.1L1470.2 134.3L1471.8 133.7L1473.5 133.6L1475.1 134.0L1476.7 133.9L1478.4 133.9L1479.8 135.7L1481.5 134.7L1483.0 133.7L1484.3 135.5L1485.4 135.8L1485.4 135.1L1485.6 178.2L1489.4 184.6L1494.2 187.8L1495.5 159.8L1497.4 190.9L1501.4 163.0L1503.8 163.0L1506.2 197.3L1510.2 200.5L1512.1 203.7L1514.2 187.0L1517.4 182.2L1519.0 200.5L1521.4 203.7L1521.4 203.7L1523.8 206.1L1526.5 208.4L1527.7 210.6L1528.9 213.0L1530.1 215.6L1531.3 218.4L1532.4 221.1L1533.1 223.8L1533.6 226.3L1534.0 229.0L1534.3 231.6L1534.6 234.3L1534.9 237.1L1535.2 239.8L1535.5 242.5L1535.9 245.1L1536.3 247.8L1536.6 250.4L1537.0 253.0L1537.4 255.7L1537.7 258.3L1538.1 261.0L1538.4 263.7L1538.7 266.4L1538.9 269.1L1539.0 271.8L1539.2 274.5L1539.3 277.2L1539.4 280.0L1539.6 282.7L1539.7 285.5L1539.8 288.2L1540.0 290.9L1540.1 293.5L1540.3 296.3L1540.5 299.0L1540.6 301.8L1540.8 304.5L1541.0 307.1L1541.2 309.8L1541.3 312.4L1541.5 315.0L1541.7 317.8L1541.8 320.4L1541.9 323.0L1542.1 325.6L1542.2 328.5L1542.3 331.2L1542.4 333.5L1542.5 336.0L1542.6 338.5L1542.7 341.0L1542.8 343.7L1542.9 346.3L1542.9 349.0L1543.0 351.8L1543.1 354.5L1543.2 357.3L1543.3 360.1L1543.4 362.9L1543.5 365.7L1543.5 368.5L1543.6 371.2L1543.7 374.0L1543.8 376.7L1543.8 379.3L1543.9 382.0L1543.9 384.6L1544.0 387.3L1544.0 390.0L1544.0 392.6L1544.1 395.3L1544.1 397.9L1544.1 400.6L1544.2 403.2L1544.2 405.9L1544.2 408.5L1544.3 411.2L1544.3 413.8L1544.4 416.5L1544.4 419.2L1544.4 421.8L1544.5 424.5L1544.5 427.1L1544.6 429.8L1544.7 432.5L1544.7 435.1L1544.8 437.8L1544.9 440.4L1544.9 443.1L1545.0 445.8L1545.1 448.4L1545.2 451.1L1545.2 453.7L1545.3 456.4L1545.4 459.1L1545.5 461.7L1545.5 464.4L1545.6 467.0L1545.7 469.7L1545.8 472.4L1545.8 475.0L1545.9 477.7L1546.0 480.4L1546.0 483.0L1546.1 485.7L1546.2 488.3L1546.2 491.0L1546.3 493.7L1546.4 496.3L1546.4 499.0L1546.5 501.6L1546.6 504.3L1546.6 507.0L1546.7 509.6L1546.8 512.3L1546.8 514.9L1546.9 517.6L1547.0 520.3L1547.0 522.9L1547.1 525.6L1547.2 528.3L1547.3 531.0L1547.4 533.7L1547.5 536.4L1547.5 539.1L1547.6 541.8L1547.7 544.5L1547.8 547.2L1547.9 549.9L1548.0 552.6L1548.1 555.3L1548.1 557.9L1548.2 560.5L1548.3 563.1L1548.4 565.7L1548.5 568.2L1548.5 570.9L1548.6 573.6L1548.7 576.3L1548.8 578.9L1548.8 581.4L1548.9 584.0L1549.0 586.5L1549.0 589.1L1549.1 591.7L1549.2 594.4L1549.2 597.2L1549.3 600.0L1549.3 602.4L1549.4 604.8L1549.4 607.3L1549.5 609.8L1549.5 612.3L1549.5 614.8L1549.6 617.4L1549.6 620.0L1549.6 622.6L1549.7 625.2L1549.7 627.9L1549.8 630.5L1549.8 633.2L1549.8 635.9L1549.9 638.6L1549.9 641.3L1549.9 643.9L1550.0 646.6L1550.0 649.3L1550.1 652.0L1550.1 654.7L1550.2 657.3L1550.2 659.9L1550.3 662.6L1550.3 665.2L1550.4 667.8L1550.5 670.4L1550.6 673.0L1550.7 675.6L1550.8 678.2L1550.9 680.8L1551.0 683.4L1551.1 686.0L1551.2 688.6L1551.3 691.3L1551.4 693.9L1551.5 696.5L1551.6 699.1L1551.7 701.7L1551.8 704.3L1551.9 706.9L1552.0 709.5L1552.1 712.1L1552.2 714.7L1552.3 717.3L1552.4 719.9L1552.5 722.5L1552.6 725.1L1552.7 727.8L1552.8 730.4L1552.9 733.0L1553.0 735.6L1553.1 738.2L1553.2 740.9L1553.3 743.5L1553.4 746.1L1553.5 748.8L1553.6 751.4L1553.7 754.1L1553.8 756.7L1553.9 759.3L1554.0 762.0L1554.1 764.6L1554.2 767.2L1554.3 769.8L1554.4 772.4L1554.5 775.0L1554.6 777.6L1554.7 780.2L1554.8 782.7L1554.9 785.3L1555.0 787.8L1555.0 790.4L1555.1 793.0L1555.2 795.8L1555.3 798.5L1555.4 801.2L1555.5 804.0L1555.6 806.7L1555.7 809.4L1555.8 812.1L1555.9 814.8L1556.0 817.5L1556.1 820.1L1556.1 822.8L1556.2 825.4L1556.3 828.0L1556.4 830.6L1556.5 833.2L1556.6 835.7L1556.7 838.3L1556.7 840.9L1556.8 843.6L1556.9 846.3L1556.9 848.8L1557.0 851.4L1557.1 853.9L1557.1 856.5L1557.2 859.0L1557.3 861.7L1557.3 864.4L1557.4 867.1L1557.5 870.0L1557.5 872.4L1557.6 874.7L1557.7 877.1L1557.7 879.6L1557.8 882.0L1557.8 884.5L1557.9 887.1L1558.0 889.6L1558.0 892.2L1558.1 894.8L1558.2 897.4L1558.2 900.1L1558.3 902.7L1558.3 905.4L1558.4 908.1L1558.5 910.8L1558.5 913.5L1558.6 916.2L1558.7 918.9L1558.7 921.6L1558.8 924.4L1558.9 927.1L1558.9 929.8L1559.0 932.5L1559.1 935.2L1559.1 937.9L1559.2 940.6L1559.3 943.2L1559.3 945.9L1559.4 948.5L1559.4 951.2L1559.5 953.8L1559.6 956.4L1559.6 959.0L1559.7 961.7L1559.7 964.3L1559.8 966.9L1559.8 969.6L1559.9 972.2L1560.0 974.9L1560.0 977.5L1560.1 980.1L1560.1 982.8L1560.2 985.4L1560.2 988.1L1560.3 990.7L1560.3 993.3L1560.4 996.0L1560.5 998.6L1560.5 1001.2L1560.6 1003.8L1560.6 1006.5L1560.7 1009.1L1560.7 1011.7L1560.8 1014.3L1560.9 1016.9L1560.9 1019.4L1561.0 1022.0L1561.0 1024.6L1561.1 1027.1L1561.2 1029.7L1561.2 1032.4L1561.3 1035.1L1561.4 1037.7L1561.5 1040.4L1561.5 1043.1L1561.6 1045.8L1561.7 1048.4L1561.8 1051.1L1561.8 1053.8L1561.9 1056.4L1562.0 1059.1L1562.1 1061.7L1562.1 1064.3L1562.2 1067.0L1562.3 1069.6L1562.4 1072.2L1562.5 1074.7L1562.5 1077.3L1562.6 1079.8L1562.7 1082.4L1562.8 1084.9L1562.9 1087.4L1562.9 1089.9L1563.0 1092.3L1563.1 1095.0L1563.3 1097.8L1563.4 1100.6L1563.6 1103.5L1563.7 1106.3L1563.8 1109.1L1564.0 1111.9L1564.1 1114.6L1564.3 1117.3L1564.4 1119.9L1564.6 1122.5L1564.7 1125.0L1564.9 1127.4L1565.0 1129.7L1565.2 1131.9L1565.5 1134.8L1565.9 1137.4L1566.3 1140.0L1566.6 1143.4L1566.9 1146.5L1567.3 1146.5L1567.6 1143.4L1568.0 1140.0L1568.3 1137.4L1568.7 1134.8L1569.0 1131.9L1569.1 1129.7L1569.3 1127.4L1569.5 1124.9L1569.7 1122.4L1569.8 1119.8L1570.0 1117.2L1570.2 1114.4L1570.3 1111.7L1570.5 1108.9L1570.7 1106.1L1570.8 1103.3L1571.0 1100.5L1571.2 1097.7L1571.3 1094.9L1571.4 1092.3L1571.5 1089.7L1571.6 1087.1L1571.7 1084.4L1571.8 1081.8L1571.8 1079.1L1571.9 1076.5L1572.0 1073.8L1572.0 1071.1L1572.1 1068.4L1572.2 1065.8L1572.2 1063.1L1572.3 1060.4L1572.3 1057.7L1572.4 1055.0L1572.5 1052.3L1572.6 1049.7L1572.6 1047.0L1572.7 1044.3L1572.8 1041.7L1572.9 1039.0L1573.0 1036.4L1573.1 1033.8L1573.1 1031.1L1573.2 1028.5L1573.3 1025.9L1573.4 1023.2L1573.5 1020.6L1573.6 1018.0L1573.7 1015.3L1573.8 1012.6L1573.9 1010.0L1574.0 1007.3L1574.0 1004.6L1574.1 1001.9L1574.2 999.1L1574.3 996.5L1574.4 994.0L1574.4 991.4L1574.5 988.9L1574.6 986.3L1574.6 983.7L1574.7 981.1L1574.8 978.5L1574.8 975.9L1574.9 973.3L1575.0 970.7L1575.0 968.1L1575.1 965.4L1575.1 962.8L1575.2 960.2L1575.3 957.5L1575.3 954.9L1575.4 952.3L1575.5 949.6L1575.5 947.0L1575.6 944.4L1575.7 941.7L1575.7 939.1L1575.8 936.5L1575.9 933.9L1575.9 931.3L1576.0 928.6L1576.0 926.0L1576.1 923.4L1576.2 920.8L1576.2 918.1L1576.3 915.5L1576.4 912.8L1576.4 910.2L1576.5 907.6L1576.5 904.9L1576.6 902.3L1576.7 899.6L1576.7 897.0L1576.8 894.4L1576.8 891.8L1576.9 889.2L1577.0 886.6L1577.0 884.0L1577.1 881.4L1577.2 878.9L1577.3 876.3L1577.3 873.8L1577.4 871.3L1577.5 868.6L1577.6 865.9L1577.8 863.2L1577.9 860.5L1578.0 857.9L1578.2 855.3L1578.3 852.6L1578.5 850.0L1578.6 847.4L1578.8 844.8L1578.9 842.2L1579.0 839.6L1579.2 837.0L1579.3 834.4L1579.5 831.7L1579.6 829.0L1579.7 826.3L1579.8 823.6L1579.9 821.1L1580.0 818.5L1580.1 816.0L1580.1 813.4L1580.2 810.9L1580.3 808.3L1580.4 805.7L1580.4 803.1L1580.5 800.5L1580.5 797.9L1580.6 795.2L1580.7 792.6L1580.7 790.0L1580.8 787.3L1580.9 784.7L1580.9 782.1L1581.0 779.4L1581.0 776.8L1581.1 774.1L1581.2 771.5L1581.2 768.9L1581.3 766.2L1581.3 763.6L1581.4 761.0L1581.5 758.4L1581.5 755.8L1581.6 753.2L1581.7 750.5L1581.7 747.9L1581.8 745.3L1581.9 742.6L1581.9 740.0L1582.0 737.4L1582.1 734.7L1582.1 732.1L1582.2 729.4L1582.3 726.8L1582.3 724.2L1582.4 721.6L1582.5 718.9L1582.5 716.3L1582.6 713.7L1582.7 711.1L1582.7 708.6L1582.8 706.0L1582.9 703.4L1582.9 700.9L1583.0 698.3L1583.0 695.8L1583.1 693.1L1583.1 690.3L1583.2 687.6L1583.2 684.9L1583.3 682.3L1583.3 679.6L1583.4 676.9L1583.4 674.3L1583.5 671.6L1583.5 669.0L1583.6 666.4L1583.6 663.8L1583.6 661.1L1583.7 658.5L1583.7 655.9L1583.8 653.2L1583.8 650.6L1583.8 647.9L1583.9 645.2L1583.9 642.6L1583.9 639.9L1583.9 637.3L1584.0 634.6L1584.0 631.9L1584.0 629.3L1584.0 626.6L1584.0 623.9L1584.1 621.3L1584.1 618.6L1584.1 615.9L1584.1 613.3L1584.1 610.6L1584.1 608.0L1584.1 605.3L1584.1 602.7L1584.2 600.0L1584.1 597.3L1584.1 594.7L1584.1 592.0L1584.1 589.3L1584.0 586.7L1584.0 584.0L1584.0 581.3L1583.9 578.7L1583.9 576.0L1583.9 573.3L1583.9 570.7L1583.8 568.0L1583.8 565.4L1583.8 562.7L1583.8 560.1L1583.8 557.5L1583.8 554.9L1583.9 552.2L1584.0 549.5L1584.2 546.8L1584.3 544.2L1584.5 541.5L1584.6 538.8L1584.8 536.2L1585.0 533.5L1585.1 530.9L1585.3 528.2L1585.5 525.6L1585.6 522.9L1585.8 520.3L1586.0 517.6L1586.2 515.0L1586.3 512.3L1586.5 509.6L1586.6 507.0L1586.8 504.3L1586.9 501.6L1587.1 498.9L1587.3 496.2L1587.4 493.5L1587.6 490.9L1587.7 488.2L1587.9 485.5L1588.1 482.9L1588.2 480.2L1588.4 477.6L1588.5 475.0L1588.7 472.4L1588.9 469.6L1589.1 466.9L1589.3 464.2L1589.5 461.4L1589.7 458.7L1589.9 456.0L1590.1 453.4L1590.3 450.7L1590.5 448.1L1590.7 445.6L1590.9 443.0L1591.2 440.3L1591.5 437.4L1591.8 434.6L1592.1 431.8L1592.4 429.1L1592.8 426.4L1593.2 423.9L1593.9 421.2L1595.1 418.3L1596.2 415.7L1597.4 413.8L1598.6 415.7L1599.8 418.3L1600.9 421.2L1601.6 423.9L1602.1 426.4L1602.4 429.1L1602.7 431.8L1603.0 434.6L1603.3 437.4L1603.6 440.3L1603.9 443.0L1604.1 445.6L1604.3 448.2L1604.4 450.8L1604.6 453.5L1604.8 456.1L1605.0 458.9L1605.1 461.6L1605.3 464.3L1605.5 467.0L1605.6 469.7L1605.8 472.4L1606.0 475.1L1606.1 477.7L1606.3 480.3L1606.5 483.0L1606.7 485.6L1606.9 488.3L1607.0 490.9L1607.2 493.6L1607.4 496.2L1607.5 498.9L1607.7 501.6L1607.9 504.3L1608.0 507.0L1608.1 509.6L1608.2 512.2L1608.3 514.9L1608.4 517.5L1608.5 520.2L1608.6 522.9L1608.6 525.6L1608.7 528.3L1608.8 531.0L1608.9 533.7L1609.0 536.4L1609.0 539.0L1609.1 541.7L1609.2 544.3L1609.3 547.0L1609.4 549.7L1609.4 552.4L1609.5 555.1L1609.6 557.8L1609.7 560.5L1609.8 563.2L1609.8 565.8L1609.9 568.5L1610.0 571.1L1610.1 573.7L1610.2 576.2L1610.2 578.9L1610.3 581.6L1610.3 584.2L1610.4 586.7L1610.4 589.3L1610.5 591.9L1610.5 594.5L1610.6 597.2L1610.7 600.0L1610.7 602.5L1610.8 605.0L1610.8 607.5L1610.9 610.1L1610.9 612.7L1611.0 615.3L1611.1 618.0L1611.1 620.7L1611.2 623.4L1611.2 626.1L1611.3 628.9L1611.4 631.6L1611.4 634.4L1611.5 637.1L1611.6 639.8L1611.6 642.5L1611.7 645.2L1611.8 647.9L1611.9 650.6L1612.0 653.2L1612.1 655.9L1612.3 658.6L1612.4 661.2L1612.5 663.9L1612.7 666.5L1612.8 669.2L1612.9 671.9L1613.1 674.5L1613.2 677.2L1613.4 679.8L1613.5 682.5L1613.6 685.2L1613.8 687.8L1613.9 690.5L1614.0 693.2L1614.2 695.8L1614.3 698.5L1614.4 701.1L1614.6 703.8L1614.7 706.5L1614.8 709.1L1615.0 711.8L1615.1 714.4L1615.2 717.1L1615.4 719.8L1615.5 722.4L1615.6 725.1L1615.8 727.8L1615.9 730.4L1616.0 733.1L1616.2 735.7L1616.3 738.4L1616.4 741.1L1616.6 743.7L1616.7 746.4L1616.8 749.1L1617.0 751.8L1617.1 754.5L1617.2 757.2L1617.4 759.9L1617.5 762.6L1617.6 765.3L1617.8 768.0L1617.9 770.7L1618.0 773.4L1618.2 776.0L1618.3 778.7L1618.4 781.3L1618.6 783.9L1618.7 786.5L1618.8 789.1L1619.0 791.6L1619.2 794.4L1619.3 797.2L1619.5 800.0L1619.7 802.8L1619.9 805.6L1620.1 808.3L1620.3 811.0L1620.5 813.7L1620.7 816.2L1620.9 818.8L1621.1 821.2L1621.4 823.6L1621.9 826.8L1622.5 830.0L1623.2 832.8L1623.8 834.7L1624.4 832.8L1625.0 830.0L1625.6 826.8L1626.2 823.6L1626.4 821.2L1626.6 818.8L1626.8 816.2L1627.0 813.7L1627.2 811.0L1627.4 808.3L1627.6 805.6L1627.8 802.8L1628.0 800.0L1628.2 797.2L1628.4 794.4L1628.6 791.6L1628.7 789.1L1628.8 786.5L1629.0 783.9L1629.1 781.3L1629.2 778.7L1629.4 776.0L1629.5 773.4L1629.6 770.7L1629.8 768.0L1629.9 765.3L1630.0 762.6L1630.2 759.9L1630.3 757.2L1630.4 754.5L1630.6 751.8L1630.7 749.1L1630.8 746.4L1630.9 743.7L1631.1 741.1L1631.2 738.4L1631.3 735.7L1631.5 733.1L1631.6 730.4L1631.7 727.8L1631.9 725.1L1632.0 722.4L1632.1 719.8L1632.3 717.1L1632.4 714.4L1632.5 711.8L1632.7 709.1L1632.8 706.5L1632.9 703.8L1633.1 701.1L1633.2 698.5L1633.3 695.8L1633.5 693.2L1633.6 690.5L1633.7 687.8L1633.9 685.2L1634.0 682.5L1634.2 679.8L1634.3 677.2L1634.4 674.5L1634.6 671.9L1634.7 669.2L1634.8 666.5L1635.0 663.9L1635.1 661.2L1635.2 658.6L1635.4 655.9L1635.5 653.2L1635.6 650.6L1635.7 647.9L1635.9 645.2L1636.0 642.6L1636.1 639.9L1636.2 637.2L1636.3 634.5L1636.4 631.8L1636.6 629.2L1636.7 626.5L1636.8 623.8L1636.9 621.1L1637.0 618.4L1637.1 615.8L1637.2 613.1L1637.3 610.5L1637.4 607.8L1637.5 605.2L1637.6 602.6L1637.7 600.0L1637.7 597.3L1637.6 594.5L1637.6 591.8L1637.6 589.0L1637.6 586.3L1637.5 583.5L1637.5 580.8L1637.4 578.1L1637.4 575.4L1637.3 572.8L1637.3 570.2L1637.3 567.7L1637.3 565.2L1637.3 562.7L1637.4 560.1L1637.7 557.4L1637.9 554.9L1638.2 552.4L1638.5 549.8L1638.8 547.1L1639.0 544.5L1639.2 542.2L1639.3 539.8L1639.4 537.3L1639.6 534.7L1639.7 532.1L1639.9 529.4L1640.0 526.7L1640.2 524.0L1640.3 521.2L1640.4 518.4L1640.6 515.6L1640.7 512.8L1640.9 510.1L1641.0 507.3L1641.2 504.6L1641.3 502.0L1641.5 499.4L1641.6 496.8L1641.8 494.4L1642.0 492.0L1642.1 489.7L1642.5 486.7L1642.8 483.8L1643.1 481.0L1643.4 478.3L1643.8 475.8L1644.3 473.3L1645.3 470.7L1646.9 468.2L1648.5 465.7L1649.4 463.1L1650.1 460.4L1650.9 457.8L1652.5 454.6L1654.1 452.2L1655.7 454.5L1657.3 457.8L1657.8 460.1L1658.2 462.7L1658.6 465.4L1659.0 468.1L1659.3 470.9L1659.7 473.7L1659.9 476.3L1660.1 478.9L1660.3 481.5L1660.5 484.2L1660.6 486.9L1660.8 489.6L1660.9 492.3L1661.1 495.0L1661.3 497.7L1661.5 500.3L1661.6 503.0L1661.8 505.6L1662.0 508.2L1662.2 510.9L1662.4 513.5L1662.5 516.2L1662.7 518.9L1662.9 521.6L1663.0 524.2L1663.1 526.8L1663.2 529.4L1663.3 532.0L1663.5 534.6L1663.6 537.3L1663.7 539.9L1663.8 542.6L1663.9 545.3L1664.0 548.0L1664.1 550.8L1664.2 553.6L1664.2 556.1L1664.3 558.7L1664.4 561.3L1664.4 563.9L1664.5 566.5L1664.5 569.2L1664.6 571.8L1664.6 574.5L1664.7 577.2L1664.8 579.9L1664.8 582.6L1664.9 585.3L1664.9 588.0L1665.0 590.7L1665.0 593.3L1665.1 596.0L1665.1 598.7L1665.1 601.4L1665.1 604.0L1665.2 606.7L1665.2 609.3L1665.2 612.0L1665.2 614.6L1665.2 617.3L1665.2 620.0L1665.2 622.6L1665.2 625.3L1665.2 627.9L1665.2 630.6L1665.2 633.3L1665.2 635.9L1665.2 638.6L1665.2 641.3L1665.3 643.9L1665.3 646.6L1665.3 649.2L1665.3 651.9L1665.4 654.6L1665.4 657.2L1665.5 659.9L1665.5 662.5L1665.5 665.2L1665.6 667.9L1665.6 670.5L1665.7 673.2L1665.7 675.9L1665.8 678.5L1665.8 681.2L1665.9 683.8L1665.9 686.5L1666.0 689.2L1666.0 691.8L1666.1 694.5L1666.1 697.1L1666.1 699.8L1666.2 702.5L1666.2 705.1L1666.3 707.8L1666.3 710.5L1666.4 713.1L1666.4 715.8L1666.5 718.4L1666.5 721.1L1666.5 723.8L1666.6 726.4L1666.6 729.1L1666.7 731.7L1666.7 734.4L1666.8 737.1L1666.8 739.7L1666.9 742.4L1666.9 745.1L1666.9 747.7L1667.0 750.4L1667.0 753.0L1667.1 755.7L1667.1 758.4L1667.2 761.0L1667.2 763.7L1667.3 766.3L1667.3 769.0L1667.3 771.7L1667.4 774.3L1667.4 777.0L1667.5 779.7L1667.5 782.3L1667.6 785.0L1667.6 787.6L1667.7 790.3L1667.7 793.0L1667.7 795.6L1667.8 798.3L1667.8 801.0L1667.9 803.7L1667.9 806.4L1668.0 809.2L1668.0 811.9L1668.0 814.6L1668.1 817.3L1668.1 820.0L1668.2 822.6L1668.2 825.3L1668.3 827.9L1668.3 830.6L1668.4 833.2L1668.4 835.7L1668.5 838.3L1668.5 840.9L1668.6 843.7L1668.6 846.3L1668.7 849.0L1668.8 851.6L1668.8 854.1L1668.9 856.7L1669.0 859.3L1669.0 861.9L1669.1 864.6L1669.2 867.3L1669.3 870.0L1669.4 872.6L1669.4 875.1L1669.5 877.7L1669.6 880.4L1669.7 883.0L1669.8 885.7L1669.8 888.3L1669.9 891.0L1670.0 893.7L1670.1 896.5L1670.2 899.2L1670.3 901.9L1670.4 904.6L1670.5 907.3L1670.6 910.0L1670.7 912.6L1670.8 915.3L1670.9 917.9L1671.0 920.7L1671.2 923.6L1671.3 926.7L1671.4 929.8L1671.6 932.9L1671.7 936.0L1671.9 939.1L1672.0 942.1L1672.2 945.0L1672.3 947.8L1672.5 950.4L1672.7 952.9L1672.8 955.1L1673.0 957.1L1673.2 958.7L1673.4 958.7L1673.7 956.8L1674.1 954.6L1674.4 952.0L1674.8 949.1L1675.1 946.1L1675.5 942.9L1675.8 939.8L1676.1 936.8L1676.5 933.9L1676.7 931.3L1676.9 928.7L1677.2 926.0L1677.4 923.4L1677.6 920.7L1677.9 918.0L1678.1 915.3L1678.3 912.7L1678.5 910.0L1678.7 907.3L1679.0 904.6L1679.2 901.9L1679.4 899.3L1679.5 896.7L1679.7 894.0L1679.9 891.4L1680.0 888.8L1680.2 886.2L1680.3 883.5L1680.5 880.9L1680.7 878.2L1680.9 875.5L1681.1 872.8L1681.3 870.0L1681.5 867.5L1681.7 864.9L1682.0 862.3L1682.3 859.7L1682.6 857.1L1682.8 854.4L1683.1 851.8L1683.4 849.1L1683.7 846.4L1684.0 843.7L1684.3 841.0L1684.6 838.3L1684.8 835.6L1685.1 833.0L1685.4 830.3L1685.7 827.6L1685.9 824.9L1686.1 822.2L1686.3 819.6L1686.5 816.9L1686.7 814.3L1686.9 811.6L1687.1 809.0L1687.3 806.3L1687.5 803.6L1687.6 801.0L1687.8 798.3L1688.0 795.6L1688.1 793.0L1688.3 790.3L1688.5 787.7L1688.7 785.0L1688.8 782.3L1689.0 779.7L1689.2 777.0L1689.3 774.3L1689.5 771.7L1689.6 769.0L1689.7 766.3L1689.9 763.7L1690.0 761.0L1690.1 758.4L1690.3 755.7L1690.4 753.0L1690.5 750.4L1690.7 747.7L1690.8 745.1L1690.9 742.4L1691.0 739.7L1691.2 737.1L1691.3 734.4L1691.4 731.7L1691.6 729.1L1691.7 726.4L1691.8 723.8L1692.0 721.1L1692.1 718.4L1692.2 715.7L1692.4 713.0L1692.5 710.4L1692.6 707.7L1692.8 705.0L1692.9 702.3L1693.1 699.7L1693.2 697.0L1693.3 694.3L1693.5 691.7L1693.6 689.0L1693.7 686.4L1693.8 683.8L1694.0 681.1L1694.1 678.5L1694.2 675.8L1694.3 673.1L1694.4 670.4L1694.5 667.7L1694.6 665.1L1694.8 662.4L1694.9 659.8L1695.0 657.1L1695.1 654.5L1695.2 651.8L1695.3 649.2L1695.4 646.6L1695.5 643.9L1695.6 641.3L1695.7 638.6L1695.7 635.9L1695.8 633.3L1695.9 630.6L1696.0 627.9L1696.1 625.3L1696.1 622.6L1696.2 619.9L1696.3 617.3L1696.4 614.6L1696.4 611.9L1696.5 609.3L1696.6 606.6L1696.6 604.0L1696.7 601.3L1696.8 598.7L1696.8 596.0L1696.8 593.3L1696.9 590.6L1696.9 587.9L1696.9 585.2L1696.9 582.5L1697.0 579.8L1697.0 577.1L1697.0 574.5L1697.0 571.8L1697.1 569.2L1697.1 566.6L1697.2 564.1L1697.2 561.6L1697.4 558.7L1697.5 555.9L1697.6 553.2L1697.8 550.4L1697.9 547.7L1698.1 545.1L1698.3 542.5L1698.6 540.0L1698.8 537.6L1699.6 534.6L1700.4 531.6L1701.2 529.0L1702.0 527.2L1702.9 529.1L1703.9 531.8L1704.8 534.7L1705.5 537.5L1705.9 540.6L1706.4 543.5L1707.9 545.8L1710.5 545.6L1713.2 544.0L1714.3 546.1L1715.2 548.9L1715.7 551.6L1715.9 554.1L1716.0 556.7L1716.2 559.5L1716.2 562.3L1716.3 565.2L1716.4 568.1L1716.4 570.8L1716.3 573.3L1716.3 575.9L1716.2 578.6L1716.1 581.2L1716.0 583.9L1715.9 586.6L1715.8 589.3L1715.7 592.0L1715.7 594.7L1715.6 597.4L1715.6 600.0L1715.7 602.7L1715.8 605.3L1715.9 608.0L1716.0 610.7L1716.1 613.4L1716.3 616.0L1716.4 618.7L1716.5 621.4L1716.7 624.0L1716.9 626.7L1717.0 629.3L1717.2 631.9L1717.4 634.7L1717.7 637.6L1717.9 640.6L1718.2 643.6L1718.5 646.6L1718.7 649.6L1719.0 652.3L1719.3 654.9L1719.6 657.2L1720.0 659.1L1720.4 660.7L1721.3 659.0L1722.3 656.6L1723.3 653.8L1724.3 650.8L1725.2 647.9L1725.6 645.4L1726.0 642.7L1726.3 640.0L1726.6 637.2L1726.9 634.4L1727.3 631.6L1727.6 628.9L1728.0 626.3L1728.4 624.0L1729.4 620.8L1730.5 618.0L1731.6 616.0L1732.6 618.1L1733.6 621.0L1734.7 624.0L1736.3 626.4L1738.0 628.7L1739.5 630.3L1740.9 628.3L1742.1 625.4L1743.0 622.8L1743.4 620.2L1743.9 617.6L1744.3 614.9L1744.6 612.1L1745.0 609.3L1745.2 606.6L1745.4 603.9L1745.6 601.2L1745.8 598.5L1745.9 595.7L1746.1 593.1L1746.2 590.4L1746.5 587.5L1746.8 584.7L1747.0 581.9L1747.4 579.0L1747.7 576.2L1748.2 573.5L1748.6 570.7L1749.1 567.9L1749.6 565.1L1750.1 562.5L1750.7 560.0L1752.0 557.3L1753.4 554.7L1754.8 552.7L1756.2 552.8L1757.6 555.4L1758.9 558.4L1759.7 561.2L1760.2 563.7L1760.6 566.4L1760.9 569.1L1761.3 571.9L1761.6 574.7L1761.9 577.5L1762.1 580.1L1762.3 582.8L1762.5 585.5L1762.6 588.3L1762.8 591.0L1763.0 593.7L1763.2 596.3L1763.4 598.8L1763.7 601.5L1764.1 604.4L1764.5 607.1L1765.1 609.8L1766.0 612.4L1767.2 614.8L1768.6 617.2L1770.0 619.5L1771.5 621.6L1773.8 623.2L1776.2 624.6L1778.7 625.6L1780.8 624.4L1782.9 622.7L1784.9 620.9L1786.5 618.9L1787.9 616.7L1789.1 614.3L1790.3 611.9L1791.4 609.6L1792.3 606.9L1793.1 604.3L1793.8 601.5L1794.3 598.8L1794.5 596.3L1794.6 593.7L1794.7 591.0L1794.8 588.3L1794.9 585.5L1795.1 582.8L1795.2 580.1L1795.4 577.5L1795.9 574.8L1796.4 572.1L1797.0 569.4L1797.6 566.8L1798.2 564.2L1798.8 561.6L1799.6 558.9L1800.3 556.3L1801.2 553.7L1802.0 551.0L1802.8 548.3L1803.6 545.6L1804.1 543.0L1804.7 540.4L1805.2 537.7L1805.7 535.0L1806.3 532.2L1806.8 529.5L1807.3 526.8L1807.8 524.2L1808.4 521.6L1809.0 518.9L1809.7 516.2L1810.4 513.5L1811.1 510.9L1811.7 508.3L1812.4 505.7L1812.9 503.0L1813.5 500.3L1814.0 497.7L1814.5 495.0L1815.1 492.4L1815.6 489.7L1816.0 487.0L1816.4 484.4L1816.8 481.7L1817.2 479.0L1817.6 476.4L1818.0 473.7L1818.3 471.1L1818.7 468.4L1819.1 465.7L1819.5 463.0L1819.9 460.4L1820.3 457.8L1820.9 455.1L1821.5 452.4L1822.1 449.7L1822.8 447.2L1823.5 445.0L1826.2 442.5L1828.5 442.4L1830.5 444.3L1832.3 446.6L1833.1 449.1L1833.7 451.9L1834.2 454.8L1834.7 457.8L1835.0 460.3L1835.3 462.9L1835.6 465.5L1835.8 468.2L1836.1 471.0L1836.3 473.7L1836.5 476.3L1836.6 478.9L1836.7 481.5L1836.8 484.1L1837.0 486.8L1837.1 489.5L1837.2 492.2L1837.3 494.9L1837.4 497.7L1837.5 500.3L1837.6 502.9L1837.7 505.6L1837.9 508.2L1838.0 510.9L1838.1 513.6L1838.2 516.4L1838.3 519.1L1838.4 521.7L1838.5 524.4L1838.6 527.0L1838.7 529.6L1838.9 532.4L1839.1 535.1L1839.2 537.7L1839.4 540.4L1839.6 543.0L1839.8 545.7L1840.0 548.3L1840.1 550.9L1840.3 553.6L1840.5 556.2L1840.7 558.9L1840.8 561.6L1841.0 564.2L1841.2 566.9L1841.4 569.6L1841.6 572.2L1841.7 574.9L1841.9 577.5L1842.1 580.2L1842.3 582.8L1842.5 585.4L1842.7 588.0L1842.9 590.6L1843.0 593.3L1843.2 596.0L1843.4 598.7L1843.6 601.3L1843.7 603.9L1843.8 606.5L1844.0 609.1L1844.1 611.8L1844.2 614.5L1844.4 617.2L1844.5 619.9L1844.6 622.6L1844.7 625.2L1844.9 627.9L1845.0 630.6L1845.2 633.3L1845.4 635.9L1845.6 638.6L1845.8 641.3L1846.0 643.9L1846.2 646.6L1846.4 649.2L1846.6 651.9L1846.8 654.6L1847.0 657.2L1847.2 659.9L1847.4 662.5L1847.6 665.2L1847.7 667.9L1847.9 670.5L1848.0 673.2L1848.1 675.9L1848.3 678.5L1848.4 681.2L1848.5 683.8L1848.6 686.5L1848.8 689.2L1848.9 691.8L1849.0 694.5L1849.2 697.2L1849.3 699.8L1849.4 702.5L1849.5 705.3L1849.7 708.0L1849.8 710.7L1849.9 713.4L1850.0 716.1L1850.2 718.7L1850.3 721.4L1850.5 724.0L1850.6 726.5L1850.8 729.2L1851.1 732.1L1851.4 735.0L1851.7 737.8L1852.0 740.6L1852.4 743.2L1852.8 745.7L1853.8 748.1L1855.4 750.3L1857.1 752.3L1858.8 754.4L1860.7 756.5L1862.7 758.1L1865.9 757.1L1869.1 755.9L1872.2 754.9L1874.4 756.9L1876.0 759.3L1876.9 762.0L1877.8 764.8L1878.6 767.7L1879.3 770.4L1879.9 773.2L1880.5 776.0L1881.0 778.9L1881.6 781.7L1882.1 784.7L1882.6 787.6L1883.1 790.4L1884.0 793.0L1885.2 795.6L1886.4 795.6L1887.5 793.0L1888.5 789.9L1889.3 787.1L1889.6 784.3L1890.0 781.5L1890.3 778.6L1890.6 775.7L1890.9 773.1L1891.2 770.4L1891.4 767.7L1891.7 765.0L1891.9 762.4L1892.2 759.7L1892.5 757.0L1892.7 754.4L1893.0 751.7L1893.2 749.0L1893.5 746.4L1893.8 743.7L1894.2 741.0L1894.5 738.3L1894.9 735.6L1895.3 732.9L1895.7 730.2L1896.2 727.8L1897.2 724.7L1898.3 721.8L1899.4 719.8L1900.5 721.8L1901.6 724.7L1902.6 727.8L1903.2 730.5L1903.7 733.3L1904.2 736.2L1904.7 739.1L1905.3 742.0L1905.9 744.9L1906.5 747.8L1907.1 750.5L1908.2 753.6L1909.2 754.0L1909.7 751.6L1910.0 748.6L1910.4 745.3L1910.6 742.6L1910.7 740.1L1910.8 737.6L1910.9 735.0L1911.0 732.4L1911.0 729.6L1911.1 726.9L1911.1 724.1L1911.2 721.3L1911.2 718.6L1911.3 715.8L1911.3 713.1L1911.4 710.5L1911.5 707.8L1911.5 705.1L1911.6 702.5L1911.7 699.8L1911.7 697.1L1911.8 694.5L1911.9 691.8L1911.9 689.2L1912.0 686.5L1912.1 683.8L1912.1 681.2L1912.2 678.5L1912.3 675.9L1912.3 673.2L1912.4 670.5L1912.5 667.9L1912.5 665.2L1912.6 662.5L1912.6 659.9L1912.7 657.2L1912.8 654.6L1912.9 651.9L1912.9 649.2L1913.0 646.6L1913.1 643.9L1913.3 641.2L1913.4 638.4L1913.5 635.7L1913.7 633.0L1913.8 630.2L1913.9 627.5L1914.1 624.9L1914.2 622.3L1914.3 619.7L1914.5 617.2L1914.7 614.6L1915.0 611.8L1915.2 609.3L1915.5 606.7L1915.8 604.1L1916.0 601.4L1916.2 598.8L1916.3 596.3L1916.4 593.7L1916.5 591.1L1916.5 588.5L1916.6 585.8L1916.7 583.1L1916.7 580.4L1916.8 577.6L1916.8 574.9L1916.9 572.2L1917.0 569.5L1917.0 566.9L1917.1 564.2L1917.2 561.5L1917.2 558.8L1917.3 556.1L1917.3 553.5L1917.4 550.8L1917.5 548.1L1917.5 545.4L1917.6 542.8L1917.7 540.2L1917.8 537.6L1917.9 534.8L1918.1 532.1L1918.2 529.3L1918.4 526.6L1918.6 523.9L1918.7 521.2L1918.9 518.6L1919.1 516.1L1919.4 513.6L1919.9 510.5L1920.5 507.3L1921.1 504.5L1921.8 502.5L1923.4 504.3L1924.4 506.8L1924.7 509.2L1925.0 511.8L1925.2 514.5L1925.4 517.4L1925.6 520.2L1925.8 522.9L1926.0 525.5L1926.2 528.2L1926.3 531.0L1926.5 533.7L1926.7 536.5L1926.8 539.2L1927.0 541.8L1927.2 544.4L1927.6 547.2L1928.2 550.4L1928.7 553.4L1929.4 555.9L1930.5 556.0L1932.1 553.6L1932.4 551.3L1932.6 548.7L1932.7 546.0L1932.8 543.2L1932.8 540.3L1932.9 537.6L1933.1 534.9L1933.2 532.3L1933.3 529.6L1933.4 527.0L1933.6 524.3L1933.7 521.6L1934.0 518.9L1934.2 516.1L1934.4 513.3L1934.7 510.6L1935.0 508.0L1935.3 505.7L1936.5 502.9L1937.7 500.9L1939.3 503.0L1940.9 505.7L1942.5 508.1L1943.8 508.0L1944.8 505.3L1945.7 502.5L1946.5 499.8L1947.3 497.1L1948.1 494.5L1949.0 491.9L1950.0 489.3L1951.3 486.9L1952.9 484.6L1954.0 482.0L1954.5 479.4L1954.9 476.6L1955.3 473.7L1955.6 470.9L1955.9 467.9L1956.3 465.0L1956.7 462.2L1957.5 459.5L1958.7 457.0L1959.8 457.0L1960.7 459.6L1961.7 462.5L1962.3 465.2L1962.9 468.1L1963.4 470.9L1964.1 473.7L1964.9 476.6L1965.8 479.4L1966.7 482.1L1968.6 484.6L1971.3 486.5L1972.3 484.4L1973.2 481.5L1974.0 478.8L1974.7 476.0L1975.3 473.2L1976.1 470.5L1977.2 467.7L1978.5 465.1L1980.6 464.6L1983.2 465.7L1984.9 463.8L1986.0 461.3L1986.5 458.6L1987.0 455.7L1987.5 452.7L1988.0 449.8L1988.5 447.2L1989.1 444.5L1989.6 441.8L1990.1 439.2L1990.7 436.5L1991.2 433.8L1991.8 431.1L1992.3 428.5L1992.8 425.9L1993.4 423.2L1993.9 420.5L1994.4 417.8L1994.9 415.1L1995.3 412.3L1995.8 409.5L1996.2 406.7L1996.6 403.9L1997.1 401.2L1997.6 398.7L1998.5 395.5L1999.4 392.5L2000.3 390.0L2001.6 389.9L2003.2 392.5L2004.3 395.1L2004.9 397.9L2005.4 400.7L2005.9 403.7L2006.4 406.7L2006.8 409.3L2007.2 411.9L2007.6 414.5L2008.0 417.2L2008.4 419.9L2008.8 422.6L2009.2 425.3L2009.7 428.1L2010.2 430.8L2010.6 433.6L2011.1 436.4L2011.6 439.1L2012.0 441.8L2012.3 444.6L2012.5 447.4L2012.7 450.2L2012.9 452.8L2013.3 455.1L2015.1 457.2L2017.6 456.7L2019.2 453.9L2020.5 453.8L2021.4 456.4L2022.3 459.5L2023.2 462.5L2023.5 465.1L2023.8 467.7L2024.1 470.3L2024.4 473.0L2024.6 475.6L2024.9 478.4L2025.2 481.4L2025.5 484.5L2025.8 487.3L2026.4 489.7L2028.7 491.3L2029.8 489.1L2030.8 486.1L2031.9 483.3L2034.1 480.8L2035.5 481.0L2036.0 483.6L2036.3 486.7L2036.7 489.7L2037.1 492.5L2037.4 495.4L2037.7 498.4L2038.1 501.1L2038.9 503.9L2040.2 506.8L2041.5 508.9L2042.6 506.7L2043.6 503.7L2044.7 500.9L2046.9 498.4L2048.5 498.6L2049.6 501.1L2050.6 504.2L2051.3 506.9L2051.8 509.5L2052.2 512.1L2052.5 514.8L2052.9 517.6L2053.3 520.3L2053.8 523.0L2054.3 525.6L2054.8 528.3L2055.4 530.9L2055.9 533.6L2056.4 536.3L2056.9 538.9L2057.3 541.6L2057.7 544.3L2058.1 546.9L2058.5 549.6L2058.9 552.2L2059.3 554.9L2059.9 557.6L2060.4 560.2L2060.9 562.9L2061.5 565.5L2062.0 568.2L2062.5 570.9L2063.1 573.5L2063.6 576.2L2064.1 578.9L2064.6 581.6L2065.2 584.2L2065.9 586.9L2066.7 589.6L2067.5 592.3L2068.4 595.0L2069.3 597.6L2070.3 600.0L2072.1 602.4L2074.0 604.5L2075.8 606.8L2077.0 609.2L2077.7 611.7L2078.2 614.3L2078.7 617.0L2079.2 619.8L2079.6 622.6L2080.0 625.2L2080.3 627.8L2080.6 630.4L2080.9 633.0L2081.1 635.7L2081.4 638.4L2081.6 641.1L2081.9 643.8L2082.1 646.5L2082.3 649.2L2082.5 651.8L2082.6 654.4L2082.8 657.1L2082.9 659.7L2083.0 662.4L2083.1 665.1L2083.3 667.8L2083.4 670.5L2083.5 673.2L2083.6 675.8L2083.8 678.5L2083.9 681.2L2084.0 683.8L2084.2 686.5L2084.3 689.2L2084.4 691.8L2084.6 694.5L2084.7 697.1L2084.8 699.8L2084.9 702.5L2085.1 705.1L2085.2 707.8L2085.4 710.5L2085.5 713.1L2085.7 715.8L2085.9 718.4L2086.1 721.1L2086.3 723.8L2086.5 726.4L2086.7 729.1L2086.9 731.7L2087.2 734.4L2087.4 737.1L2087.6 739.7L2087.7 742.4L2087.9 745.1L2088.1 747.7L2088.2 750.4L2088.3 753.1L2088.5 755.8L2088.6 758.5L2088.7 761.2L2088.8 763.9L2089.0 766.5L2089.1 769.2L2089.2 771.8L2089.4 774.4L2089.5 777.0L2089.7 779.8L2089.9 782.4L2090.1 785.1L2090.2 787.7L2090.4 790.4L2090.6 793.0L2090.8 795.6L2090.9 798.3L2091.1 800.9L2091.3 803.6L2091.4 806.3L2091.5 808.9L2091.7 811.6L2091.8 814.3L2092.0 816.9L2092.1 819.6L2092.2 822.2L2092.4 824.9L2092.5 827.6L2092.6 830.2L2092.7 832.9L2092.9 835.6L2093.0 838.2L2093.1 840.9L2093.2 843.6L2093.4 846.2L2093.5 848.9L2093.6 851.5L2093.7 854.2L2093.9 856.8L2094.0 859.5L2094.1 862.1L2094.3 864.8L2094.4 867.4L2094.5 870.0L2094.7 872.9L2094.9 875.9L2095.0 879.1L2095.2 882.2L2095.3 885.1L2095.5 887.7L2095.7 889.9L2095.8 891.6L2096.0 889.9L2096.2 887.7L2096.4 885.0L2096.6 882.1L2096.8 879.0L2097.0 875.9L2097.2 872.8L2097.4 870.0L2097.7 867.3L2098.1 864.5L2098.4 861.8L2098.8 859.1L2099.1 856.4L2099.5 853.7L2099.9 851.0L2100.3 848.3L2100.7 845.6L2101.1 842.9L2101.5 840.3L2102.0 837.6L2102.5 835.0L2103.1 832.4L2103.8 829.8L2104.4 827.3L2105.1 824.8L2105.8 822.2L2106.6 819.6L2107.4 816.9L2108.2 814.4L2109.1 811.9L2110.0 809.4L2110.9 806.9L2111.8 804.4" stroke="#ef4040" stroke-width="9.6"/>
</g>
<g font-size="51.0">
<text x="174" y="1341.3" text-anchor="end">60</text>
<text x="174" y="1019.9" text-anchor="end">70</text>
<text x="174" y="698.4" text-anchor="end">80</text>
<text x="174" y="377.0" text-anchor="end">90</text>
<text x="174" y="55.5" text-anchor="end">100</text>
<text x="218.2" y="1570.5" text-anchor="middle">4000</text>
<text x="504.3" y="1570.5" text-anchor="middle">3500</text>
<text x="790.3" y="1570.5" text-anchor="middle">3000</text>
<text x="1076.4" y="1570.5" text-anchor="middle">2500</text>
<text x="1362.5" y="1570.5" text-anchor="middle">2000</text>
<text x="1648.5" y="1570.5" text-anchor="middle">1500</text>
<text x="1934.6" y="1570.5" text-anchor="middle">1000</text>
</g>
<text x="1165" y="1663.3" font-size="57.4" text-anchor="middle">Wavenumber (1/cm)</text>
<text transform="translate(63 763.8) rotate(-90)" font-size="57.5" text-anchor="middle">Transmittance (%)</text>
<g stroke="#0000ff" stroke-width="5.8" stroke-dasharray="15.5 13.55" fill="none">
<path d="M623.0 321.0V568.90"/>
<path d="M745.0 213.6V887.80"/>
<path d="M836.7 334.1V1366.35"/>
<path d="M876.9 327.5V1214.50"/>
<path d="M1566.1 351.0V1238.00"/>
<path d="M1624.0 342.0V1287.10"/>
<path d="M1676.0 339.0V1080.75"/>
<path d="M1779.6 339.0V848.35"/>
<path d="M1905.2 662.3V1171.65"/>
</g>
<g font-size="51.5" letter-spacing="-0.3">
<text x="563.9" y="639.5">3290</text>
<text x="563.9" y="702.7">(-N-H)</text>
<text x="613.4" y="919.3">3075</text>
<text x="613.4" y="982.5">(-C=C-)</text>
<text x="764.9" y="1414.7">2925</text>
<text x="764.9" y="1477.9">(-C-H)</text>
<text x="887.1" y="1256.8">2850</text>
<text x="887.1" y="1320.0">(-C-H)</text>
<text x="1406.8" y="1233.9">1648</text>
<text x="1406.8" y="1297.1">(-C=O)</text>
<text x="1580.1" y="1344.9">1590</text>
<text x="1580.1" y="1408.1">(-C=N)</text>
<text x="1580.1" y="1471.3">(-C=C-)</text>
<text x="1661.8" y="1129.0">1460</text>
<text x="1661.8" y="1192.2">(-N-H)</text>
<text x="1714.3" y="905.9">1250</text>
<text x="1714.3" y="969.1">(-C=O)</text>
<text x="1870.1" y="1224.9">1050</text>
<text x="1870.1" y="1288.1">(-C-N)</text>
</g>
<g stroke="#000" stroke-width="6" fill="none" stroke-linecap="butt">
<path d="M219.0 37.9V1491.0"/>
<path d="M216.0 1488.0H2111.0"/>
<path d="M205.0 1488.0H217.0"/>
<path d="M193.0 1326.7H217.0"/>
<path d="M205.0 1166.0H217.0"/>
<path d="M193.0 1005.3H217.0"/>
<path d="M205.0 844.5H217.0"/>
<path d="M193.0 683.8H217.0"/>
<path d="M205.0 523.1H217.0"/>
<path d="M193.0 362.4H217.0"/>
<path d="M205.0 201.6H217.0"/>
<path d="M193.0 40.9H217.0"/>
<path d="M219.2 1490.0V1513.5"/>
<path d="M362.2 1490.0V1501.5"/>
<path d="M505.3 1490.0V1513.5"/>
<path d="M648.3 1490.0V1501.5"/>
<path d="M791.3 1490.0V1513.5"/>
<path d="M934.4 1490.0V1501.5"/>
<path d="M1077.4 1490.0V1513.5"/>
<path d="M1220.4 1490.0V1501.5"/>
<path d="M1363.5 1490.0V1513.5"/>
<path d="M1506.5 1490.0V1501.5"/>
<path d="M1649.5 1490.0V1513.5"/>
<path d="M1792.6 1490.0V1501.5"/>
<path d="M1935.6 1490.0V1513.5"/>
<path d="M2078.6 1490.0V1501.5"/>
</g>
<rect x="1740" y="84.5" width="378.5" height="180" fill="#fff" stroke="#000" stroke-width="2"/>
<path d="M1750 132.1H1904" stroke="#505050" stroke-width="10" stroke-linecap="round"/>
<path d="M1750 217.6H1904" stroke="#ef4040" stroke-width="10" stroke-linecap="round"/>
<text x="1923" y="156" font-size="70">A-Lau</text>
<text x="1923" y="240.8" font-size="70">A-Lin</text>
</svg></body></html>
